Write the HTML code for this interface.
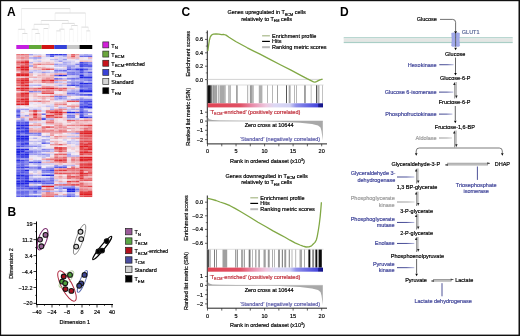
<!DOCTYPE html>
<html><head><meta charset="utf-8"><style>
html,body{margin:0;padding:0;background:#fff;width:520px;height:336px;overflow:hidden}
svg{display:block;will-change:transform}
text{font-family:"Liberation Sans",sans-serif;stroke-width:0.18px}
</style></head><body>
<svg width="520" height="336" viewBox="0 0 520 336">
<defs>
<linearGradient id="cbar" x1="0" x2="1" y1="0" y2="0">
<stop offset="0" stop-color="#e04454"/><stop offset="0.28" stop-color="#e05064"/><stop offset="0.384" stop-color="#e88aa8"/>
<stop offset="0.505" stop-color="#eec8e0"/><stop offset="0.58" stop-color="#dcd8f4"/><stop offset="0.714" stop-color="#d0d0f4"/>
<stop offset="0.766" stop-color="#9090ea"/><stop offset="0.955" stop-color="#4444dc"/><stop offset="0.962" stop-color="#1c1c94"/><stop offset="1" stop-color="#14148a"/>
</linearGradient>
<linearGradient id="bl" x1="0" x2="1" y1="0" y2="0" gradientUnits="objectBoundingBox"><stop offset="0" stop-color="#2c3280"/><stop offset="0.55" stop-color="#3a4092"/><stop offset="1" stop-color="#aeb2da"/></linearGradient>
<linearGradient id="gl" x1="0" x2="1" y1="0" y2="0"><stop offset="0" stop-color="#8a8a8a"/><stop offset="0.6" stop-color="#999"/><stop offset="1" stop-color="#d0d0d0"/></linearGradient>
</defs>
<rect x="0" y="0" width="520" height="336" fill="#fff"/>
<filter id="hb" x="-0.02" y="-0.02" width="1.04" height="1.04"><feGaussianBlur stdDeviation="0.35 0.3"/></filter>
<g filter="url(#hb)"><rect x="16.30" y="54.00" width="4.27" height="1.66" fill="#e7777c"/><rect x="20.52" y="54.00" width="4.27" height="1.66" fill="#e66a6f"/><rect x="24.73" y="54.00" width="4.27" height="1.66" fill="#e87a80"/><rect x="28.95" y="54.00" width="4.27" height="1.66" fill="#a09fee"/><rect x="33.17" y="54.00" width="4.27" height="1.66" fill="#d1cdf3"/><rect x="37.38" y="54.00" width="4.27" height="1.66" fill="#d5d0f3"/><rect x="41.60" y="54.00" width="4.27" height="1.66" fill="#f1ebf6"/><rect x="45.82" y="54.00" width="4.27" height="1.66" fill="#696be9"/><rect x="50.03" y="54.00" width="4.27" height="1.66" fill="#3338e4"/><rect x="54.25" y="54.00" width="4.27" height="1.66" fill="#3237e4"/><rect x="58.47" y="54.00" width="4.27" height="1.66" fill="#3136e4"/><rect x="62.68" y="54.00" width="4.27" height="1.66" fill="#4447e6"/><rect x="66.90" y="54.00" width="4.27" height="1.66" fill="#f0c9d1"/><rect x="71.12" y="54.00" width="4.27" height="1.66" fill="#e6666c"/><rect x="75.33" y="54.00" width="4.27" height="1.66" fill="#eb979d"/><rect x="79.55" y="54.00" width="4.27" height="1.66" fill="#c2bff1"/><rect x="83.77" y="54.00" width="4.27" height="1.66" fill="#a9a7ef"/><rect x="87.98" y="54.00" width="4.27" height="1.66" fill="#bdbaf1"/><rect x="16.30" y="55.61" width="4.27" height="1.66" fill="#edacb3"/><rect x="20.52" y="55.61" width="4.27" height="1.66" fill="#eca7ae"/><rect x="24.73" y="55.61" width="4.27" height="1.66" fill="#eb989e"/><rect x="28.95" y="55.61" width="4.27" height="1.66" fill="#f2d9e1"/><rect x="33.17" y="55.61" width="4.27" height="1.66" fill="#eeb4bb"/><rect x="37.38" y="55.61" width="4.27" height="1.66" fill="#eb959b"/><rect x="41.60" y="55.61" width="4.27" height="1.66" fill="#f1d6dd"/><rect x="45.82" y="55.61" width="4.27" height="1.66" fill="#b2b0f0"/><rect x="50.03" y="55.61" width="4.27" height="1.66" fill="#5154e7"/><rect x="54.25" y="55.61" width="4.27" height="1.66" fill="#d1cdf3"/><rect x="58.47" y="55.61" width="4.27" height="1.66" fill="#d5d0f3"/><rect x="62.68" y="55.61" width="4.27" height="1.66" fill="#acaaef"/><rect x="66.90" y="55.61" width="4.27" height="1.66" fill="#efc1c8"/><rect x="71.12" y="55.61" width="4.27" height="1.66" fill="#e45459"/><rect x="75.33" y="55.61" width="4.27" height="1.66" fill="#efc2ca"/><rect x="79.55" y="55.61" width="4.27" height="1.66" fill="#696be9"/><rect x="83.77" y="55.61" width="4.27" height="1.66" fill="#6e70e9"/><rect x="87.98" y="55.61" width="4.27" height="1.66" fill="#5f61e8"/><rect x="16.30" y="57.21" width="4.27" height="1.66" fill="#ea949a"/><rect x="20.52" y="57.21" width="4.27" height="1.66" fill="#e77075"/><rect x="24.73" y="57.21" width="4.27" height="1.66" fill="#ea8d93"/><rect x="28.95" y="57.21" width="4.27" height="1.66" fill="#a9a7ef"/><rect x="33.17" y="57.21" width="4.27" height="1.66" fill="#8f8eed"/><rect x="37.38" y="57.21" width="4.27" height="1.66" fill="#9292ed"/><rect x="41.60" y="57.21" width="4.27" height="1.66" fill="#e2ddf4"/><rect x="45.82" y="57.21" width="4.27" height="1.66" fill="#e8e3f5"/><rect x="50.03" y="57.21" width="4.27" height="1.66" fill="#f2ecf6"/><rect x="54.25" y="57.21" width="4.27" height="1.66" fill="#f1d2d9"/><rect x="58.47" y="57.21" width="4.27" height="1.66" fill="#cac6f2"/><rect x="62.68" y="57.21" width="4.27" height="1.66" fill="#d6d2f3"/><rect x="66.90" y="57.21" width="4.27" height="1.66" fill="#eeb1b8"/><rect x="71.12" y="57.21" width="4.27" height="1.66" fill="#eb989f"/><rect x="75.33" y="57.21" width="4.27" height="1.66" fill="#edaab1"/><rect x="79.55" y="57.21" width="4.27" height="1.66" fill="#f2dce4"/><rect x="83.77" y="57.21" width="4.27" height="1.66" fill="#f3e9f1"/><rect x="87.98" y="57.21" width="4.27" height="1.66" fill="#edadb4"/><rect x="16.30" y="58.82" width="4.27" height="1.66" fill="#f0cad1"/><rect x="20.52" y="58.82" width="4.27" height="1.66" fill="#eeb4bb"/><rect x="24.73" y="58.82" width="4.27" height="1.66" fill="#eeb6bd"/><rect x="28.95" y="58.82" width="4.27" height="1.66" fill="#f3e7ef"/><rect x="33.17" y="58.82" width="4.27" height="1.66" fill="#cdcaf2"/><rect x="37.38" y="58.82" width="4.27" height="1.66" fill="#f2d8e0"/><rect x="41.60" y="58.82" width="4.27" height="1.66" fill="#f3e4eb"/><rect x="45.82" y="58.82" width="4.27" height="1.66" fill="#f4edf5"/><rect x="50.03" y="58.82" width="4.27" height="1.66" fill="#c0bdf1"/><rect x="54.25" y="58.82" width="4.27" height="1.66" fill="#b0aef0"/><rect x="58.47" y="58.82" width="4.27" height="1.66" fill="#d0ccf3"/><rect x="62.68" y="58.82" width="4.27" height="1.66" fill="#9796ed"/><rect x="66.90" y="58.82" width="4.27" height="1.66" fill="#e9e3f5"/><rect x="71.12" y="58.82" width="4.27" height="1.66" fill="#f3e0e8"/><rect x="75.33" y="58.82" width="4.27" height="1.66" fill="#d1cdf3"/><rect x="79.55" y="58.82" width="4.27" height="1.66" fill="#f2e0e8"/><rect x="83.77" y="58.82" width="4.27" height="1.66" fill="#ece6f5"/><rect x="87.98" y="58.82" width="4.27" height="1.66" fill="#ddd8f4"/><rect x="16.30" y="60.43" width="4.27" height="1.66" fill="#e87f85"/><rect x="20.52" y="60.43" width="4.27" height="1.66" fill="#e6686d"/><rect x="24.73" y="60.43" width="4.27" height="1.66" fill="#e24247"/><rect x="28.95" y="60.43" width="4.27" height="1.66" fill="#f3e1e9"/><rect x="33.17" y="60.43" width="4.27" height="1.66" fill="#d8d4f3"/><rect x="37.38" y="60.43" width="4.27" height="1.66" fill="#c4c1f2"/><rect x="41.60" y="60.43" width="4.27" height="1.66" fill="#f2dee6"/><rect x="45.82" y="60.43" width="4.27" height="1.66" fill="#f2dee6"/><rect x="50.03" y="60.43" width="4.27" height="1.66" fill="#f3e1e9"/><rect x="54.25" y="60.43" width="4.27" height="1.66" fill="#d0ccf3"/><rect x="58.47" y="60.43" width="4.27" height="1.66" fill="#9c9bee"/><rect x="62.68" y="60.43" width="4.27" height="1.66" fill="#cdcaf2"/><rect x="66.90" y="60.43" width="4.27" height="1.66" fill="#cecaf2"/><rect x="71.12" y="60.43" width="4.27" height="1.66" fill="#d8d4f3"/><rect x="75.33" y="60.43" width="4.27" height="1.66" fill="#f4ecf4"/><rect x="79.55" y="60.43" width="4.27" height="1.66" fill="#eeb4ba"/><rect x="83.77" y="60.43" width="4.27" height="1.66" fill="#eeb9c0"/><rect x="87.98" y="60.43" width="4.27" height="1.66" fill="#f0c4cb"/><rect x="16.30" y="62.03" width="4.27" height="1.66" fill="#e4575c"/><rect x="20.52" y="62.03" width="4.27" height="1.66" fill="#df272b"/><rect x="24.73" y="62.03" width="4.27" height="1.66" fill="#de1e22"/><rect x="28.95" y="62.03" width="4.27" height="1.66" fill="#afadf0"/><rect x="33.17" y="62.03" width="4.27" height="1.66" fill="#f2d9e1"/><rect x="37.38" y="62.03" width="4.27" height="1.66" fill="#f1cdd5"/><rect x="41.60" y="62.03" width="4.27" height="1.66" fill="#f0c9d0"/><rect x="45.82" y="62.03" width="4.27" height="1.66" fill="#eeb6bd"/><rect x="50.03" y="62.03" width="4.27" height="1.66" fill="#f1d0d7"/><rect x="54.25" y="62.03" width="4.27" height="1.66" fill="#e2ddf4"/><rect x="58.47" y="62.03" width="4.27" height="1.66" fill="#f3e1e9"/><rect x="62.68" y="62.03" width="4.27" height="1.66" fill="#a3a2ee"/><rect x="66.90" y="62.03" width="4.27" height="1.66" fill="#bab8f1"/><rect x="71.12" y="62.03" width="4.27" height="1.66" fill="#d8d3f3"/><rect x="75.33" y="62.03" width="4.27" height="1.66" fill="#dbd6f4"/><rect x="79.55" y="62.03" width="4.27" height="1.66" fill="#3c41e5"/><rect x="83.77" y="62.03" width="4.27" height="1.66" fill="#6e70e9"/><rect x="87.98" y="62.03" width="4.27" height="1.66" fill="#8586ec"/><rect x="16.30" y="63.64" width="4.27" height="1.66" fill="#e98389"/><rect x="20.52" y="63.64" width="4.27" height="1.66" fill="#e9878d"/><rect x="24.73" y="63.64" width="4.27" height="1.66" fill="#e4585d"/><rect x="28.95" y="63.64" width="4.27" height="1.66" fill="#f0cbd2"/><rect x="33.17" y="63.64" width="4.27" height="1.66" fill="#ea9096"/><rect x="37.38" y="63.64" width="4.27" height="1.66" fill="#e76f74"/><rect x="41.60" y="63.64" width="4.27" height="1.66" fill="#eb99a0"/><rect x="45.82" y="63.64" width="4.27" height="1.66" fill="#eb9ba2"/><rect x="50.03" y="63.64" width="4.27" height="1.66" fill="#ea8e94"/><rect x="54.25" y="63.64" width="4.27" height="1.66" fill="#9291ed"/><rect x="58.47" y="63.64" width="4.27" height="1.66" fill="#afadf0"/><rect x="62.68" y="63.64" width="4.27" height="1.66" fill="#afadf0"/><rect x="66.90" y="63.64" width="4.27" height="1.66" fill="#c4c0f1"/><rect x="71.12" y="63.64" width="4.27" height="1.66" fill="#cecaf2"/><rect x="75.33" y="63.64" width="4.27" height="1.66" fill="#7d7eeb"/><rect x="79.55" y="63.64" width="4.27" height="1.66" fill="#474be6"/><rect x="83.77" y="63.64" width="4.27" height="1.66" fill="#5154e7"/><rect x="87.98" y="63.64" width="4.27" height="1.66" fill="#7f7feb"/><rect x="16.30" y="65.25" width="4.27" height="1.66" fill="#ea9096"/><rect x="20.52" y="65.25" width="4.27" height="1.66" fill="#e13b3f"/><rect x="24.73" y="65.25" width="4.27" height="1.66" fill="#e24549"/><rect x="28.95" y="65.25" width="4.27" height="1.66" fill="#9594ed"/><rect x="33.17" y="65.25" width="4.27" height="1.66" fill="#eca3aa"/><rect x="37.38" y="65.25" width="4.27" height="1.66" fill="#f4eaf2"/><rect x="41.60" y="65.25" width="4.27" height="1.66" fill="#f2dde5"/><rect x="45.82" y="65.25" width="4.27" height="1.66" fill="#ece6f5"/><rect x="50.03" y="65.25" width="4.27" height="1.66" fill="#f4eef6"/><rect x="54.25" y="65.25" width="4.27" height="1.66" fill="#bbb8f1"/><rect x="58.47" y="65.25" width="4.27" height="1.66" fill="#b1aef0"/><rect x="62.68" y="65.25" width="4.27" height="1.66" fill="#bab7f1"/><rect x="66.90" y="65.25" width="4.27" height="1.66" fill="#9292ed"/><rect x="71.12" y="65.25" width="4.27" height="1.66" fill="#9392ed"/><rect x="75.33" y="65.25" width="4.27" height="1.66" fill="#c0bdf1"/><rect x="79.55" y="65.25" width="4.27" height="1.66" fill="#1e24e2"/><rect x="83.77" y="65.25" width="4.27" height="1.66" fill="#3e42e5"/><rect x="87.98" y="65.25" width="4.27" height="1.66" fill="#3439e4"/><rect x="16.30" y="66.85" width="4.27" height="1.66" fill="#de1e22"/><rect x="20.52" y="66.85" width="4.27" height="1.66" fill="#de1e22"/><rect x="24.73" y="66.85" width="4.27" height="1.66" fill="#de1e22"/><rect x="28.95" y="66.85" width="4.27" height="1.66" fill="#f2dee6"/><rect x="33.17" y="66.85" width="4.27" height="1.66" fill="#ea8f95"/><rect x="37.38" y="66.85" width="4.27" height="1.66" fill="#edaab0"/><rect x="41.60" y="66.85" width="4.27" height="1.66" fill="#eeb2b9"/><rect x="45.82" y="66.85" width="4.27" height="1.66" fill="#f1d2d9"/><rect x="50.03" y="66.85" width="4.27" height="1.66" fill="#f2dce4"/><rect x="54.25" y="66.85" width="4.27" height="1.66" fill="#f2ecf6"/><rect x="58.47" y="66.85" width="4.27" height="1.66" fill="#f3edf6"/><rect x="62.68" y="66.85" width="4.27" height="1.66" fill="#f2d9e0"/><rect x="66.90" y="66.85" width="4.27" height="1.66" fill="#8989ec"/><rect x="71.12" y="66.85" width="4.27" height="1.66" fill="#b7b4f0"/><rect x="75.33" y="66.85" width="4.27" height="1.66" fill="#bebbf1"/><rect x="79.55" y="66.85" width="4.27" height="1.66" fill="#9796ed"/><rect x="83.77" y="66.85" width="4.27" height="1.66" fill="#b4b2f0"/><rect x="87.98" y="66.85" width="4.27" height="1.66" fill="#a8a7ef"/><rect x="16.30" y="68.46" width="4.27" height="1.66" fill="#e8797f"/><rect x="20.52" y="68.46" width="4.27" height="1.66" fill="#de1e22"/><rect x="24.73" y="68.46" width="4.27" height="1.66" fill="#de1e22"/><rect x="28.95" y="68.46" width="4.27" height="1.66" fill="#f1d1d9"/><rect x="33.17" y="68.46" width="4.27" height="1.66" fill="#f0c5cc"/><rect x="37.38" y="68.46" width="4.27" height="1.66" fill="#eeb3ba"/><rect x="41.60" y="68.46" width="4.27" height="1.66" fill="#e6686e"/><rect x="45.82" y="68.46" width="4.27" height="1.66" fill="#e34e53"/><rect x="50.03" y="68.46" width="4.27" height="1.66" fill="#e66b71"/><rect x="54.25" y="68.46" width="4.27" height="1.66" fill="#b8b5f0"/><rect x="58.47" y="68.46" width="4.27" height="1.66" fill="#c1bef1"/><rect x="62.68" y="68.46" width="4.27" height="1.66" fill="#c4c1f2"/><rect x="66.90" y="68.46" width="4.27" height="1.66" fill="#5356e7"/><rect x="71.12" y="68.46" width="4.27" height="1.66" fill="#7576ea"/><rect x="75.33" y="68.46" width="4.27" height="1.66" fill="#3a3ee5"/><rect x="79.55" y="68.46" width="4.27" height="1.66" fill="#242ae3"/><rect x="83.77" y="68.46" width="4.27" height="1.66" fill="#5255e7"/><rect x="87.98" y="68.46" width="4.27" height="1.66" fill="#9292ed"/><rect x="16.30" y="70.07" width="4.27" height="1.66" fill="#ea9096"/><rect x="20.52" y="70.07" width="4.27" height="1.66" fill="#e35156"/><rect x="24.73" y="70.07" width="4.27" height="1.66" fill="#e2484d"/><rect x="28.95" y="70.07" width="4.27" height="1.66" fill="#d2cef3"/><rect x="33.17" y="70.07" width="4.27" height="1.66" fill="#bbb8f1"/><rect x="37.38" y="70.07" width="4.27" height="1.66" fill="#cac6f2"/><rect x="41.60" y="70.07" width="4.27" height="1.66" fill="#f1ced6"/><rect x="45.82" y="70.07" width="4.27" height="1.66" fill="#dbd6f4"/><rect x="50.03" y="70.07" width="4.27" height="1.66" fill="#f1ebf6"/><rect x="54.25" y="70.07" width="4.27" height="1.66" fill="#6e6fe9"/><rect x="58.47" y="70.07" width="4.27" height="1.66" fill="#696be9"/><rect x="62.68" y="70.07" width="4.27" height="1.66" fill="#585be7"/><rect x="66.90" y="70.07" width="4.27" height="1.66" fill="#b0aef0"/><rect x="71.12" y="70.07" width="4.27" height="1.66" fill="#a3a1ee"/><rect x="75.33" y="70.07" width="4.27" height="1.66" fill="#8686ec"/><rect x="79.55" y="70.07" width="4.27" height="1.66" fill="#474ae6"/><rect x="83.77" y="70.07" width="4.27" height="1.66" fill="#9b9aee"/><rect x="87.98" y="70.07" width="4.27" height="1.66" fill="#bcb9f1"/><rect x="16.30" y="71.67" width="4.27" height="1.66" fill="#f2dae1"/><rect x="20.52" y="71.67" width="4.27" height="1.66" fill="#e66e73"/><rect x="24.73" y="71.67" width="4.27" height="1.66" fill="#e98288"/><rect x="28.95" y="71.67" width="4.27" height="1.66" fill="#a2a1ee"/><rect x="33.17" y="71.67" width="4.27" height="1.66" fill="#dbd7f4"/><rect x="37.38" y="71.67" width="4.27" height="1.66" fill="#c6c3f2"/><rect x="41.60" y="71.67" width="4.27" height="1.66" fill="#9898ed"/><rect x="45.82" y="71.67" width="4.27" height="1.66" fill="#b5b3f0"/><rect x="50.03" y="71.67" width="4.27" height="1.66" fill="#cecaf2"/><rect x="54.25" y="71.67" width="4.27" height="1.66" fill="#aba9ef"/><rect x="58.47" y="71.67" width="4.27" height="1.66" fill="#c6c2f2"/><rect x="62.68" y="71.67" width="4.27" height="1.66" fill="#c5c2f2"/><rect x="66.90" y="71.67" width="4.27" height="1.66" fill="#7c7deb"/><rect x="71.12" y="71.67" width="4.27" height="1.66" fill="#7576ea"/><rect x="75.33" y="71.67" width="4.27" height="1.66" fill="#8a8aec"/><rect x="79.55" y="71.67" width="4.27" height="1.66" fill="#4448e6"/><rect x="83.77" y="71.67" width="4.27" height="1.66" fill="#8080eb"/><rect x="87.98" y="71.67" width="4.27" height="1.66" fill="#4a4de6"/><rect x="16.30" y="73.28" width="4.27" height="1.66" fill="#de1e22"/><rect x="20.52" y="73.28" width="4.27" height="1.66" fill="#de1e22"/><rect x="24.73" y="73.28" width="4.27" height="1.66" fill="#de1e22"/><rect x="28.95" y="73.28" width="4.27" height="1.66" fill="#eeb4ba"/><rect x="33.17" y="73.28" width="4.27" height="1.66" fill="#f2dde5"/><rect x="37.38" y="73.28" width="4.27" height="1.66" fill="#f1cfd7"/><rect x="41.60" y="73.28" width="4.27" height="1.66" fill="#eeb1b8"/><rect x="45.82" y="73.28" width="4.27" height="1.66" fill="#f1d6de"/><rect x="50.03" y="73.28" width="4.27" height="1.66" fill="#f0c5cd"/><rect x="54.25" y="73.28" width="4.27" height="1.66" fill="#eca2a9"/><rect x="58.47" y="73.28" width="4.27" height="1.66" fill="#eb979e"/><rect x="62.68" y="73.28" width="4.27" height="1.66" fill="#eda9b0"/><rect x="66.90" y="73.28" width="4.27" height="1.66" fill="#7475ea"/><rect x="71.12" y="73.28" width="4.27" height="1.66" fill="#6264e8"/><rect x="75.33" y="73.28" width="4.27" height="1.66" fill="#7072ea"/><rect x="79.55" y="73.28" width="4.27" height="1.66" fill="#7475ea"/><rect x="83.77" y="73.28" width="4.27" height="1.66" fill="#a3a1ee"/><rect x="87.98" y="73.28" width="4.27" height="1.66" fill="#8e8eed"/><rect x="16.30" y="74.89" width="4.27" height="1.66" fill="#de1e22"/><rect x="20.52" y="74.89" width="4.27" height="1.66" fill="#de1e22"/><rect x="24.73" y="74.89" width="4.27" height="1.66" fill="#de1e22"/><rect x="28.95" y="74.89" width="4.27" height="1.66" fill="#eebac1"/><rect x="33.17" y="74.89" width="4.27" height="1.66" fill="#f4edf5"/><rect x="37.38" y="74.89" width="4.27" height="1.66" fill="#edafb6"/><rect x="41.60" y="74.89" width="4.27" height="1.66" fill="#eeb5bc"/><rect x="45.82" y="74.89" width="4.27" height="1.66" fill="#f0cbd2"/><rect x="50.03" y="74.89" width="4.27" height="1.66" fill="#eca1a7"/><rect x="54.25" y="74.89" width="4.27" height="1.66" fill="#6063e8"/><rect x="58.47" y="74.89" width="4.27" height="1.66" fill="#1e24e2"/><rect x="62.68" y="74.89" width="4.27" height="1.66" fill="#2b31e3"/><rect x="66.90" y="74.89" width="4.27" height="1.66" fill="#c2bff1"/><rect x="71.12" y="74.89" width="4.27" height="1.66" fill="#bfbcf1"/><rect x="75.33" y="74.89" width="4.27" height="1.66" fill="#b3b1f0"/><rect x="79.55" y="74.89" width="4.27" height="1.66" fill="#2025e2"/><rect x="83.77" y="74.89" width="4.27" height="1.66" fill="#a2a1ee"/><rect x="87.98" y="74.89" width="4.27" height="1.66" fill="#8b8bec"/><rect x="16.30" y="76.49" width="4.27" height="1.66" fill="#f0c7ce"/><rect x="20.52" y="76.49" width="4.27" height="1.66" fill="#f0c5cd"/><rect x="24.73" y="76.49" width="4.27" height="1.66" fill="#eda8af"/><rect x="28.95" y="76.49" width="4.27" height="1.66" fill="#eeb5bc"/><rect x="33.17" y="76.49" width="4.27" height="1.66" fill="#eda9af"/><rect x="37.38" y="76.49" width="4.27" height="1.66" fill="#efc3ca"/><rect x="41.60" y="76.49" width="4.27" height="1.66" fill="#eeb8be"/><rect x="45.82" y="76.49" width="4.27" height="1.66" fill="#edabb2"/><rect x="50.03" y="76.49" width="4.27" height="1.66" fill="#edadb4"/><rect x="54.25" y="76.49" width="4.27" height="1.66" fill="#f1d5dc"/><rect x="58.47" y="76.49" width="4.27" height="1.66" fill="#f2dee5"/><rect x="62.68" y="76.49" width="4.27" height="1.66" fill="#f3e9f1"/><rect x="66.90" y="76.49" width="4.27" height="1.66" fill="#ccc8f2"/><rect x="71.12" y="76.49" width="4.27" height="1.66" fill="#bcb9f1"/><rect x="75.33" y="76.49" width="4.27" height="1.66" fill="#aaa8ef"/><rect x="79.55" y="76.49" width="4.27" height="1.66" fill="#1e24e2"/><rect x="83.77" y="76.49" width="4.27" height="1.66" fill="#2c31e3"/><rect x="87.98" y="76.49" width="4.27" height="1.66" fill="#2a2fe3"/><rect x="16.30" y="78.10" width="4.27" height="1.66" fill="#e5646a"/><rect x="20.52" y="78.10" width="4.27" height="1.66" fill="#e13d42"/><rect x="24.73" y="78.10" width="4.27" height="1.66" fill="#e03034"/><rect x="28.95" y="78.10" width="4.27" height="1.66" fill="#f4ecf4"/><rect x="33.17" y="78.10" width="4.27" height="1.66" fill="#e2ddf4"/><rect x="37.38" y="78.10" width="4.27" height="1.66" fill="#f2d6de"/><rect x="41.60" y="78.10" width="4.27" height="1.66" fill="#eca6ad"/><rect x="45.82" y="78.10" width="4.27" height="1.66" fill="#e98389"/><rect x="50.03" y="78.10" width="4.27" height="1.66" fill="#eda9b0"/><rect x="54.25" y="78.10" width="4.27" height="1.66" fill="#5a5ce8"/><rect x="58.47" y="78.10" width="4.27" height="1.66" fill="#7c7ceb"/><rect x="62.68" y="78.10" width="4.27" height="1.66" fill="#b4b1f0"/><rect x="66.90" y="78.10" width="4.27" height="1.66" fill="#6e6fe9"/><rect x="71.12" y="78.10" width="4.27" height="1.66" fill="#595be7"/><rect x="75.33" y="78.10" width="4.27" height="1.66" fill="#6668e9"/><rect x="79.55" y="78.10" width="4.27" height="1.66" fill="#7475ea"/><rect x="83.77" y="78.10" width="4.27" height="1.66" fill="#7475ea"/><rect x="87.98" y="78.10" width="4.27" height="1.66" fill="#6d6ee9"/><rect x="16.30" y="79.71" width="4.27" height="1.66" fill="#e24247"/><rect x="20.52" y="79.71" width="4.27" height="1.66" fill="#de1e22"/><rect x="24.73" y="79.71" width="4.27" height="1.66" fill="#de1e22"/><rect x="28.95" y="79.71" width="4.27" height="1.66" fill="#f0c6cd"/><rect x="33.17" y="79.71" width="4.27" height="1.66" fill="#eda9b0"/><rect x="37.38" y="79.71" width="4.27" height="1.66" fill="#eeb3ba"/><rect x="41.60" y="79.71" width="4.27" height="1.66" fill="#e13d42"/><rect x="45.82" y="79.71" width="4.27" height="1.66" fill="#e4545a"/><rect x="50.03" y="79.71" width="4.27" height="1.66" fill="#de1e22"/><rect x="54.25" y="79.71" width="4.27" height="1.66" fill="#ea8d93"/><rect x="58.47" y="79.71" width="4.27" height="1.66" fill="#edabb2"/><rect x="62.68" y="79.71" width="4.27" height="1.66" fill="#eca5ac"/><rect x="66.90" y="79.71" width="4.27" height="1.66" fill="#eae4f5"/><rect x="71.12" y="79.71" width="4.27" height="1.66" fill="#aba9ef"/><rect x="75.33" y="79.71" width="4.27" height="1.66" fill="#c5c1f2"/><rect x="79.55" y="79.71" width="4.27" height="1.66" fill="#9f9dee"/><rect x="83.77" y="79.71" width="4.27" height="1.66" fill="#8a8aec"/><rect x="87.98" y="79.71" width="4.27" height="1.66" fill="#7172ea"/><rect x="16.30" y="81.31" width="4.27" height="1.66" fill="#e4585d"/><rect x="20.52" y="81.31" width="4.27" height="1.66" fill="#df272b"/><rect x="24.73" y="81.31" width="4.27" height="1.66" fill="#e02d31"/><rect x="28.95" y="81.31" width="4.27" height="1.66" fill="#eb9da3"/><rect x="33.17" y="81.31" width="4.27" height="1.66" fill="#efc1c8"/><rect x="37.38" y="81.31" width="4.27" height="1.66" fill="#eeb8bf"/><rect x="41.60" y="81.31" width="4.27" height="1.66" fill="#e6686d"/><rect x="45.82" y="81.31" width="4.27" height="1.66" fill="#e9868c"/><rect x="50.03" y="81.31" width="4.27" height="1.66" fill="#e77177"/><rect x="54.25" y="81.31" width="4.27" height="1.66" fill="#a4a3ef"/><rect x="58.47" y="81.31" width="4.27" height="1.66" fill="#c1bdf1"/><rect x="62.68" y="81.31" width="4.27" height="1.66" fill="#dbd7f4"/><rect x="66.90" y="81.31" width="4.27" height="1.66" fill="#9797ed"/><rect x="71.12" y="81.31" width="4.27" height="1.66" fill="#8a8aec"/><rect x="75.33" y="81.31" width="4.27" height="1.66" fill="#8686ec"/><rect x="79.55" y="81.31" width="4.27" height="1.66" fill="#7475ea"/><rect x="83.77" y="81.31" width="4.27" height="1.66" fill="#b9b6f0"/><rect x="87.98" y="81.31" width="4.27" height="1.66" fill="#9d9cee"/><rect x="16.30" y="82.92" width="4.27" height="1.66" fill="#e87f85"/><rect x="20.52" y="82.92" width="4.27" height="1.66" fill="#e13d42"/><rect x="24.73" y="82.92" width="4.27" height="1.66" fill="#e76f74"/><rect x="28.95" y="82.92" width="4.27" height="1.66" fill="#ebe5f5"/><rect x="33.17" y="82.92" width="4.27" height="1.66" fill="#f3e7ef"/><rect x="37.38" y="82.92" width="4.27" height="1.66" fill="#f2dee6"/><rect x="41.60" y="82.92" width="4.27" height="1.66" fill="#f3e6ed"/><rect x="45.82" y="82.92" width="4.27" height="1.66" fill="#f0c8cf"/><rect x="50.03" y="82.92" width="4.27" height="1.66" fill="#efc3ca"/><rect x="54.25" y="82.92" width="4.27" height="1.66" fill="#f0cbd3"/><rect x="58.47" y="82.92" width="4.27" height="1.66" fill="#f0cad1"/><rect x="62.68" y="82.92" width="4.27" height="1.66" fill="#eeb9c0"/><rect x="66.90" y="82.92" width="4.27" height="1.66" fill="#bfbcf1"/><rect x="71.12" y="82.92" width="4.27" height="1.66" fill="#8a8aec"/><rect x="75.33" y="82.92" width="4.27" height="1.66" fill="#9b9aee"/><rect x="79.55" y="82.92" width="4.27" height="1.66" fill="#2026e2"/><rect x="83.77" y="82.92" width="4.27" height="1.66" fill="#1f25e2"/><rect x="87.98" y="82.92" width="4.27" height="1.66" fill="#3539e4"/><rect x="16.30" y="84.53" width="4.27" height="1.66" fill="#e55c61"/><rect x="20.52" y="84.53" width="4.27" height="1.66" fill="#e1363b"/><rect x="24.73" y="84.53" width="4.27" height="1.66" fill="#de1e22"/><rect x="28.95" y="84.53" width="4.27" height="1.66" fill="#bcb9f1"/><rect x="33.17" y="84.53" width="4.27" height="1.66" fill="#b2b0f0"/><rect x="37.38" y="84.53" width="4.27" height="1.66" fill="#a6a4ef"/><rect x="41.60" y="84.53" width="4.27" height="1.66" fill="#f0cdd4"/><rect x="45.82" y="84.53" width="4.27" height="1.66" fill="#e0dbf4"/><rect x="50.03" y="84.53" width="4.27" height="1.66" fill="#f2dde5"/><rect x="54.25" y="84.53" width="4.27" height="1.66" fill="#c9c5f2"/><rect x="58.47" y="84.53" width="4.27" height="1.66" fill="#a8a6ef"/><rect x="62.68" y="84.53" width="4.27" height="1.66" fill="#cdc9f2"/><rect x="66.90" y="84.53" width="4.27" height="1.66" fill="#585be7"/><rect x="71.12" y="84.53" width="4.27" height="1.66" fill="#373ce4"/><rect x="75.33" y="84.53" width="4.27" height="1.66" fill="#5053e7"/><rect x="79.55" y="84.53" width="4.27" height="1.66" fill="#5e61e8"/><rect x="83.77" y="84.53" width="4.27" height="1.66" fill="#6f70ea"/><rect x="87.98" y="84.53" width="4.27" height="1.66" fill="#7273ea"/><rect x="16.30" y="86.13" width="4.27" height="1.66" fill="#eeb5bc"/><rect x="20.52" y="86.13" width="4.27" height="1.66" fill="#e66d72"/><rect x="24.73" y="86.13" width="4.27" height="1.66" fill="#e7747a"/><rect x="28.95" y="86.13" width="4.27" height="1.66" fill="#dfdaf4"/><rect x="33.17" y="86.13" width="4.27" height="1.66" fill="#f4eef6"/><rect x="37.38" y="86.13" width="4.27" height="1.66" fill="#ece7f5"/><rect x="41.60" y="86.13" width="4.27" height="1.66" fill="#ea9298"/><rect x="45.82" y="86.13" width="4.27" height="1.66" fill="#e9898f"/><rect x="50.03" y="86.13" width="4.27" height="1.66" fill="#eb9da3"/><rect x="54.25" y="86.13" width="4.27" height="1.66" fill="#f0c7ce"/><rect x="58.47" y="86.13" width="4.27" height="1.66" fill="#e4dff5"/><rect x="62.68" y="86.13" width="4.27" height="1.66" fill="#f3e0e8"/><rect x="66.90" y="86.13" width="4.27" height="1.66" fill="#d9d4f3"/><rect x="71.12" y="86.13" width="4.27" height="1.66" fill="#eee8f5"/><rect x="75.33" y="86.13" width="4.27" height="1.66" fill="#a3a2ee"/><rect x="79.55" y="86.13" width="4.27" height="1.66" fill="#4145e5"/><rect x="83.77" y="86.13" width="4.27" height="1.66" fill="#5659e7"/><rect x="87.98" y="86.13" width="4.27" height="1.66" fill="#5e60e8"/><rect x="16.30" y="87.74" width="4.27" height="1.66" fill="#de1e22"/><rect x="20.52" y="87.74" width="4.27" height="1.66" fill="#de1e22"/><rect x="24.73" y="87.74" width="4.27" height="1.66" fill="#de1e22"/><rect x="28.95" y="87.74" width="4.27" height="1.66" fill="#e9848a"/><rect x="33.17" y="87.74" width="4.27" height="1.66" fill="#e66a6f"/><rect x="37.38" y="87.74" width="4.27" height="1.66" fill="#e24347"/><rect x="41.60" y="87.74" width="4.27" height="1.66" fill="#e1383c"/><rect x="45.82" y="87.74" width="4.27" height="1.66" fill="#e03337"/><rect x="50.03" y="87.74" width="4.27" height="1.66" fill="#de1e22"/><rect x="54.25" y="87.74" width="4.27" height="1.66" fill="#e45459"/><rect x="58.47" y="87.74" width="4.27" height="1.66" fill="#e6656a"/><rect x="62.68" y="87.74" width="4.27" height="1.66" fill="#e34f54"/><rect x="66.90" y="87.74" width="4.27" height="1.66" fill="#eebac1"/><rect x="71.12" y="87.74" width="4.27" height="1.66" fill="#eeb7be"/><rect x="75.33" y="87.74" width="4.27" height="1.66" fill="#f1d6de"/><rect x="79.55" y="87.74" width="4.27" height="1.66" fill="#8e8dec"/><rect x="83.77" y="87.74" width="4.27" height="1.66" fill="#8c8cec"/><rect x="87.98" y="87.74" width="4.27" height="1.66" fill="#686ae9"/><rect x="16.30" y="89.35" width="4.27" height="1.66" fill="#e76f75"/><rect x="20.52" y="89.35" width="4.27" height="1.66" fill="#e02e33"/><rect x="24.73" y="89.35" width="4.27" height="1.66" fill="#e34a4f"/><rect x="28.95" y="89.35" width="4.27" height="1.66" fill="#edaab1"/><rect x="33.17" y="89.35" width="4.27" height="1.66" fill="#ea8b91"/><rect x="37.38" y="89.35" width="4.27" height="1.66" fill="#eb9da4"/><rect x="41.60" y="89.35" width="4.27" height="1.66" fill="#eca3aa"/><rect x="45.82" y="89.35" width="4.27" height="1.66" fill="#e98a90"/><rect x="50.03" y="89.35" width="4.27" height="1.66" fill="#ea9299"/><rect x="54.25" y="89.35" width="4.27" height="1.66" fill="#ec9fa6"/><rect x="58.47" y="89.35" width="4.27" height="1.66" fill="#e6656a"/><rect x="62.68" y="89.35" width="4.27" height="1.66" fill="#eb949b"/><rect x="66.90" y="89.35" width="4.27" height="1.66" fill="#cac7f2"/><rect x="71.12" y="89.35" width="4.27" height="1.66" fill="#acaaef"/><rect x="75.33" y="89.35" width="4.27" height="1.66" fill="#b9b6f0"/><rect x="79.55" y="89.35" width="4.27" height="1.66" fill="#1e24e2"/><rect x="83.77" y="89.35" width="4.27" height="1.66" fill="#4044e5"/><rect x="87.98" y="89.35" width="4.27" height="1.66" fill="#373be4"/><rect x="16.30" y="90.96" width="4.27" height="1.66" fill="#f2d7de"/><rect x="20.52" y="90.96" width="4.27" height="1.66" fill="#eeb7be"/><rect x="24.73" y="90.96" width="4.27" height="1.66" fill="#eca0a6"/><rect x="28.95" y="90.96" width="4.27" height="1.66" fill="#7476ea"/><rect x="33.17" y="90.96" width="4.27" height="1.66" fill="#9291ed"/><rect x="37.38" y="90.96" width="4.27" height="1.66" fill="#9a99ee"/><rect x="41.60" y="90.96" width="4.27" height="1.66" fill="#e76f75"/><rect x="45.82" y="90.96" width="4.27" height="1.66" fill="#e87e84"/><rect x="50.03" y="90.96" width="4.27" height="1.66" fill="#ea8c92"/><rect x="54.25" y="90.96" width="4.27" height="1.66" fill="#f4eaf2"/><rect x="58.47" y="90.96" width="4.27" height="1.66" fill="#eae5f5"/><rect x="62.68" y="90.96" width="4.27" height="1.66" fill="#f0cdd4"/><rect x="66.90" y="90.96" width="4.27" height="1.66" fill="#b8b5f0"/><rect x="71.12" y="90.96" width="4.27" height="1.66" fill="#a5a3ef"/><rect x="75.33" y="90.96" width="4.27" height="1.66" fill="#9d9cee"/><rect x="79.55" y="90.96" width="4.27" height="1.66" fill="#1e24e2"/><rect x="83.77" y="90.96" width="4.27" height="1.66" fill="#1e24e2"/><rect x="87.98" y="90.96" width="4.27" height="1.66" fill="#1e24e2"/><rect x="16.30" y="92.56" width="4.27" height="1.66" fill="#e8797f"/><rect x="20.52" y="92.56" width="4.27" height="1.66" fill="#df292d"/><rect x="24.73" y="92.56" width="4.27" height="1.66" fill="#de1e22"/><rect x="28.95" y="92.56" width="4.27" height="1.66" fill="#efbfc6"/><rect x="33.17" y="92.56" width="4.27" height="1.66" fill="#eebac1"/><rect x="37.38" y="92.56" width="4.27" height="1.66" fill="#f0c7ce"/><rect x="41.60" y="92.56" width="4.27" height="1.66" fill="#e34b50"/><rect x="45.82" y="92.56" width="4.27" height="1.66" fill="#e35256"/><rect x="50.03" y="92.56" width="4.27" height="1.66" fill="#e24347"/><rect x="54.25" y="92.56" width="4.27" height="1.66" fill="#e7e2f5"/><rect x="58.47" y="92.56" width="4.27" height="1.66" fill="#f3e5ed"/><rect x="62.68" y="92.56" width="4.27" height="1.66" fill="#f1d3da"/><rect x="66.90" y="92.56" width="4.27" height="1.66" fill="#7072ea"/><rect x="71.12" y="92.56" width="4.27" height="1.66" fill="#7072ea"/><rect x="75.33" y="92.56" width="4.27" height="1.66" fill="#9493ed"/><rect x="79.55" y="92.56" width="4.27" height="1.66" fill="#b1aef0"/><rect x="83.77" y="92.56" width="4.27" height="1.66" fill="#ccc8f2"/><rect x="87.98" y="92.56" width="4.27" height="1.66" fill="#cecbf2"/><rect x="16.30" y="94.17" width="4.27" height="1.66" fill="#e45459"/><rect x="20.52" y="94.17" width="4.27" height="1.66" fill="#de1e22"/><rect x="24.73" y="94.17" width="4.27" height="1.66" fill="#e03135"/><rect x="28.95" y="94.17" width="4.27" height="1.66" fill="#f1d3db"/><rect x="33.17" y="94.17" width="4.27" height="1.66" fill="#eebac1"/><rect x="37.38" y="94.17" width="4.27" height="1.66" fill="#f4ecf4"/><rect x="41.60" y="94.17" width="4.27" height="1.66" fill="#f2ecf6"/><rect x="45.82" y="94.17" width="4.27" height="1.66" fill="#ece6f5"/><rect x="50.03" y="94.17" width="4.27" height="1.66" fill="#f1d3da"/><rect x="54.25" y="94.17" width="4.27" height="1.66" fill="#edadb4"/><rect x="58.47" y="94.17" width="4.27" height="1.66" fill="#eca1a8"/><rect x="62.68" y="94.17" width="4.27" height="1.66" fill="#efc2c9"/><rect x="66.90" y="94.17" width="4.27" height="1.66" fill="#9b9aee"/><rect x="71.12" y="94.17" width="4.27" height="1.66" fill="#9b9aee"/><rect x="75.33" y="94.17" width="4.27" height="1.66" fill="#7677ea"/><rect x="79.55" y="94.17" width="4.27" height="1.66" fill="#4145e5"/><rect x="83.77" y="94.17" width="4.27" height="1.66" fill="#363ae4"/><rect x="87.98" y="94.17" width="4.27" height="1.66" fill="#1e24e2"/><rect x="16.30" y="95.78" width="4.27" height="1.66" fill="#e77176"/><rect x="20.52" y="95.78" width="4.27" height="1.66" fill="#e2464b"/><rect x="24.73" y="95.78" width="4.27" height="1.66" fill="#e34d52"/><rect x="28.95" y="95.78" width="4.27" height="1.66" fill="#f1d6dd"/><rect x="33.17" y="95.78" width="4.27" height="1.66" fill="#eeb6bc"/><rect x="37.38" y="95.78" width="4.27" height="1.66" fill="#eb99a0"/><rect x="41.60" y="95.78" width="4.27" height="1.66" fill="#ea8e94"/><rect x="45.82" y="95.78" width="4.27" height="1.66" fill="#ea9298"/><rect x="50.03" y="95.78" width="4.27" height="1.66" fill="#e6686e"/><rect x="54.25" y="95.78" width="4.27" height="1.66" fill="#7576ea"/><rect x="58.47" y="95.78" width="4.27" height="1.66" fill="#7273ea"/><rect x="62.68" y="95.78" width="4.27" height="1.66" fill="#8c8cec"/><rect x="66.90" y="95.78" width="4.27" height="1.66" fill="#f0c5cc"/><rect x="71.12" y="95.78" width="4.27" height="1.66" fill="#f3e5ed"/><rect x="75.33" y="95.78" width="4.27" height="1.66" fill="#f3e9f1"/><rect x="79.55" y="95.78" width="4.27" height="1.66" fill="#f3e4ec"/><rect x="83.77" y="95.78" width="4.27" height="1.66" fill="#f3e5ed"/><rect x="87.98" y="95.78" width="4.27" height="1.66" fill="#dcd7f4"/><rect x="16.30" y="97.38" width="4.27" height="1.66" fill="#e77278"/><rect x="20.52" y="97.38" width="4.27" height="1.66" fill="#e56368"/><rect x="24.73" y="97.38" width="4.27" height="1.66" fill="#e3494e"/><rect x="28.95" y="97.38" width="4.27" height="1.66" fill="#f3e3eb"/><rect x="33.17" y="97.38" width="4.27" height="1.66" fill="#f1d2da"/><rect x="37.38" y="97.38" width="4.27" height="1.66" fill="#f0c4cb"/><rect x="41.60" y="97.38" width="4.27" height="1.66" fill="#eca5ab"/><rect x="45.82" y="97.38" width="4.27" height="1.66" fill="#f0ccd4"/><rect x="50.03" y="97.38" width="4.27" height="1.66" fill="#f0c6cd"/><rect x="54.25" y="97.38" width="4.27" height="1.66" fill="#afadf0"/><rect x="58.47" y="97.38" width="4.27" height="1.66" fill="#8a8aec"/><rect x="62.68" y="97.38" width="4.27" height="1.66" fill="#aba9ef"/><rect x="66.90" y="97.38" width="4.27" height="1.66" fill="#e5e0f5"/><rect x="71.12" y="97.38" width="4.27" height="1.66" fill="#f3e7ef"/><rect x="75.33" y="97.38" width="4.27" height="1.66" fill="#dbd7f4"/><rect x="79.55" y="97.38" width="4.27" height="1.66" fill="#a19fee"/><rect x="83.77" y="97.38" width="4.27" height="1.66" fill="#ccc8f2"/><rect x="87.98" y="97.38" width="4.27" height="1.66" fill="#d0ccf3"/><rect x="16.30" y="98.99" width="4.27" height="1.66" fill="#e4575c"/><rect x="20.52" y="98.99" width="4.27" height="1.66" fill="#de1e22"/><rect x="24.73" y="98.99" width="4.27" height="1.66" fill="#df262a"/><rect x="28.95" y="98.99" width="4.27" height="1.66" fill="#eae5f5"/><rect x="33.17" y="98.99" width="4.27" height="1.66" fill="#d6d1f3"/><rect x="37.38" y="98.99" width="4.27" height="1.66" fill="#eae5f5"/><rect x="41.60" y="98.99" width="4.27" height="1.66" fill="#efc1c8"/><rect x="45.82" y="98.99" width="4.27" height="1.66" fill="#f0eaf6"/><rect x="50.03" y="98.99" width="4.27" height="1.66" fill="#eeb2b9"/><rect x="54.25" y="98.99" width="4.27" height="1.66" fill="#aeacef"/><rect x="58.47" y="98.99" width="4.27" height="1.66" fill="#bdbaf1"/><rect x="62.68" y="98.99" width="4.27" height="1.66" fill="#c0bdf1"/><rect x="66.90" y="98.99" width="4.27" height="1.66" fill="#c7c4f2"/><rect x="71.12" y="98.99" width="4.27" height="1.66" fill="#9796ed"/><rect x="75.33" y="98.99" width="4.27" height="1.66" fill="#8585ec"/><rect x="79.55" y="98.99" width="4.27" height="1.66" fill="#7d7eeb"/><rect x="83.77" y="98.99" width="4.27" height="1.66" fill="#8182eb"/><rect x="87.98" y="98.99" width="4.27" height="1.66" fill="#7e7eeb"/><rect x="16.30" y="100.60" width="4.27" height="1.66" fill="#e02e32"/><rect x="20.52" y="100.60" width="4.27" height="1.66" fill="#e13a3e"/><rect x="24.73" y="100.60" width="4.27" height="1.66" fill="#de1e22"/><rect x="28.95" y="100.60" width="4.27" height="1.66" fill="#ec9ea5"/><rect x="33.17" y="100.60" width="4.27" height="1.66" fill="#e98389"/><rect x="37.38" y="100.60" width="4.27" height="1.66" fill="#e66a6f"/><rect x="41.60" y="100.60" width="4.27" height="1.66" fill="#eb979d"/><rect x="45.82" y="100.60" width="4.27" height="1.66" fill="#eb9ca2"/><rect x="50.03" y="100.60" width="4.27" height="1.66" fill="#f2dfe7"/><rect x="54.25" y="100.60" width="4.27" height="1.66" fill="#f4ebf3"/><rect x="58.47" y="100.60" width="4.27" height="1.66" fill="#f3e7ef"/><rect x="62.68" y="100.60" width="4.27" height="1.66" fill="#f0cdd4"/><rect x="66.90" y="100.60" width="4.27" height="1.66" fill="#e34b50"/><rect x="71.12" y="100.60" width="4.27" height="1.66" fill="#e34a4f"/><rect x="75.33" y="100.60" width="4.27" height="1.66" fill="#e34f54"/><rect x="79.55" y="100.60" width="4.27" height="1.66" fill="#5053e7"/><rect x="83.77" y="100.60" width="4.27" height="1.66" fill="#474be6"/><rect x="87.98" y="100.60" width="4.27" height="1.66" fill="#3a3ee5"/><rect x="16.30" y="102.20" width="4.27" height="1.66" fill="#e56066"/><rect x="20.52" y="102.20" width="4.27" height="1.66" fill="#e45459"/><rect x="24.73" y="102.20" width="4.27" height="1.66" fill="#de1e22"/><rect x="28.95" y="102.20" width="4.27" height="1.66" fill="#e1dcf4"/><rect x="33.17" y="102.20" width="4.27" height="1.66" fill="#ede7f5"/><rect x="37.38" y="102.20" width="4.27" height="1.66" fill="#ded9f4"/><rect x="41.60" y="102.20" width="4.27" height="1.66" fill="#eeb3ba"/><rect x="45.82" y="102.20" width="4.27" height="1.66" fill="#f1d0d7"/><rect x="50.03" y="102.20" width="4.27" height="1.66" fill="#f2dae1"/><rect x="54.25" y="102.20" width="4.27" height="1.66" fill="#eeb3ba"/><rect x="58.47" y="102.20" width="4.27" height="1.66" fill="#eeb9c0"/><rect x="62.68" y="102.20" width="4.27" height="1.66" fill="#edacb3"/><rect x="66.90" y="102.20" width="4.27" height="1.66" fill="#efe9f6"/><rect x="71.12" y="102.20" width="4.27" height="1.66" fill="#f3e6ee"/><rect x="75.33" y="102.20" width="4.27" height="1.66" fill="#e5e0f5"/><rect x="79.55" y="102.20" width="4.27" height="1.66" fill="#7678ea"/><rect x="83.77" y="102.20" width="4.27" height="1.66" fill="#494de6"/><rect x="87.98" y="102.20" width="4.27" height="1.66" fill="#6e70e9"/><rect x="16.30" y="103.81" width="4.27" height="1.66" fill="#de1e22"/><rect x="20.52" y="103.81" width="4.27" height="1.66" fill="#de1e22"/><rect x="24.73" y="103.81" width="4.27" height="1.66" fill="#de1e22"/><rect x="28.95" y="103.81" width="4.27" height="1.66" fill="#f0eaf6"/><rect x="33.17" y="103.81" width="4.27" height="1.66" fill="#f2dfe7"/><rect x="37.38" y="103.81" width="4.27" height="1.66" fill="#f3e5ed"/><rect x="41.60" y="103.81" width="4.27" height="1.66" fill="#ede7f5"/><rect x="45.82" y="103.81" width="4.27" height="1.66" fill="#f3e0e8"/><rect x="50.03" y="103.81" width="4.27" height="1.66" fill="#ddd8f4"/><rect x="54.25" y="103.81" width="4.27" height="1.66" fill="#ea8e94"/><rect x="58.47" y="103.81" width="4.27" height="1.66" fill="#ea8c92"/><rect x="62.68" y="103.81" width="4.27" height="1.66" fill="#e7767b"/><rect x="66.90" y="103.81" width="4.27" height="1.66" fill="#f4edf5"/><rect x="71.12" y="103.81" width="4.27" height="1.66" fill="#f0cdd4"/><rect x="75.33" y="103.81" width="4.27" height="1.66" fill="#f0cbd3"/><rect x="79.55" y="103.81" width="4.27" height="1.66" fill="#6164e8"/><rect x="83.77" y="103.81" width="4.27" height="1.66" fill="#7374ea"/><rect x="87.98" y="103.81" width="4.27" height="1.66" fill="#464ae6"/><rect x="16.30" y="105.42" width="4.27" height="1.66" fill="#e1dcf4"/><rect x="20.52" y="105.42" width="4.27" height="1.66" fill="#f4edf5"/><rect x="24.73" y="105.42" width="4.27" height="1.66" fill="#f2d7df"/><rect x="28.95" y="105.42" width="4.27" height="1.66" fill="#f2ecf6"/><rect x="33.17" y="105.42" width="4.27" height="1.66" fill="#f3e9f1"/><rect x="37.38" y="105.42" width="4.27" height="1.66" fill="#f2d7de"/><rect x="41.60" y="105.42" width="4.27" height="1.66" fill="#ded9f4"/><rect x="45.82" y="105.42" width="4.27" height="1.66" fill="#bcbaf1"/><rect x="50.03" y="105.42" width="4.27" height="1.66" fill="#cdc9f2"/><rect x="54.25" y="105.42" width="4.27" height="1.66" fill="#edabb1"/><rect x="58.47" y="105.42" width="4.27" height="1.66" fill="#e0dbf4"/><rect x="62.68" y="105.42" width="4.27" height="1.66" fill="#f2d9e1"/><rect x="66.90" y="105.42" width="4.27" height="1.66" fill="#eb969d"/><rect x="71.12" y="105.42" width="4.27" height="1.66" fill="#ea8b91"/><rect x="75.33" y="105.42" width="4.27" height="1.66" fill="#ea9197"/><rect x="79.55" y="105.42" width="4.27" height="1.66" fill="#4549e6"/><rect x="83.77" y="105.42" width="4.27" height="1.66" fill="#3439e4"/><rect x="87.98" y="105.42" width="4.27" height="1.66" fill="#4d50e6"/><rect x="16.30" y="107.02" width="4.27" height="1.66" fill="#f1d3db"/><rect x="20.52" y="107.02" width="4.27" height="1.66" fill="#f4ebf3"/><rect x="24.73" y="107.02" width="4.27" height="1.66" fill="#f3edf6"/><rect x="28.95" y="107.02" width="4.27" height="1.66" fill="#e0dcf4"/><rect x="33.17" y="107.02" width="4.27" height="1.66" fill="#e8e2f5"/><rect x="37.38" y="107.02" width="4.27" height="1.66" fill="#dbd6f4"/><rect x="41.60" y="107.02" width="4.27" height="1.66" fill="#f4eaf2"/><rect x="45.82" y="107.02" width="4.27" height="1.66" fill="#f2dbe2"/><rect x="50.03" y="107.02" width="4.27" height="1.66" fill="#d1cdf3"/><rect x="54.25" y="107.02" width="4.27" height="1.66" fill="#ede8f5"/><rect x="58.47" y="107.02" width="4.27" height="1.66" fill="#b8b5f0"/><rect x="62.68" y="107.02" width="4.27" height="1.66" fill="#c0bdf1"/><rect x="66.90" y="107.02" width="4.27" height="1.66" fill="#e3def4"/><rect x="71.12" y="107.02" width="4.27" height="1.66" fill="#eca4aa"/><rect x="75.33" y="107.02" width="4.27" height="1.66" fill="#f2dae2"/><rect x="79.55" y="107.02" width="4.27" height="1.66" fill="#393de4"/><rect x="83.77" y="107.02" width="4.27" height="1.66" fill="#4548e6"/><rect x="87.98" y="107.02" width="4.27" height="1.66" fill="#1e24e2"/><rect x="16.30" y="108.63" width="4.27" height="1.66" fill="#9897ed"/><rect x="20.52" y="108.63" width="4.27" height="1.66" fill="#9e9dee"/><rect x="24.73" y="108.63" width="4.27" height="1.66" fill="#9d9cee"/><rect x="28.95" y="108.63" width="4.27" height="1.66" fill="#d1cdf3"/><rect x="33.17" y="108.63" width="4.27" height="1.66" fill="#b0aef0"/><rect x="37.38" y="108.63" width="4.27" height="1.66" fill="#c7c4f2"/><rect x="41.60" y="108.63" width="4.27" height="1.66" fill="#efeaf6"/><rect x="45.82" y="108.63" width="4.27" height="1.66" fill="#f2dbe2"/><rect x="50.03" y="108.63" width="4.27" height="1.66" fill="#a7a5ef"/><rect x="54.25" y="108.63" width="4.27" height="1.66" fill="#eb99a0"/><rect x="58.47" y="108.63" width="4.27" height="1.66" fill="#e77379"/><rect x="62.68" y="108.63" width="4.27" height="1.66" fill="#ea8e94"/><rect x="66.90" y="108.63" width="4.27" height="1.66" fill="#bab7f1"/><rect x="71.12" y="108.63" width="4.27" height="1.66" fill="#a5a3ef"/><rect x="75.33" y="108.63" width="4.27" height="1.66" fill="#acaaef"/><rect x="79.55" y="108.63" width="4.27" height="1.66" fill="#7475ea"/><rect x="83.77" y="108.63" width="4.27" height="1.66" fill="#cfcbf3"/><rect x="87.98" y="108.63" width="4.27" height="1.66" fill="#d9d5f4"/><rect x="16.30" y="110.24" width="4.27" height="1.66" fill="#4448e6"/><rect x="20.52" y="110.24" width="4.27" height="1.66" fill="#e8e3f5"/><rect x="24.73" y="110.24" width="4.27" height="1.66" fill="#dad5f4"/><rect x="28.95" y="110.24" width="4.27" height="1.66" fill="#e98187"/><rect x="33.17" y="110.24" width="4.27" height="1.66" fill="#de1f23"/><rect x="37.38" y="110.24" width="4.27" height="1.66" fill="#e87e84"/><rect x="41.60" y="110.24" width="4.27" height="1.66" fill="#cdcaf2"/><rect x="45.82" y="110.24" width="4.27" height="1.66" fill="#e55d63"/><rect x="50.03" y="110.24" width="4.27" height="1.66" fill="#e7767c"/><rect x="54.25" y="110.24" width="4.27" height="1.66" fill="#e34e53"/><rect x="58.47" y="110.24" width="4.27" height="1.66" fill="#e66e74"/><rect x="62.68" y="110.24" width="4.27" height="1.66" fill="#f2d7df"/><rect x="66.90" y="110.24" width="4.27" height="1.66" fill="#bcb9f1"/><rect x="71.12" y="110.24" width="4.27" height="1.66" fill="#ddd8f4"/><rect x="75.33" y="110.24" width="4.27" height="1.66" fill="#f0c7ce"/><rect x="79.55" y="110.24" width="4.27" height="1.66" fill="#585be7"/><rect x="83.77" y="110.24" width="4.27" height="1.66" fill="#8787ec"/><rect x="87.98" y="110.24" width="4.27" height="1.66" fill="#e0dbf4"/><rect x="16.30" y="111.84" width="4.27" height="1.66" fill="#7476ea"/><rect x="20.52" y="111.84" width="4.27" height="1.66" fill="#f1d0d7"/><rect x="24.73" y="111.84" width="4.27" height="1.66" fill="#f1ebf6"/><rect x="28.95" y="111.84" width="4.27" height="1.66" fill="#f2d6de"/><rect x="33.17" y="111.84" width="4.27" height="1.66" fill="#eb99a0"/><rect x="37.38" y="111.84" width="4.27" height="1.66" fill="#e6e1f5"/><rect x="41.60" y="111.84" width="4.27" height="1.66" fill="#f4edf5"/><rect x="45.82" y="111.84" width="4.27" height="1.66" fill="#e6676d"/><rect x="50.03" y="111.84" width="4.27" height="1.66" fill="#df2c30"/><rect x="54.25" y="111.84" width="4.27" height="1.66" fill="#de1e22"/><rect x="58.47" y="111.84" width="4.27" height="1.66" fill="#de1e22"/><rect x="62.68" y="111.84" width="4.27" height="1.66" fill="#e35156"/><rect x="66.90" y="111.84" width="4.27" height="1.66" fill="#1e24e2"/><rect x="71.12" y="111.84" width="4.27" height="1.66" fill="#1e24e2"/><rect x="75.33" y="111.84" width="4.27" height="1.66" fill="#4b4fe6"/><rect x="79.55" y="111.84" width="4.27" height="1.66" fill="#363be4"/><rect x="83.77" y="111.84" width="4.27" height="1.66" fill="#7879ea"/><rect x="87.98" y="111.84" width="4.27" height="1.66" fill="#6c6de9"/><rect x="16.30" y="113.45" width="4.27" height="1.66" fill="#7e7feb"/><rect x="20.52" y="113.45" width="4.27" height="1.66" fill="#e2ddf4"/><rect x="24.73" y="113.45" width="4.27" height="1.66" fill="#f2dee5"/><rect x="28.95" y="113.45" width="4.27" height="1.66" fill="#eb9ca2"/><rect x="33.17" y="113.45" width="4.27" height="1.66" fill="#de1e22"/><rect x="37.38" y="113.45" width="4.27" height="1.66" fill="#ea9097"/><rect x="41.60" y="113.45" width="4.27" height="1.66" fill="#6e6fe9"/><rect x="45.82" y="113.45" width="4.27" height="1.66" fill="#edaeb4"/><rect x="50.03" y="113.45" width="4.27" height="1.66" fill="#eb9ca2"/><rect x="54.25" y="113.45" width="4.27" height="1.66" fill="#e45459"/><rect x="58.47" y="113.45" width="4.27" height="1.66" fill="#e13d42"/><rect x="62.68" y="113.45" width="4.27" height="1.66" fill="#f1cdd5"/><rect x="66.90" y="113.45" width="4.27" height="1.66" fill="#bab7f1"/><rect x="71.12" y="113.45" width="4.27" height="1.66" fill="#bebbf1"/><rect x="75.33" y="113.45" width="4.27" height="1.66" fill="#edacb3"/><rect x="79.55" y="113.45" width="4.27" height="1.66" fill="#686ae9"/><rect x="83.77" y="113.45" width="4.27" height="1.66" fill="#9f9eee"/><rect x="87.98" y="113.45" width="4.27" height="1.66" fill="#eee9f5"/><rect x="16.30" y="115.06" width="4.27" height="1.66" fill="#373be4"/><rect x="20.52" y="115.06" width="4.27" height="1.66" fill="#d0ccf3"/><rect x="24.73" y="115.06" width="4.27" height="1.66" fill="#9494ed"/><rect x="28.95" y="115.06" width="4.27" height="1.66" fill="#edafb5"/><rect x="33.17" y="115.06" width="4.27" height="1.66" fill="#e45a5f"/><rect x="37.38" y="115.06" width="4.27" height="1.66" fill="#ec9fa5"/><rect x="41.60" y="115.06" width="4.27" height="1.66" fill="#f3e9f0"/><rect x="45.82" y="115.06" width="4.27" height="1.66" fill="#de2226"/><rect x="50.03" y="115.06" width="4.27" height="1.66" fill="#e03035"/><rect x="54.25" y="115.06" width="4.27" height="1.66" fill="#ea8c93"/><rect x="58.47" y="115.06" width="4.27" height="1.66" fill="#ea9197"/><rect x="62.68" y="115.06" width="4.27" height="1.66" fill="#ece6f5"/><rect x="66.90" y="115.06" width="4.27" height="1.66" fill="#696be9"/><rect x="71.12" y="115.06" width="4.27" height="1.66" fill="#7374ea"/><rect x="75.33" y="115.06" width="4.27" height="1.66" fill="#f2dee6"/><rect x="79.55" y="115.06" width="4.27" height="1.66" fill="#4347e5"/><rect x="83.77" y="115.06" width="4.27" height="1.66" fill="#b8b6f0"/><rect x="87.98" y="115.06" width="4.27" height="1.66" fill="#aaa8ef"/><rect x="16.30" y="116.66" width="4.27" height="1.66" fill="#7b7ceb"/><rect x="20.52" y="116.66" width="4.27" height="1.66" fill="#edadb4"/><rect x="24.73" y="116.66" width="4.27" height="1.66" fill="#f1cfd7"/><rect x="28.95" y="116.66" width="4.27" height="1.66" fill="#f0c5cd"/><rect x="33.17" y="116.66" width="4.27" height="1.66" fill="#e35055"/><rect x="37.38" y="116.66" width="4.27" height="1.66" fill="#ea8e94"/><rect x="41.60" y="116.66" width="4.27" height="1.66" fill="#c3c0f1"/><rect x="45.82" y="116.66" width="4.27" height="1.66" fill="#e6696e"/><rect x="50.03" y="116.66" width="4.27" height="1.66" fill="#e87b81"/><rect x="54.25" y="116.66" width="4.27" height="1.66" fill="#e2474c"/><rect x="58.47" y="116.66" width="4.27" height="1.66" fill="#e4575c"/><rect x="62.68" y="116.66" width="4.27" height="1.66" fill="#efc0c7"/><rect x="66.90" y="116.66" width="4.27" height="1.66" fill="#8080eb"/><rect x="71.12" y="116.66" width="4.27" height="1.66" fill="#7475ea"/><rect x="75.33" y="116.66" width="4.27" height="1.66" fill="#f3e5ed"/><rect x="79.55" y="116.66" width="4.27" height="1.66" fill="#1e24e2"/><rect x="83.77" y="116.66" width="4.27" height="1.66" fill="#2c31e3"/><rect x="87.98" y="116.66" width="4.27" height="1.66" fill="#5558e7"/><rect x="16.30" y="118.27" width="4.27" height="1.66" fill="#f2dbe3"/><rect x="20.52" y="118.27" width="4.27" height="1.66" fill="#9998ee"/><rect x="24.73" y="118.27" width="4.27" height="1.66" fill="#d1cdf3"/><rect x="28.95" y="118.27" width="4.27" height="1.66" fill="#e55e64"/><rect x="33.17" y="118.27" width="4.27" height="1.66" fill="#e76f75"/><rect x="37.38" y="118.27" width="4.27" height="1.66" fill="#e55e63"/><rect x="41.60" y="118.27" width="4.27" height="1.66" fill="#2127e2"/><rect x="45.82" y="118.27" width="4.27" height="1.66" fill="#b9b6f0"/><rect x="50.03" y="118.27" width="4.27" height="1.66" fill="#afacf0"/><rect x="54.25" y="118.27" width="4.27" height="1.66" fill="#f1d5dd"/><rect x="58.47" y="118.27" width="4.27" height="1.66" fill="#f3e2ea"/><rect x="62.68" y="118.27" width="4.27" height="1.66" fill="#f0c8d0"/><rect x="66.90" y="118.27" width="4.27" height="1.66" fill="#bbb8f1"/><rect x="71.12" y="118.27" width="4.27" height="1.66" fill="#cac6f2"/><rect x="75.33" y="118.27" width="4.27" height="1.66" fill="#bab7f1"/><rect x="79.55" y="118.27" width="4.27" height="1.66" fill="#f3e3eb"/><rect x="83.77" y="118.27" width="4.27" height="1.66" fill="#eeb5bc"/><rect x="87.98" y="118.27" width="4.27" height="1.66" fill="#edb0b7"/><rect x="16.30" y="119.88" width="4.27" height="1.66" fill="#a09fee"/><rect x="20.52" y="119.88" width="4.27" height="1.66" fill="#8a8aec"/><rect x="24.73" y="119.88" width="4.27" height="1.66" fill="#c6c2f2"/><rect x="28.95" y="119.88" width="4.27" height="1.66" fill="#eca4aa"/><rect x="33.17" y="119.88" width="4.27" height="1.66" fill="#edb1b7"/><rect x="37.38" y="119.88" width="4.27" height="1.66" fill="#eeb3ba"/><rect x="41.60" y="119.88" width="4.27" height="1.66" fill="#e2ddf4"/><rect x="45.82" y="119.88" width="4.27" height="1.66" fill="#edafb5"/><rect x="50.03" y="119.88" width="4.27" height="1.66" fill="#ea8d93"/><rect x="54.25" y="119.88" width="4.27" height="1.66" fill="#f1d3da"/><rect x="58.47" y="119.88" width="4.27" height="1.66" fill="#f3e5ed"/><rect x="62.68" y="119.88" width="4.27" height="1.66" fill="#f1d4dc"/><rect x="66.90" y="119.88" width="4.27" height="1.66" fill="#e4565b"/><rect x="71.12" y="119.88" width="4.27" height="1.66" fill="#e56167"/><rect x="75.33" y="119.88" width="4.27" height="1.66" fill="#eb989e"/><rect x="79.55" y="119.88" width="4.27" height="1.66" fill="#ea8f95"/><rect x="83.77" y="119.88" width="4.27" height="1.66" fill="#e87b81"/><rect x="87.98" y="119.88" width="4.27" height="1.66" fill="#ea9096"/><rect x="16.30" y="121.48" width="4.27" height="1.66" fill="#4f52e7"/><rect x="20.52" y="121.48" width="4.27" height="1.66" fill="#5d5fe8"/><rect x="24.73" y="121.48" width="4.27" height="1.66" fill="#474be6"/><rect x="28.95" y="121.48" width="4.27" height="1.66" fill="#d5d0f3"/><rect x="33.17" y="121.48" width="4.27" height="1.66" fill="#cdc9f2"/><rect x="37.38" y="121.48" width="4.27" height="1.66" fill="#e1dcf4"/><rect x="41.60" y="121.48" width="4.27" height="1.66" fill="#f1d5dd"/><rect x="45.82" y="121.48" width="4.27" height="1.66" fill="#e77378"/><rect x="50.03" y="121.48" width="4.27" height="1.66" fill="#e77177"/><rect x="54.25" y="121.48" width="4.27" height="1.66" fill="#f0c8cf"/><rect x="58.47" y="121.48" width="4.27" height="1.66" fill="#f1d1d8"/><rect x="62.68" y="121.48" width="4.27" height="1.66" fill="#f3e4eb"/><rect x="66.90" y="121.48" width="4.27" height="1.66" fill="#eeb9c0"/><rect x="71.12" y="121.48" width="4.27" height="1.66" fill="#f1d6de"/><rect x="75.33" y="121.48" width="4.27" height="1.66" fill="#edaeb4"/><rect x="79.55" y="121.48" width="4.27" height="1.66" fill="#f0c4cb"/><rect x="83.77" y="121.48" width="4.27" height="1.66" fill="#efc3ca"/><rect x="87.98" y="121.48" width="4.27" height="1.66" fill="#f1d0d8"/><rect x="16.30" y="123.09" width="4.27" height="1.66" fill="#5356e7"/><rect x="20.52" y="123.09" width="4.27" height="1.66" fill="#585ae7"/><rect x="24.73" y="123.09" width="4.27" height="1.66" fill="#4e51e6"/><rect x="28.95" y="123.09" width="4.27" height="1.66" fill="#f3e9f1"/><rect x="33.17" y="123.09" width="4.27" height="1.66" fill="#eeb8bf"/><rect x="37.38" y="123.09" width="4.27" height="1.66" fill="#eeb4bb"/><rect x="41.60" y="123.09" width="4.27" height="1.66" fill="#ddd9f4"/><rect x="45.82" y="123.09" width="4.27" height="1.66" fill="#eca6ac"/><rect x="50.03" y="123.09" width="4.27" height="1.66" fill="#eb999f"/><rect x="54.25" y="123.09" width="4.27" height="1.66" fill="#eeb2b9"/><rect x="58.47" y="123.09" width="4.27" height="1.66" fill="#edaab1"/><rect x="62.68" y="123.09" width="4.27" height="1.66" fill="#f2dde5"/><rect x="66.90" y="123.09" width="4.27" height="1.66" fill="#f2dde5"/><rect x="71.12" y="123.09" width="4.27" height="1.66" fill="#f0c6cd"/><rect x="75.33" y="123.09" width="4.27" height="1.66" fill="#eeb2b9"/><rect x="79.55" y="123.09" width="4.27" height="1.66" fill="#eeb4bb"/><rect x="83.77" y="123.09" width="4.27" height="1.66" fill="#f0c8d0"/><rect x="87.98" y="123.09" width="4.27" height="1.66" fill="#efbec5"/><rect x="16.30" y="124.70" width="4.27" height="1.66" fill="#1e24e2"/><rect x="20.52" y="124.70" width="4.27" height="1.66" fill="#1e24e2"/><rect x="24.73" y="124.70" width="4.27" height="1.66" fill="#1e24e2"/><rect x="28.95" y="124.70" width="4.27" height="1.66" fill="#e87f85"/><rect x="33.17" y="124.70" width="4.27" height="1.66" fill="#ea949a"/><rect x="37.38" y="124.70" width="4.27" height="1.66" fill="#e9878d"/><rect x="41.60" y="124.70" width="4.27" height="1.66" fill="#f2edf6"/><rect x="45.82" y="124.70" width="4.27" height="1.66" fill="#f3e7ef"/><rect x="50.03" y="124.70" width="4.27" height="1.66" fill="#ece7f5"/><rect x="54.25" y="124.70" width="4.27" height="1.66" fill="#eb979d"/><rect x="58.47" y="124.70" width="4.27" height="1.66" fill="#e9858b"/><rect x="62.68" y="124.70" width="4.27" height="1.66" fill="#efbec5"/><rect x="66.90" y="124.70" width="4.27" height="1.66" fill="#e9848a"/><rect x="71.12" y="124.70" width="4.27" height="1.66" fill="#e87e83"/><rect x="75.33" y="124.70" width="4.27" height="1.66" fill="#ea8e95"/><rect x="79.55" y="124.70" width="4.27" height="1.66" fill="#e6676c"/><rect x="83.77" y="124.70" width="4.27" height="1.66" fill="#e35055"/><rect x="87.98" y="124.70" width="4.27" height="1.66" fill="#e1373b"/><rect x="16.30" y="126.30" width="4.27" height="1.66" fill="#5659e7"/><rect x="20.52" y="126.30" width="4.27" height="1.66" fill="#4044e5"/><rect x="24.73" y="126.30" width="4.27" height="1.66" fill="#595be7"/><rect x="28.95" y="126.30" width="4.27" height="1.66" fill="#dfdaf4"/><rect x="33.17" y="126.30" width="4.27" height="1.66" fill="#d5d1f3"/><rect x="37.38" y="126.30" width="4.27" height="1.66" fill="#dbd6f4"/><rect x="41.60" y="126.30" width="4.27" height="1.66" fill="#e66e74"/><rect x="45.82" y="126.30" width="4.27" height="1.66" fill="#e13f43"/><rect x="50.03" y="126.30" width="4.27" height="1.66" fill="#e66a70"/><rect x="54.25" y="126.30" width="4.27" height="1.66" fill="#eca3aa"/><rect x="58.47" y="126.30" width="4.27" height="1.66" fill="#e88187"/><rect x="62.68" y="126.30" width="4.27" height="1.66" fill="#ea8d93"/><rect x="66.90" y="126.30" width="4.27" height="1.66" fill="#f2dce4"/><rect x="71.12" y="126.30" width="4.27" height="1.66" fill="#f1ced6"/><rect x="75.33" y="126.30" width="4.27" height="1.66" fill="#efc1c8"/><rect x="79.55" y="126.30" width="4.27" height="1.66" fill="#efc2c9"/><rect x="83.77" y="126.30" width="4.27" height="1.66" fill="#edacb3"/><rect x="87.98" y="126.30" width="4.27" height="1.66" fill="#ea8c92"/><rect x="16.30" y="127.91" width="4.27" height="1.66" fill="#1e24e2"/><rect x="20.52" y="127.91" width="4.27" height="1.66" fill="#4246e5"/><rect x="24.73" y="127.91" width="4.27" height="1.66" fill="#2f34e4"/><rect x="28.95" y="127.91" width="4.27" height="1.66" fill="#eeb1b7"/><rect x="33.17" y="127.91" width="4.27" height="1.66" fill="#f0cbd2"/><rect x="37.38" y="127.91" width="4.27" height="1.66" fill="#efbbc2"/><rect x="41.60" y="127.91" width="4.27" height="1.66" fill="#ea8c92"/><rect x="45.82" y="127.91" width="4.27" height="1.66" fill="#f1cfd6"/><rect x="50.03" y="127.91" width="4.27" height="1.66" fill="#f1d0d8"/><rect x="54.25" y="127.91" width="4.27" height="1.66" fill="#ec9fa5"/><rect x="58.47" y="127.91" width="4.27" height="1.66" fill="#eeb3ba"/><rect x="62.68" y="127.91" width="4.27" height="1.66" fill="#eda9af"/><rect x="66.90" y="127.91" width="4.27" height="1.66" fill="#eb9ba1"/><rect x="71.12" y="127.91" width="4.27" height="1.66" fill="#edb0b7"/><rect x="75.33" y="127.91" width="4.27" height="1.66" fill="#f0c9d1"/><rect x="79.55" y="127.91" width="4.27" height="1.66" fill="#eb989e"/><rect x="83.77" y="127.91" width="4.27" height="1.66" fill="#e66c72"/><rect x="87.98" y="127.91" width="4.27" height="1.66" fill="#e9898f"/><rect x="16.30" y="129.52" width="4.27" height="1.66" fill="#6466e9"/><rect x="20.52" y="129.52" width="4.27" height="1.66" fill="#5c5fe8"/><rect x="24.73" y="129.52" width="4.27" height="1.66" fill="#373ce4"/><rect x="28.95" y="129.52" width="4.27" height="1.66" fill="#eb979d"/><rect x="33.17" y="129.52" width="4.27" height="1.66" fill="#eb9aa1"/><rect x="37.38" y="129.52" width="4.27" height="1.66" fill="#ec9fa6"/><rect x="41.60" y="129.52" width="4.27" height="1.66" fill="#e87f85"/><rect x="45.82" y="129.52" width="4.27" height="1.66" fill="#ea9097"/><rect x="50.03" y="129.52" width="4.27" height="1.66" fill="#e88086"/><rect x="54.25" y="129.52" width="4.27" height="1.66" fill="#eeb4bb"/><rect x="58.47" y="129.52" width="4.27" height="1.66" fill="#e87a80"/><rect x="62.68" y="129.52" width="4.27" height="1.66" fill="#e9898f"/><rect x="66.90" y="129.52" width="4.27" height="1.66" fill="#f1ebf6"/><rect x="71.12" y="129.52" width="4.27" height="1.66" fill="#efbbc2"/><rect x="75.33" y="129.52" width="4.27" height="1.66" fill="#f0c5cc"/><rect x="79.55" y="129.52" width="4.27" height="1.66" fill="#edaeb5"/><rect x="83.77" y="129.52" width="4.27" height="1.66" fill="#e56066"/><rect x="87.98" y="129.52" width="4.27" height="1.66" fill="#e7767c"/><rect x="16.30" y="131.12" width="4.27" height="1.66" fill="#1e24e2"/><rect x="20.52" y="131.12" width="4.27" height="1.66" fill="#1e24e2"/><rect x="24.73" y="131.12" width="4.27" height="1.66" fill="#1e24e2"/><rect x="28.95" y="131.12" width="4.27" height="1.66" fill="#eb959b"/><rect x="33.17" y="131.12" width="4.27" height="1.66" fill="#eb969c"/><rect x="37.38" y="131.12" width="4.27" height="1.66" fill="#e98288"/><rect x="41.60" y="131.12" width="4.27" height="1.66" fill="#e8787e"/><rect x="45.82" y="131.12" width="4.27" height="1.66" fill="#e87d83"/><rect x="50.03" y="131.12" width="4.27" height="1.66" fill="#ea8c92"/><rect x="54.25" y="131.12" width="4.27" height="1.66" fill="#e9868c"/><rect x="58.47" y="131.12" width="4.27" height="1.66" fill="#e6696f"/><rect x="62.68" y="131.12" width="4.27" height="1.66" fill="#e66d73"/><rect x="66.90" y="131.12" width="4.27" height="1.66" fill="#eb989e"/><rect x="71.12" y="131.12" width="4.27" height="1.66" fill="#eca0a7"/><rect x="75.33" y="131.12" width="4.27" height="1.66" fill="#e8797f"/><rect x="79.55" y="131.12" width="4.27" height="1.66" fill="#e02f33"/><rect x="83.77" y="131.12" width="4.27" height="1.66" fill="#de1e22"/><rect x="87.98" y="131.12" width="4.27" height="1.66" fill="#de1e22"/><rect x="16.30" y="132.73" width="4.27" height="1.66" fill="#4548e6"/><rect x="20.52" y="132.73" width="4.27" height="1.66" fill="#7374ea"/><rect x="24.73" y="132.73" width="4.27" height="1.66" fill="#494de6"/><rect x="28.95" y="132.73" width="4.27" height="1.66" fill="#7576ea"/><rect x="33.17" y="132.73" width="4.27" height="1.66" fill="#7f7feb"/><rect x="37.38" y="132.73" width="4.27" height="1.66" fill="#7173ea"/><rect x="41.60" y="132.73" width="4.27" height="1.66" fill="#f4eaf2"/><rect x="45.82" y="132.73" width="4.27" height="1.66" fill="#e6e1f5"/><rect x="50.03" y="132.73" width="4.27" height="1.66" fill="#eca4aa"/><rect x="54.25" y="132.73" width="4.27" height="1.66" fill="#eeb7be"/><rect x="58.47" y="132.73" width="4.27" height="1.66" fill="#eeb3ba"/><rect x="62.68" y="132.73" width="4.27" height="1.66" fill="#f1ebf6"/><rect x="66.90" y="132.73" width="4.27" height="1.66" fill="#d5d1f3"/><rect x="71.12" y="132.73" width="4.27" height="1.66" fill="#bdbaf1"/><rect x="75.33" y="132.73" width="4.27" height="1.66" fill="#9695ed"/><rect x="79.55" y="132.73" width="4.27" height="1.66" fill="#df2327"/><rect x="83.77" y="132.73" width="4.27" height="1.66" fill="#de1e22"/><rect x="87.98" y="132.73" width="4.27" height="1.66" fill="#de1e22"/><rect x="16.30" y="134.34" width="4.27" height="1.66" fill="#4d50e6"/><rect x="20.52" y="134.34" width="4.27" height="1.66" fill="#7c7deb"/><rect x="24.73" y="134.34" width="4.27" height="1.66" fill="#7879ea"/><rect x="28.95" y="134.34" width="4.27" height="1.66" fill="#b1aff0"/><rect x="33.17" y="134.34" width="4.27" height="1.66" fill="#a3a1ee"/><rect x="37.38" y="134.34" width="4.27" height="1.66" fill="#8484ec"/><rect x="41.60" y="134.34" width="4.27" height="1.66" fill="#f3e8ef"/><rect x="45.82" y="134.34" width="4.27" height="1.66" fill="#f1d3da"/><rect x="50.03" y="134.34" width="4.27" height="1.66" fill="#eb959b"/><rect x="54.25" y="134.34" width="4.27" height="1.66" fill="#f4edf5"/><rect x="58.47" y="134.34" width="4.27" height="1.66" fill="#f1d0d7"/><rect x="62.68" y="134.34" width="4.27" height="1.66" fill="#f1d5dc"/><rect x="66.90" y="134.34" width="4.27" height="1.66" fill="#f2d7de"/><rect x="71.12" y="134.34" width="4.27" height="1.66" fill="#f1cdd5"/><rect x="75.33" y="134.34" width="4.27" height="1.66" fill="#f1d4db"/><rect x="79.55" y="134.34" width="4.27" height="1.66" fill="#e5656a"/><rect x="83.77" y="134.34" width="4.27" height="1.66" fill="#e4595e"/><rect x="87.98" y="134.34" width="4.27" height="1.66" fill="#e4555a"/><rect x="16.30" y="135.94" width="4.27" height="1.66" fill="#1e24e2"/><rect x="20.52" y="135.94" width="4.27" height="1.66" fill="#1e24e2"/><rect x="24.73" y="135.94" width="4.27" height="1.66" fill="#1e24e2"/><rect x="28.95" y="135.94" width="4.27" height="1.66" fill="#f4edf5"/><rect x="33.17" y="135.94" width="4.27" height="1.66" fill="#f3e6ee"/><rect x="37.38" y="135.94" width="4.27" height="1.66" fill="#f2dbe3"/><rect x="41.60" y="135.94" width="4.27" height="1.66" fill="#aaa9ef"/><rect x="45.82" y="135.94" width="4.27" height="1.66" fill="#9f9eee"/><rect x="50.03" y="135.94" width="4.27" height="1.66" fill="#f2dae2"/><rect x="54.25" y="135.94" width="4.27" height="1.66" fill="#e9858b"/><rect x="58.47" y="135.94" width="4.27" height="1.66" fill="#eb959b"/><rect x="62.68" y="135.94" width="4.27" height="1.66" fill="#eeb4ba"/><rect x="66.90" y="135.94" width="4.27" height="1.66" fill="#bfbcf1"/><rect x="71.12" y="135.94" width="4.27" height="1.66" fill="#c0bdf1"/><rect x="75.33" y="135.94" width="4.27" height="1.66" fill="#bbb8f1"/><rect x="79.55" y="135.94" width="4.27" height="1.66" fill="#e6686d"/><rect x="83.77" y="135.94" width="4.27" height="1.66" fill="#e4575c"/><rect x="87.98" y="135.94" width="4.27" height="1.66" fill="#e34d52"/><rect x="16.30" y="137.55" width="4.27" height="1.66" fill="#1e24e2"/><rect x="20.52" y="137.55" width="4.27" height="1.66" fill="#1e24e2"/><rect x="24.73" y="137.55" width="4.27" height="1.66" fill="#1e24e2"/><rect x="28.95" y="137.55" width="4.27" height="1.66" fill="#d7d3f3"/><rect x="33.17" y="137.55" width="4.27" height="1.66" fill="#b0adf0"/><rect x="37.38" y="137.55" width="4.27" height="1.66" fill="#e1dcf4"/><rect x="41.60" y="137.55" width="4.27" height="1.66" fill="#f2ecf6"/><rect x="45.82" y="137.55" width="4.27" height="1.66" fill="#e2ddf4"/><rect x="50.03" y="137.55" width="4.27" height="1.66" fill="#f0c5cc"/><rect x="54.25" y="137.55" width="4.27" height="1.66" fill="#eca2a9"/><rect x="58.47" y="137.55" width="4.27" height="1.66" fill="#f0cbd2"/><rect x="62.68" y="137.55" width="4.27" height="1.66" fill="#f0cad1"/><rect x="66.90" y="137.55" width="4.27" height="1.66" fill="#f1d0d8"/><rect x="71.12" y="137.55" width="4.27" height="1.66" fill="#edb0b7"/><rect x="75.33" y="137.55" width="4.27" height="1.66" fill="#ec9ea5"/><rect x="79.55" y="137.55" width="4.27" height="1.66" fill="#e45b60"/><rect x="83.77" y="137.55" width="4.27" height="1.66" fill="#e55d62"/><rect x="87.98" y="137.55" width="4.27" height="1.66" fill="#e66a70"/><rect x="16.30" y="139.16" width="4.27" height="1.66" fill="#1e24e2"/><rect x="20.52" y="139.16" width="4.27" height="1.66" fill="#1e24e2"/><rect x="24.73" y="139.16" width="4.27" height="1.66" fill="#1e24e2"/><rect x="28.95" y="139.16" width="4.27" height="1.66" fill="#f3e5ed"/><rect x="33.17" y="139.16" width="4.27" height="1.66" fill="#f3e6ee"/><rect x="37.38" y="139.16" width="4.27" height="1.66" fill="#ddd8f4"/><rect x="41.60" y="139.16" width="4.27" height="1.66" fill="#9a99ee"/><rect x="45.82" y="139.16" width="4.27" height="1.66" fill="#aaa8ef"/><rect x="50.03" y="139.16" width="4.27" height="1.66" fill="#ede7f5"/><rect x="54.25" y="139.16" width="4.27" height="1.66" fill="#f3e1e9"/><rect x="58.47" y="139.16" width="4.27" height="1.66" fill="#f2ecf6"/><rect x="62.68" y="139.16" width="4.27" height="1.66" fill="#cecbf2"/><rect x="66.90" y="139.16" width="4.27" height="1.66" fill="#f4eef6"/><rect x="71.12" y="139.16" width="4.27" height="1.66" fill="#cecaf2"/><rect x="75.33" y="139.16" width="4.27" height="1.66" fill="#f3e0e8"/><rect x="79.55" y="139.16" width="4.27" height="1.66" fill="#e7787e"/><rect x="83.77" y="139.16" width="4.27" height="1.66" fill="#e66d73"/><rect x="87.98" y="139.16" width="4.27" height="1.66" fill="#e77076"/><rect x="16.30" y="140.76" width="4.27" height="1.66" fill="#5b5ee8"/><rect x="20.52" y="140.76" width="4.27" height="1.66" fill="#5255e7"/><rect x="24.73" y="140.76" width="4.27" height="1.66" fill="#7273ea"/><rect x="28.95" y="140.76" width="4.27" height="1.66" fill="#bebbf1"/><rect x="33.17" y="140.76" width="4.27" height="1.66" fill="#bfbcf1"/><rect x="37.38" y="140.76" width="4.27" height="1.66" fill="#b8b5f0"/><rect x="41.60" y="140.76" width="4.27" height="1.66" fill="#acaaef"/><rect x="45.82" y="140.76" width="4.27" height="1.66" fill="#e4dff5"/><rect x="50.03" y="140.76" width="4.27" height="1.66" fill="#edb0b6"/><rect x="54.25" y="140.76" width="4.27" height="1.66" fill="#eeb5bc"/><rect x="58.47" y="140.76" width="4.27" height="1.66" fill="#f1cdd5"/><rect x="62.68" y="140.76" width="4.27" height="1.66" fill="#f1ebf6"/><rect x="66.90" y="140.76" width="4.27" height="1.66" fill="#bbb8f1"/><rect x="71.12" y="140.76" width="4.27" height="1.66" fill="#d1cdf3"/><rect x="75.33" y="140.76" width="4.27" height="1.66" fill="#bdbaf1"/><rect x="79.55" y="140.76" width="4.27" height="1.66" fill="#e34f54"/><rect x="83.77" y="140.76" width="4.27" height="1.66" fill="#e24449"/><rect x="87.98" y="140.76" width="4.27" height="1.66" fill="#e34b50"/><rect x="16.30" y="142.37" width="4.27" height="1.66" fill="#6a6ce9"/><rect x="20.52" y="142.37" width="4.27" height="1.66" fill="#474be6"/><rect x="24.73" y="142.37" width="4.27" height="1.66" fill="#3237e4"/><rect x="28.95" y="142.37" width="4.27" height="1.66" fill="#e9e3f5"/><rect x="33.17" y="142.37" width="4.27" height="1.66" fill="#d5d1f3"/><rect x="37.38" y="142.37" width="4.27" height="1.66" fill="#ece7f5"/><rect x="41.60" y="142.37" width="4.27" height="1.66" fill="#595ce8"/><rect x="45.82" y="142.37" width="4.27" height="1.66" fill="#8c8cec"/><rect x="50.03" y="142.37" width="4.27" height="1.66" fill="#e2ddf4"/><rect x="54.25" y="142.37" width="4.27" height="1.66" fill="#edaeb5"/><rect x="58.47" y="142.37" width="4.27" height="1.66" fill="#f2dce4"/><rect x="62.68" y="142.37" width="4.27" height="1.66" fill="#f1d2d9"/><rect x="66.90" y="142.37" width="4.27" height="1.66" fill="#bcb9f1"/><rect x="71.12" y="142.37" width="4.27" height="1.66" fill="#d5d0f3"/><rect x="75.33" y="142.37" width="4.27" height="1.66" fill="#d6d1f3"/><rect x="79.55" y="142.37" width="4.27" height="1.66" fill="#e34b50"/><rect x="83.77" y="142.37" width="4.27" height="1.66" fill="#e6696f"/><rect x="87.98" y="142.37" width="4.27" height="1.66" fill="#e13e42"/><rect x="16.30" y="143.98" width="4.27" height="1.66" fill="#6f70ea"/><rect x="20.52" y="143.98" width="4.27" height="1.66" fill="#3e42e5"/><rect x="24.73" y="143.98" width="4.27" height="1.66" fill="#5256e7"/><rect x="28.95" y="143.98" width="4.27" height="1.66" fill="#cecaf2"/><rect x="33.17" y="143.98" width="4.27" height="1.66" fill="#cfcbf3"/><rect x="37.38" y="143.98" width="4.27" height="1.66" fill="#bfbcf1"/><rect x="41.60" y="143.98" width="4.27" height="1.66" fill="#ede8f5"/><rect x="45.82" y="143.98" width="4.27" height="1.66" fill="#efe9f5"/><rect x="50.03" y="143.98" width="4.27" height="1.66" fill="#eb959c"/><rect x="54.25" y="143.98" width="4.27" height="1.66" fill="#e98a90"/><rect x="58.47" y="143.98" width="4.27" height="1.66" fill="#e55d62"/><rect x="62.68" y="143.98" width="4.27" height="1.66" fill="#eca4aa"/><rect x="66.90" y="143.98" width="4.27" height="1.66" fill="#f2dee5"/><rect x="71.12" y="143.98" width="4.27" height="1.66" fill="#f3e5ed"/><rect x="75.33" y="143.98" width="4.27" height="1.66" fill="#c9c5f2"/><rect x="79.55" y="143.98" width="4.27" height="1.66" fill="#e34a4f"/><rect x="83.77" y="143.98" width="4.27" height="1.66" fill="#e0353a"/><rect x="87.98" y="143.98" width="4.27" height="1.66" fill="#e24348"/><rect x="16.30" y="145.58" width="4.27" height="1.66" fill="#3e42e5"/><rect x="20.52" y="145.58" width="4.27" height="1.66" fill="#5053e7"/><rect x="24.73" y="145.58" width="4.27" height="1.66" fill="#6c6ee9"/><rect x="28.95" y="145.58" width="4.27" height="1.66" fill="#8a8aec"/><rect x="33.17" y="145.58" width="4.27" height="1.66" fill="#8787ec"/><rect x="37.38" y="145.58" width="4.27" height="1.66" fill="#9999ee"/><rect x="41.60" y="145.58" width="4.27" height="1.66" fill="#d3cff3"/><rect x="45.82" y="145.58" width="4.27" height="1.66" fill="#f2ecf6"/><rect x="50.03" y="145.58" width="4.27" height="1.66" fill="#f3e2ea"/><rect x="54.25" y="145.58" width="4.27" height="1.66" fill="#f1ced5"/><rect x="58.47" y="145.58" width="4.27" height="1.66" fill="#f3e6ed"/><rect x="62.68" y="145.58" width="4.27" height="1.66" fill="#f4ecf4"/><rect x="66.90" y="145.58" width="4.27" height="1.66" fill="#f1cdd4"/><rect x="71.12" y="145.58" width="4.27" height="1.66" fill="#ded9f4"/><rect x="75.33" y="145.58" width="4.27" height="1.66" fill="#f1cdd5"/><rect x="79.55" y="145.58" width="4.27" height="1.66" fill="#de1e22"/><rect x="83.77" y="145.58" width="4.27" height="1.66" fill="#de1e22"/><rect x="87.98" y="145.58" width="4.27" height="1.66" fill="#e13d41"/><rect x="16.30" y="147.19" width="4.27" height="1.66" fill="#8e8dec"/><rect x="20.52" y="147.19" width="4.27" height="1.66" fill="#a5a3ef"/><rect x="24.73" y="147.19" width="4.27" height="1.66" fill="#a2a1ee"/><rect x="28.95" y="147.19" width="4.27" height="1.66" fill="#d1cdf3"/><rect x="33.17" y="147.19" width="4.27" height="1.66" fill="#f2ecf6"/><rect x="37.38" y="147.19" width="4.27" height="1.66" fill="#c6c3f2"/><rect x="41.60" y="147.19" width="4.27" height="1.66" fill="#ece6f5"/><rect x="45.82" y="147.19" width="4.27" height="1.66" fill="#f3e1e9"/><rect x="50.03" y="147.19" width="4.27" height="1.66" fill="#f1d6de"/><rect x="54.25" y="147.19" width="4.27" height="1.66" fill="#de1e22"/><rect x="58.47" y="147.19" width="4.27" height="1.66" fill="#de1e22"/><rect x="62.68" y="147.19" width="4.27" height="1.66" fill="#e2484d"/><rect x="66.90" y="147.19" width="4.27" height="1.66" fill="#f0c6cd"/><rect x="71.12" y="147.19" width="4.27" height="1.66" fill="#f0c5cc"/><rect x="75.33" y="147.19" width="4.27" height="1.66" fill="#f1d5dd"/><rect x="79.55" y="147.19" width="4.27" height="1.66" fill="#df292d"/><rect x="83.77" y="147.19" width="4.27" height="1.66" fill="#e4595e"/><rect x="87.98" y="147.19" width="4.27" height="1.66" fill="#df282c"/><rect x="16.30" y="148.80" width="4.27" height="1.66" fill="#1e24e2"/><rect x="20.52" y="148.80" width="4.27" height="1.66" fill="#1e24e2"/><rect x="24.73" y="148.80" width="4.27" height="1.66" fill="#1e24e2"/><rect x="28.95" y="148.80" width="4.27" height="1.66" fill="#cbc7f2"/><rect x="33.17" y="148.80" width="4.27" height="1.66" fill="#bfbcf1"/><rect x="37.38" y="148.80" width="4.27" height="1.66" fill="#cdc9f2"/><rect x="41.60" y="148.80" width="4.27" height="1.66" fill="#7b7ceb"/><rect x="45.82" y="148.80" width="4.27" height="1.66" fill="#9695ed"/><rect x="50.03" y="148.80" width="4.27" height="1.66" fill="#aba9ef"/><rect x="54.25" y="148.80" width="4.27" height="1.66" fill="#e87c82"/><rect x="58.47" y="148.80" width="4.27" height="1.66" fill="#e34a4f"/><rect x="62.68" y="148.80" width="4.27" height="1.66" fill="#e77076"/><rect x="66.90" y="148.80" width="4.27" height="1.66" fill="#f4edf5"/><rect x="71.12" y="148.80" width="4.27" height="1.66" fill="#f1cdd5"/><rect x="75.33" y="148.80" width="4.27" height="1.66" fill="#f3e7ef"/><rect x="79.55" y="148.80" width="4.27" height="1.66" fill="#e2474c"/><rect x="83.77" y="148.80" width="4.27" height="1.66" fill="#e03439"/><rect x="87.98" y="148.80" width="4.27" height="1.66" fill="#de1e22"/><rect x="16.30" y="150.40" width="4.27" height="1.66" fill="#1e24e2"/><rect x="20.52" y="150.40" width="4.27" height="1.66" fill="#2026e2"/><rect x="24.73" y="150.40" width="4.27" height="1.66" fill="#7273ea"/><rect x="28.95" y="150.40" width="4.27" height="1.66" fill="#797aeb"/><rect x="33.17" y="150.40" width="4.27" height="1.66" fill="#9090ed"/><rect x="37.38" y="150.40" width="4.27" height="1.66" fill="#9796ed"/><rect x="41.60" y="150.40" width="4.27" height="1.66" fill="#9d9cee"/><rect x="45.82" y="150.40" width="4.27" height="1.66" fill="#9a99ee"/><rect x="50.03" y="150.40" width="4.27" height="1.66" fill="#c3c0f1"/><rect x="54.25" y="150.40" width="4.27" height="1.66" fill="#e9898f"/><rect x="58.47" y="150.40" width="4.27" height="1.66" fill="#e35054"/><rect x="62.68" y="150.40" width="4.27" height="1.66" fill="#e98288"/><rect x="66.90" y="150.40" width="4.27" height="1.66" fill="#f3e7ef"/><rect x="71.12" y="150.40" width="4.27" height="1.66" fill="#f3e8f0"/><rect x="75.33" y="150.40" width="4.27" height="1.66" fill="#f0cad1"/><rect x="79.55" y="150.40" width="4.27" height="1.66" fill="#e45a5f"/><rect x="83.77" y="150.40" width="4.27" height="1.66" fill="#e34a4e"/><rect x="87.98" y="150.40" width="4.27" height="1.66" fill="#e7777c"/><rect x="16.30" y="152.01" width="4.27" height="1.66" fill="#1f25e2"/><rect x="20.52" y="152.01" width="4.27" height="1.66" fill="#575ae7"/><rect x="24.73" y="152.01" width="4.27" height="1.66" fill="#4448e6"/><rect x="28.95" y="152.01" width="4.27" height="1.66" fill="#8182eb"/><rect x="33.17" y="152.01" width="4.27" height="1.66" fill="#9796ed"/><rect x="37.38" y="152.01" width="4.27" height="1.66" fill="#b1aef0"/><rect x="41.60" y="152.01" width="4.27" height="1.66" fill="#e6e1f5"/><rect x="45.82" y="152.01" width="4.27" height="1.66" fill="#f2d9e0"/><rect x="50.03" y="152.01" width="4.27" height="1.66" fill="#f0cdd4"/><rect x="54.25" y="152.01" width="4.27" height="1.66" fill="#f2edf6"/><rect x="58.47" y="152.01" width="4.27" height="1.66" fill="#eeb4bb"/><rect x="62.68" y="152.01" width="4.27" height="1.66" fill="#f0ccd3"/><rect x="66.90" y="152.01" width="4.27" height="1.66" fill="#d2cef3"/><rect x="71.12" y="152.01" width="4.27" height="1.66" fill="#e2ddf4"/><rect x="75.33" y="152.01" width="4.27" height="1.66" fill="#f2dee6"/><rect x="79.55" y="152.01" width="4.27" height="1.66" fill="#df2a2e"/><rect x="83.77" y="152.01" width="4.27" height="1.66" fill="#de2226"/><rect x="87.98" y="152.01" width="4.27" height="1.66" fill="#e02f33"/><rect x="16.30" y="153.62" width="4.27" height="1.66" fill="#242ae3"/><rect x="20.52" y="153.62" width="4.27" height="1.66" fill="#2f34e4"/><rect x="24.73" y="153.62" width="4.27" height="1.66" fill="#1e24e2"/><rect x="28.95" y="153.62" width="4.27" height="1.66" fill="#9f9eee"/><rect x="33.17" y="153.62" width="4.27" height="1.66" fill="#9897ed"/><rect x="37.38" y="153.62" width="4.27" height="1.66" fill="#9a99ee"/><rect x="41.60" y="153.62" width="4.27" height="1.66" fill="#8e8eec"/><rect x="45.82" y="153.62" width="4.27" height="1.66" fill="#a3a2ee"/><rect x="50.03" y="153.62" width="4.27" height="1.66" fill="#d9d4f3"/><rect x="54.25" y="153.62" width="4.27" height="1.66" fill="#e5646a"/><rect x="58.47" y="153.62" width="4.27" height="1.66" fill="#e56267"/><rect x="62.68" y="153.62" width="4.27" height="1.66" fill="#e56065"/><rect x="66.90" y="153.62" width="4.27" height="1.66" fill="#a1a0ee"/><rect x="71.12" y="153.62" width="4.27" height="1.66" fill="#f3e8f0"/><rect x="75.33" y="153.62" width="4.27" height="1.66" fill="#f4edf5"/><rect x="79.55" y="153.62" width="4.27" height="1.66" fill="#e13f43"/><rect x="83.77" y="153.62" width="4.27" height="1.66" fill="#e77075"/><rect x="87.98" y="153.62" width="4.27" height="1.66" fill="#e55e63"/><rect x="16.30" y="155.22" width="4.27" height="1.66" fill="#3a3fe5"/><rect x="20.52" y="155.22" width="4.27" height="1.66" fill="#2a2fe3"/><rect x="24.73" y="155.22" width="4.27" height="1.66" fill="#2b30e3"/><rect x="28.95" y="155.22" width="4.27" height="1.66" fill="#ded9f4"/><rect x="33.17" y="155.22" width="4.27" height="1.66" fill="#e5e0f5"/><rect x="37.38" y="155.22" width="4.27" height="1.66" fill="#c1bef1"/><rect x="41.60" y="155.22" width="4.27" height="1.66" fill="#c1bef1"/><rect x="45.82" y="155.22" width="4.27" height="1.66" fill="#a1a0ee"/><rect x="50.03" y="155.22" width="4.27" height="1.66" fill="#f3e0e8"/><rect x="54.25" y="155.22" width="4.27" height="1.66" fill="#ea939a"/><rect x="58.47" y="155.22" width="4.27" height="1.66" fill="#efbec5"/><rect x="62.68" y="155.22" width="4.27" height="1.66" fill="#edb0b7"/><rect x="66.90" y="155.22" width="4.27" height="1.66" fill="#9f9eee"/><rect x="71.12" y="155.22" width="4.27" height="1.66" fill="#bab7f1"/><rect x="75.33" y="155.22" width="4.27" height="1.66" fill="#b4b2f0"/><rect x="79.55" y="155.22" width="4.27" height="1.66" fill="#ea9299"/><rect x="83.77" y="155.22" width="4.27" height="1.66" fill="#eca0a7"/><rect x="87.98" y="155.22" width="4.27" height="1.66" fill="#eca3a9"/><rect x="16.30" y="156.83" width="4.27" height="1.66" fill="#585be7"/><rect x="20.52" y="156.83" width="4.27" height="1.66" fill="#4448e6"/><rect x="24.73" y="156.83" width="4.27" height="1.66" fill="#4448e6"/><rect x="28.95" y="156.83" width="4.27" height="1.66" fill="#f3e7ef"/><rect x="33.17" y="156.83" width="4.27" height="1.66" fill="#eee9f5"/><rect x="37.38" y="156.83" width="4.27" height="1.66" fill="#f3e6ee"/><rect x="41.60" y="156.83" width="4.27" height="1.66" fill="#c0bdf1"/><rect x="45.82" y="156.83" width="4.27" height="1.66" fill="#f1ebf6"/><rect x="50.03" y="156.83" width="4.27" height="1.66" fill="#f0c9d1"/><rect x="54.25" y="156.83" width="4.27" height="1.66" fill="#e66b70"/><rect x="58.47" y="156.83" width="4.27" height="1.66" fill="#e9898f"/><rect x="62.68" y="156.83" width="4.27" height="1.66" fill="#e56368"/><rect x="66.90" y="156.83" width="4.27" height="1.66" fill="#efc1c8"/><rect x="71.12" y="156.83" width="4.27" height="1.66" fill="#eb9ba1"/><rect x="75.33" y="156.83" width="4.27" height="1.66" fill="#eb9ca2"/><rect x="79.55" y="156.83" width="4.27" height="1.66" fill="#de1e22"/><rect x="83.77" y="156.83" width="4.27" height="1.66" fill="#de1e22"/><rect x="87.98" y="156.83" width="4.27" height="1.66" fill="#de1e22"/><rect x="16.30" y="158.44" width="4.27" height="1.66" fill="#6c6de9"/><rect x="20.52" y="158.44" width="4.27" height="1.66" fill="#9998ed"/><rect x="24.73" y="158.44" width="4.27" height="1.66" fill="#8e8eec"/><rect x="28.95" y="158.44" width="4.27" height="1.66" fill="#f1cfd6"/><rect x="33.17" y="158.44" width="4.27" height="1.66" fill="#e8e2f5"/><rect x="37.38" y="158.44" width="4.27" height="1.66" fill="#f0eaf6"/><rect x="41.60" y="158.44" width="4.27" height="1.66" fill="#eda7ae"/><rect x="45.82" y="158.44" width="4.27" height="1.66" fill="#e88187"/><rect x="50.03" y="158.44" width="4.27" height="1.66" fill="#e77479"/><rect x="54.25" y="158.44" width="4.27" height="1.66" fill="#e6686d"/><rect x="58.47" y="158.44" width="4.27" height="1.66" fill="#e55d62"/><rect x="62.68" y="158.44" width="4.27" height="1.66" fill="#e4565b"/><rect x="66.90" y="158.44" width="4.27" height="1.66" fill="#f2d9e0"/><rect x="71.12" y="158.44" width="4.27" height="1.66" fill="#e87a80"/><rect x="75.33" y="158.44" width="4.27" height="1.66" fill="#eca0a6"/><rect x="79.55" y="158.44" width="4.27" height="1.66" fill="#de1e22"/><rect x="83.77" y="158.44" width="4.27" height="1.66" fill="#df292e"/><rect x="87.98" y="158.44" width="4.27" height="1.66" fill="#de1e22"/><rect x="16.30" y="160.04" width="4.27" height="1.66" fill="#2026e2"/><rect x="20.52" y="160.04" width="4.27" height="1.66" fill="#383ce4"/><rect x="24.73" y="160.04" width="4.27" height="1.66" fill="#5f62e8"/><rect x="28.95" y="160.04" width="4.27" height="1.66" fill="#e2ddf4"/><rect x="33.17" y="160.04" width="4.27" height="1.66" fill="#b5b2f0"/><rect x="37.38" y="160.04" width="4.27" height="1.66" fill="#acaaef"/><rect x="41.60" y="160.04" width="4.27" height="1.66" fill="#d9d4f3"/><rect x="45.82" y="160.04" width="4.27" height="1.66" fill="#bbb8f1"/><rect x="50.03" y="160.04" width="4.27" height="1.66" fill="#edadb3"/><rect x="54.25" y="160.04" width="4.27" height="1.66" fill="#e03539"/><rect x="58.47" y="160.04" width="4.27" height="1.66" fill="#de1e22"/><rect x="62.68" y="160.04" width="4.27" height="1.66" fill="#e24246"/><rect x="66.90" y="160.04" width="4.27" height="1.66" fill="#f1d1d8"/><rect x="71.12" y="160.04" width="4.27" height="1.66" fill="#e87c82"/><rect x="75.33" y="160.04" width="4.27" height="1.66" fill="#ea9298"/><rect x="79.55" y="160.04" width="4.27" height="1.66" fill="#de1e22"/><rect x="83.77" y="160.04" width="4.27" height="1.66" fill="#e02d31"/><rect x="87.98" y="160.04" width="4.27" height="1.66" fill="#e2454a"/><rect x="16.30" y="161.65" width="4.27" height="1.66" fill="#6062e8"/><rect x="20.52" y="161.65" width="4.27" height="1.66" fill="#686ae9"/><rect x="24.73" y="161.65" width="4.27" height="1.66" fill="#8686ec"/><rect x="28.95" y="161.65" width="4.27" height="1.66" fill="#4a4ee6"/><rect x="33.17" y="161.65" width="4.27" height="1.66" fill="#575ae7"/><rect x="37.38" y="161.65" width="4.27" height="1.66" fill="#3e42e5"/><rect x="41.60" y="161.65" width="4.27" height="1.66" fill="#eebac1"/><rect x="45.82" y="161.65" width="4.27" height="1.66" fill="#edadb4"/><rect x="50.03" y="161.65" width="4.27" height="1.66" fill="#eb99a0"/><rect x="54.25" y="161.65" width="4.27" height="1.66" fill="#eca0a7"/><rect x="58.47" y="161.65" width="4.27" height="1.66" fill="#e9898f"/><rect x="62.68" y="161.65" width="4.27" height="1.66" fill="#e77378"/><rect x="66.90" y="161.65" width="4.27" height="1.66" fill="#f1cdd4"/><rect x="71.12" y="161.65" width="4.27" height="1.66" fill="#edadb4"/><rect x="75.33" y="161.65" width="4.27" height="1.66" fill="#efbfc6"/><rect x="79.55" y="161.65" width="4.27" height="1.66" fill="#eb969d"/><rect x="83.77" y="161.65" width="4.27" height="1.66" fill="#ea9197"/><rect x="87.98" y="161.65" width="4.27" height="1.66" fill="#e88086"/><rect x="16.30" y="163.26" width="4.27" height="1.66" fill="#7577ea"/><rect x="20.52" y="163.26" width="4.27" height="1.66" fill="#5d5fe8"/><rect x="24.73" y="163.26" width="4.27" height="1.66" fill="#6f70ea"/><rect x="28.95" y="163.26" width="4.27" height="1.66" fill="#d4cff3"/><rect x="33.17" y="163.26" width="4.27" height="1.66" fill="#afadf0"/><rect x="37.38" y="163.26" width="4.27" height="1.66" fill="#a4a2ef"/><rect x="41.60" y="163.26" width="4.27" height="1.66" fill="#c4c1f2"/><rect x="45.82" y="163.26" width="4.27" height="1.66" fill="#c5c2f2"/><rect x="50.03" y="163.26" width="4.27" height="1.66" fill="#cdc9f2"/><rect x="54.25" y="163.26" width="4.27" height="1.66" fill="#f0c5cc"/><rect x="58.47" y="163.26" width="4.27" height="1.66" fill="#eeb5bc"/><rect x="62.68" y="163.26" width="4.27" height="1.66" fill="#f3e4eb"/><rect x="66.90" y="163.26" width="4.27" height="1.66" fill="#f1cfd6"/><rect x="71.12" y="163.26" width="4.27" height="1.66" fill="#f0c4cb"/><rect x="75.33" y="163.26" width="4.27" height="1.66" fill="#eca1a7"/><rect x="79.55" y="163.26" width="4.27" height="1.66" fill="#e1363b"/><rect x="83.77" y="163.26" width="4.27" height="1.66" fill="#e03539"/><rect x="87.98" y="163.26" width="4.27" height="1.66" fill="#df262a"/><rect x="16.30" y="164.87" width="4.27" height="1.66" fill="#6769e9"/><rect x="20.52" y="164.87" width="4.27" height="1.66" fill="#6b6de9"/><rect x="24.73" y="164.87" width="4.27" height="1.66" fill="#aba9ef"/><rect x="28.95" y="164.87" width="4.27" height="1.66" fill="#eae5f5"/><rect x="33.17" y="164.87" width="4.27" height="1.66" fill="#ede7f5"/><rect x="37.38" y="164.87" width="4.27" height="1.66" fill="#cac6f2"/><rect x="41.60" y="164.87" width="4.27" height="1.66" fill="#ebe5f5"/><rect x="45.82" y="164.87" width="4.27" height="1.66" fill="#f3edf6"/><rect x="50.03" y="164.87" width="4.27" height="1.66" fill="#f3e4ec"/><rect x="54.25" y="164.87" width="4.27" height="1.66" fill="#9897ed"/><rect x="58.47" y="164.87" width="4.27" height="1.66" fill="#d1cdf3"/><rect x="62.68" y="164.87" width="4.27" height="1.66" fill="#a2a1ee"/><rect x="66.90" y="164.87" width="4.27" height="1.66" fill="#c7c4f2"/><rect x="71.12" y="164.87" width="4.27" height="1.66" fill="#b3b1f0"/><rect x="75.33" y="164.87" width="4.27" height="1.66" fill="#e5e0f5"/><rect x="79.55" y="164.87" width="4.27" height="1.66" fill="#e35055"/><rect x="83.77" y="164.87" width="4.27" height="1.66" fill="#e35257"/><rect x="87.98" y="164.87" width="4.27" height="1.66" fill="#e3494e"/><rect x="16.30" y="166.47" width="4.27" height="1.66" fill="#4246e5"/><rect x="20.52" y="166.47" width="4.27" height="1.66" fill="#353ae4"/><rect x="24.73" y="166.47" width="4.27" height="1.66" fill="#3a3ee5"/><rect x="28.95" y="166.47" width="4.27" height="1.66" fill="#8989ec"/><rect x="33.17" y="166.47" width="4.27" height="1.66" fill="#8787ec"/><rect x="37.38" y="166.47" width="4.27" height="1.66" fill="#6163e8"/><rect x="41.60" y="166.47" width="4.27" height="1.66" fill="#f4edf5"/><rect x="45.82" y="166.47" width="4.27" height="1.66" fill="#b8b5f0"/><rect x="50.03" y="166.47" width="4.27" height="1.66" fill="#b0aef0"/><rect x="54.25" y="166.47" width="4.27" height="1.66" fill="#585be7"/><rect x="58.47" y="166.47" width="4.27" height="1.66" fill="#4f53e7"/><rect x="62.68" y="166.47" width="4.27" height="1.66" fill="#5659e7"/><rect x="66.90" y="166.47" width="4.27" height="1.66" fill="#f3e6ed"/><rect x="71.12" y="166.47" width="4.27" height="1.66" fill="#e7777c"/><rect x="75.33" y="166.47" width="4.27" height="1.66" fill="#efc3ca"/><rect x="79.55" y="166.47" width="4.27" height="1.66" fill="#df272b"/><rect x="83.77" y="166.47" width="4.27" height="1.66" fill="#de2226"/><rect x="87.98" y="166.47" width="4.27" height="1.66" fill="#df292d"/><rect x="16.30" y="168.08" width="4.27" height="1.66" fill="#7e7eeb"/><rect x="20.52" y="168.08" width="4.27" height="1.66" fill="#7273ea"/><rect x="24.73" y="168.08" width="4.27" height="1.66" fill="#aeacef"/><rect x="28.95" y="168.08" width="4.27" height="1.66" fill="#9595ed"/><rect x="33.17" y="168.08" width="4.27" height="1.66" fill="#9392ed"/><rect x="37.38" y="168.08" width="4.27" height="1.66" fill="#5f61e8"/><rect x="41.60" y="168.08" width="4.27" height="1.66" fill="#8b8bec"/><rect x="45.82" y="168.08" width="4.27" height="1.66" fill="#8383eb"/><rect x="50.03" y="168.08" width="4.27" height="1.66" fill="#7576ea"/><rect x="54.25" y="168.08" width="4.27" height="1.66" fill="#edadb4"/><rect x="58.47" y="168.08" width="4.27" height="1.66" fill="#ea8c92"/><rect x="62.68" y="168.08" width="4.27" height="1.66" fill="#ea8f95"/><rect x="66.90" y="168.08" width="4.27" height="1.66" fill="#e55f64"/><rect x="71.12" y="168.08" width="4.27" height="1.66" fill="#e45459"/><rect x="75.33" y="168.08" width="4.27" height="1.66" fill="#e66b70"/><rect x="79.55" y="168.08" width="4.27" height="1.66" fill="#e66b70"/><rect x="83.77" y="168.08" width="4.27" height="1.66" fill="#e66b71"/><rect x="87.98" y="168.08" width="4.27" height="1.66" fill="#e56166"/><rect x="16.30" y="169.69" width="4.27" height="1.66" fill="#6062e8"/><rect x="20.52" y="169.69" width="4.27" height="1.66" fill="#4d51e6"/><rect x="24.73" y="169.69" width="4.27" height="1.66" fill="#1e24e2"/><rect x="28.95" y="169.69" width="4.27" height="1.66" fill="#bbb8f1"/><rect x="33.17" y="169.69" width="4.27" height="1.66" fill="#bebbf1"/><rect x="37.38" y="169.69" width="4.27" height="1.66" fill="#d4d0f3"/><rect x="41.60" y="169.69" width="4.27" height="1.66" fill="#7071ea"/><rect x="45.82" y="169.69" width="4.27" height="1.66" fill="#6466e9"/><rect x="50.03" y="169.69" width="4.27" height="1.66" fill="#3a3fe5"/><rect x="54.25" y="169.69" width="4.27" height="1.66" fill="#e45358"/><rect x="58.47" y="169.69" width="4.27" height="1.66" fill="#e13b40"/><rect x="62.68" y="169.69" width="4.27" height="1.66" fill="#e1363b"/><rect x="66.90" y="169.69" width="4.27" height="1.66" fill="#e9858b"/><rect x="71.12" y="169.69" width="4.27" height="1.66" fill="#e8787e"/><rect x="75.33" y="169.69" width="4.27" height="1.66" fill="#e8797e"/><rect x="79.55" y="169.69" width="4.27" height="1.66" fill="#e03439"/><rect x="83.77" y="169.69" width="4.27" height="1.66" fill="#e66d73"/><rect x="87.98" y="169.69" width="4.27" height="1.66" fill="#e87a80"/><rect x="16.30" y="171.29" width="4.27" height="1.66" fill="#5d5fe8"/><rect x="20.52" y="171.29" width="4.27" height="1.66" fill="#4246e5"/><rect x="24.73" y="171.29" width="4.27" height="1.66" fill="#5f61e8"/><rect x="28.95" y="171.29" width="4.27" height="1.66" fill="#f4edf5"/><rect x="33.17" y="171.29" width="4.27" height="1.66" fill="#ccc8f2"/><rect x="37.38" y="171.29" width="4.27" height="1.66" fill="#f2d9e1"/><rect x="41.60" y="171.29" width="4.27" height="1.66" fill="#7c7ceb"/><rect x="45.82" y="171.29" width="4.27" height="1.66" fill="#7677ea"/><rect x="50.03" y="171.29" width="4.27" height="1.66" fill="#797aeb"/><rect x="54.25" y="171.29" width="4.27" height="1.66" fill="#e9868c"/><rect x="58.47" y="171.29" width="4.27" height="1.66" fill="#eb9ca3"/><rect x="62.68" y="171.29" width="4.27" height="1.66" fill="#eca2a8"/><rect x="66.90" y="171.29" width="4.27" height="1.66" fill="#eca1a8"/><rect x="71.12" y="171.29" width="4.27" height="1.66" fill="#ea8e94"/><rect x="75.33" y="171.29" width="4.27" height="1.66" fill="#ea9197"/><rect x="79.55" y="171.29" width="4.27" height="1.66" fill="#e13a3f"/><rect x="83.77" y="171.29" width="4.27" height="1.66" fill="#eeb1b8"/><rect x="87.98" y="171.29" width="4.27" height="1.66" fill="#e4575c"/><rect x="16.30" y="172.90" width="4.27" height="1.66" fill="#5f62e8"/><rect x="20.52" y="172.90" width="4.27" height="1.66" fill="#7576ea"/><rect x="24.73" y="172.90" width="4.27" height="1.66" fill="#7072ea"/><rect x="28.95" y="172.90" width="4.27" height="1.66" fill="#f1ced5"/><rect x="33.17" y="172.90" width="4.27" height="1.66" fill="#f3e6ee"/><rect x="37.38" y="172.90" width="4.27" height="1.66" fill="#f1d4db"/><rect x="41.60" y="172.90" width="4.27" height="1.66" fill="#c5c2f2"/><rect x="45.82" y="172.90" width="4.27" height="1.66" fill="#d1cdf3"/><rect x="50.03" y="172.90" width="4.27" height="1.66" fill="#aeacef"/><rect x="54.25" y="172.90" width="4.27" height="1.66" fill="#e4575c"/><rect x="58.47" y="172.90" width="4.27" height="1.66" fill="#e34b50"/><rect x="62.68" y="172.90" width="4.27" height="1.66" fill="#e45358"/><rect x="66.90" y="172.90" width="4.27" height="1.66" fill="#e55e64"/><rect x="71.12" y="172.90" width="4.27" height="1.66" fill="#e56166"/><rect x="75.33" y="172.90" width="4.27" height="1.66" fill="#e55c61"/><rect x="79.55" y="172.90" width="4.27" height="1.66" fill="#de1e22"/><rect x="83.77" y="172.90" width="4.27" height="1.66" fill="#e03237"/><rect x="87.98" y="172.90" width="4.27" height="1.66" fill="#e4565b"/><rect x="16.30" y="174.51" width="4.27" height="1.66" fill="#1f25e2"/><rect x="20.52" y="174.51" width="4.27" height="1.66" fill="#2329e2"/><rect x="24.73" y="174.51" width="4.27" height="1.66" fill="#4447e6"/><rect x="28.95" y="174.51" width="4.27" height="1.66" fill="#9392ed"/><rect x="33.17" y="174.51" width="4.27" height="1.66" fill="#afadf0"/><rect x="37.38" y="174.51" width="4.27" height="1.66" fill="#b4b2f0"/><rect x="41.60" y="174.51" width="4.27" height="1.66" fill="#363be4"/><rect x="45.82" y="174.51" width="4.27" height="1.66" fill="#2328e2"/><rect x="50.03" y="174.51" width="4.27" height="1.66" fill="#373ce4"/><rect x="54.25" y="174.51" width="4.27" height="1.66" fill="#f2dee6"/><rect x="58.47" y="174.51" width="4.27" height="1.66" fill="#f1d0d7"/><rect x="62.68" y="174.51" width="4.27" height="1.66" fill="#f3e8f0"/><rect x="66.90" y="174.51" width="4.27" height="1.66" fill="#e9848a"/><rect x="71.12" y="174.51" width="4.27" height="1.66" fill="#efbec5"/><rect x="75.33" y="174.51" width="4.27" height="1.66" fill="#ec9ea5"/><rect x="79.55" y="174.51" width="4.27" height="1.66" fill="#e1393d"/><rect x="83.77" y="174.51" width="4.27" height="1.66" fill="#e56369"/><rect x="87.98" y="174.51" width="4.27" height="1.66" fill="#e9848a"/><rect x="16.30" y="176.11" width="4.27" height="1.66" fill="#4044e5"/><rect x="20.52" y="176.11" width="4.27" height="1.66" fill="#4549e6"/><rect x="24.73" y="176.11" width="4.27" height="1.66" fill="#2c31e3"/><rect x="28.95" y="176.11" width="4.27" height="1.66" fill="#ccc9f2"/><rect x="33.17" y="176.11" width="4.27" height="1.66" fill="#ede8f5"/><rect x="37.38" y="176.11" width="4.27" height="1.66" fill="#f3e5ed"/><rect x="41.60" y="176.11" width="4.27" height="1.66" fill="#ebe5f5"/><rect x="45.82" y="176.11" width="4.27" height="1.66" fill="#e5e0f5"/><rect x="50.03" y="176.11" width="4.27" height="1.66" fill="#acaaef"/><rect x="54.25" y="176.11" width="4.27" height="1.66" fill="#eeb8bf"/><rect x="58.47" y="176.11" width="4.27" height="1.66" fill="#ea8c92"/><rect x="62.68" y="176.11" width="4.27" height="1.66" fill="#efc3cb"/><rect x="66.90" y="176.11" width="4.27" height="1.66" fill="#e34d51"/><rect x="71.12" y="176.11" width="4.27" height="1.66" fill="#e13d42"/><rect x="75.33" y="176.11" width="4.27" height="1.66" fill="#e45459"/><rect x="79.55" y="176.11" width="4.27" height="1.66" fill="#e34d52"/><rect x="83.77" y="176.11" width="4.27" height="1.66" fill="#edaab0"/><rect x="87.98" y="176.11" width="4.27" height="1.66" fill="#efbcc3"/><rect x="16.30" y="177.72" width="4.27" height="1.66" fill="#2c31e3"/><rect x="20.52" y="177.72" width="4.27" height="1.66" fill="#5356e7"/><rect x="24.73" y="177.72" width="4.27" height="1.66" fill="#353ae4"/><rect x="28.95" y="177.72" width="4.27" height="1.66" fill="#b1aff0"/><rect x="33.17" y="177.72" width="4.27" height="1.66" fill="#aaa9ef"/><rect x="37.38" y="177.72" width="4.27" height="1.66" fill="#a2a0ee"/><rect x="41.60" y="177.72" width="4.27" height="1.66" fill="#afacf0"/><rect x="45.82" y="177.72" width="4.27" height="1.66" fill="#9594ed"/><rect x="50.03" y="177.72" width="4.27" height="1.66" fill="#7b7beb"/><rect x="54.25" y="177.72" width="4.27" height="1.66" fill="#efbac1"/><rect x="58.47" y="177.72" width="4.27" height="1.66" fill="#eeb1b8"/><rect x="62.68" y="177.72" width="4.27" height="1.66" fill="#eeb8bf"/><rect x="66.90" y="177.72" width="4.27" height="1.66" fill="#e6696f"/><rect x="71.12" y="177.72" width="4.27" height="1.66" fill="#eb989e"/><rect x="75.33" y="177.72" width="4.27" height="1.66" fill="#e7767b"/><rect x="79.55" y="177.72" width="4.27" height="1.66" fill="#e03438"/><rect x="83.77" y="177.72" width="4.27" height="1.66" fill="#ea8e94"/><rect x="87.98" y="177.72" width="4.27" height="1.66" fill="#e7747a"/><rect x="16.30" y="179.33" width="4.27" height="1.66" fill="#6365e8"/><rect x="20.52" y="179.33" width="4.27" height="1.66" fill="#4d50e6"/><rect x="24.73" y="179.33" width="4.27" height="1.66" fill="#4044e5"/><rect x="28.95" y="179.33" width="4.27" height="1.66" fill="#b3b1f0"/><rect x="33.17" y="179.33" width="4.27" height="1.66" fill="#6f71ea"/><rect x="37.38" y="179.33" width="4.27" height="1.66" fill="#8b8bec"/><rect x="41.60" y="179.33" width="4.27" height="1.66" fill="#8e8eec"/><rect x="45.82" y="179.33" width="4.27" height="1.66" fill="#8d8dec"/><rect x="50.03" y="179.33" width="4.27" height="1.66" fill="#696be9"/><rect x="54.25" y="179.33" width="4.27" height="1.66" fill="#c6c2f2"/><rect x="58.47" y="179.33" width="4.27" height="1.66" fill="#f1d6dd"/><rect x="62.68" y="179.33" width="4.27" height="1.66" fill="#f1ebf6"/><rect x="66.90" y="179.33" width="4.27" height="1.66" fill="#f0cdd4"/><rect x="71.12" y="179.33" width="4.27" height="1.66" fill="#eeb9c0"/><rect x="75.33" y="179.33" width="4.27" height="1.66" fill="#eda7ae"/><rect x="79.55" y="179.33" width="4.27" height="1.66" fill="#e55c61"/><rect x="83.77" y="179.33" width="4.27" height="1.66" fill="#e34d52"/><rect x="87.98" y="179.33" width="4.27" height="1.66" fill="#e4555a"/><rect x="16.30" y="180.93" width="4.27" height="1.66" fill="#272ce3"/><rect x="20.52" y="180.93" width="4.27" height="1.66" fill="#3d41e5"/><rect x="24.73" y="180.93" width="4.27" height="1.66" fill="#1e24e2"/><rect x="28.95" y="180.93" width="4.27" height="1.66" fill="#1e24e2"/><rect x="33.17" y="180.93" width="4.27" height="1.66" fill="#2328e2"/><rect x="37.38" y="180.93" width="4.27" height="1.66" fill="#292ee3"/><rect x="41.60" y="180.93" width="4.27" height="1.66" fill="#5d5fe8"/><rect x="45.82" y="180.93" width="4.27" height="1.66" fill="#7e7feb"/><rect x="50.03" y="180.93" width="4.27" height="1.66" fill="#7f80eb"/><rect x="54.25" y="180.93" width="4.27" height="1.66" fill="#f0c5cd"/><rect x="58.47" y="180.93" width="4.27" height="1.66" fill="#eca4aa"/><rect x="62.68" y="180.93" width="4.27" height="1.66" fill="#f1ced5"/><rect x="66.90" y="180.93" width="4.27" height="1.66" fill="#e1383c"/><rect x="71.12" y="180.93" width="4.27" height="1.66" fill="#e55e63"/><rect x="75.33" y="180.93" width="4.27" height="1.66" fill="#e24348"/><rect x="79.55" y="180.93" width="4.27" height="1.66" fill="#efc0c7"/><rect x="83.77" y="180.93" width="4.27" height="1.66" fill="#f1d2d9"/><rect x="87.98" y="180.93" width="4.27" height="1.66" fill="#f2dae1"/><rect x="16.30" y="182.54" width="4.27" height="1.66" fill="#1e24e2"/><rect x="20.52" y="182.54" width="4.27" height="1.66" fill="#1e24e2"/><rect x="24.73" y="182.54" width="4.27" height="1.66" fill="#1e24e2"/><rect x="28.95" y="182.54" width="4.27" height="1.66" fill="#a8a6ef"/><rect x="33.17" y="182.54" width="4.27" height="1.66" fill="#9191ed"/><rect x="37.38" y="182.54" width="4.27" height="1.66" fill="#8c8cec"/><rect x="41.60" y="182.54" width="4.27" height="1.66" fill="#6264e8"/><rect x="45.82" y="182.54" width="4.27" height="1.66" fill="#5a5de8"/><rect x="50.03" y="182.54" width="4.27" height="1.66" fill="#595be7"/><rect x="54.25" y="182.54" width="4.27" height="1.66" fill="#e4dff4"/><rect x="58.47" y="182.54" width="4.27" height="1.66" fill="#c4c1f2"/><rect x="62.68" y="182.54" width="4.27" height="1.66" fill="#c8c5f2"/><rect x="66.90" y="182.54" width="4.27" height="1.66" fill="#eb969d"/><rect x="71.12" y="182.54" width="4.27" height="1.66" fill="#eeb9c0"/><rect x="75.33" y="182.54" width="4.27" height="1.66" fill="#edb0b7"/><rect x="79.55" y="182.54" width="4.27" height="1.66" fill="#e6656b"/><rect x="83.77" y="182.54" width="4.27" height="1.66" fill="#eca4aa"/><rect x="87.98" y="182.54" width="4.27" height="1.66" fill="#eeb1b8"/><rect x="16.30" y="184.15" width="4.27" height="1.66" fill="#2c32e3"/><rect x="20.52" y="184.15" width="4.27" height="1.66" fill="#3b40e5"/><rect x="24.73" y="184.15" width="4.27" height="1.66" fill="#5356e7"/><rect x="28.95" y="184.15" width="4.27" height="1.66" fill="#f1d3db"/><rect x="33.17" y="184.15" width="4.27" height="1.66" fill="#d5d1f3"/><rect x="37.38" y="184.15" width="4.27" height="1.66" fill="#f4ecf4"/><rect x="41.60" y="184.15" width="4.27" height="1.66" fill="#adabef"/><rect x="45.82" y="184.15" width="4.27" height="1.66" fill="#b0adf0"/><rect x="50.03" y="184.15" width="4.27" height="1.66" fill="#b9b7f1"/><rect x="54.25" y="184.15" width="4.27" height="1.66" fill="#e56065"/><rect x="58.47" y="184.15" width="4.27" height="1.66" fill="#e66a70"/><rect x="62.68" y="184.15" width="4.27" height="1.66" fill="#e4565b"/><rect x="66.90" y="184.15" width="4.27" height="1.66" fill="#e56066"/><rect x="71.12" y="184.15" width="4.27" height="1.66" fill="#e1393e"/><rect x="75.33" y="184.15" width="4.27" height="1.66" fill="#e1393d"/><rect x="79.55" y="184.15" width="4.27" height="1.66" fill="#e56368"/><rect x="83.77" y="184.15" width="4.27" height="1.66" fill="#eb999f"/><rect x="87.98" y="184.15" width="4.27" height="1.66" fill="#edaeb5"/><rect x="16.30" y="185.75" width="4.27" height="1.66" fill="#5659e7"/><rect x="20.52" y="185.75" width="4.27" height="1.66" fill="#5f61e8"/><rect x="24.73" y="185.75" width="4.27" height="1.66" fill="#3f43e5"/><rect x="28.95" y="185.75" width="4.27" height="1.66" fill="#8d8dec"/><rect x="33.17" y="185.75" width="4.27" height="1.66" fill="#8282eb"/><rect x="37.38" y="185.75" width="4.27" height="1.66" fill="#595ce8"/><rect x="41.60" y="185.75" width="4.27" height="1.66" fill="#de1e22"/><rect x="45.82" y="185.75" width="4.27" height="1.66" fill="#de1e22"/><rect x="50.03" y="185.75" width="4.27" height="1.66" fill="#de1e22"/><rect x="54.25" y="185.75" width="4.27" height="1.66" fill="#cecaf2"/><rect x="58.47" y="185.75" width="4.27" height="1.66" fill="#a3a1ee"/><rect x="62.68" y="185.75" width="4.27" height="1.66" fill="#b7b4f0"/><rect x="66.90" y="185.75" width="4.27" height="1.66" fill="#b5b3f0"/><rect x="71.12" y="185.75" width="4.27" height="1.66" fill="#9292ed"/><rect x="75.33" y="185.75" width="4.27" height="1.66" fill="#f1ced6"/><rect x="79.55" y="185.75" width="4.27" height="1.66" fill="#e66d73"/><rect x="83.77" y="185.75" width="4.27" height="1.66" fill="#e66a70"/><rect x="87.98" y="185.75" width="4.27" height="1.66" fill="#e24449"/><rect x="16.30" y="187.36" width="4.27" height="1.66" fill="#6668e9"/><rect x="20.52" y="187.36" width="4.27" height="1.66" fill="#575ae7"/><rect x="24.73" y="187.36" width="4.27" height="1.66" fill="#5e61e8"/><rect x="28.95" y="187.36" width="4.27" height="1.66" fill="#494de6"/><rect x="33.17" y="187.36" width="4.27" height="1.66" fill="#4d51e6"/><rect x="37.38" y="187.36" width="4.27" height="1.66" fill="#2e33e4"/><rect x="41.60" y="187.36" width="4.27" height="1.66" fill="#f1d3db"/><rect x="45.82" y="187.36" width="4.27" height="1.66" fill="#eb9da4"/><rect x="50.03" y="187.36" width="4.27" height="1.66" fill="#eeb1b8"/><rect x="54.25" y="187.36" width="4.27" height="1.66" fill="#8484eb"/><rect x="58.47" y="187.36" width="4.27" height="1.66" fill="#9696ed"/><rect x="62.68" y="187.36" width="4.27" height="1.66" fill="#6365e8"/><rect x="66.90" y="187.36" width="4.27" height="1.66" fill="#575ae7"/><rect x="71.12" y="187.36" width="4.27" height="1.66" fill="#5b5de8"/><rect x="75.33" y="187.36" width="4.27" height="1.66" fill="#a7a5ef"/><rect x="79.55" y="187.36" width="4.27" height="1.66" fill="#eb989e"/><rect x="83.77" y="187.36" width="4.27" height="1.66" fill="#eca1a8"/><rect x="87.98" y="187.36" width="4.27" height="1.66" fill="#edb0b6"/><rect x="16.30" y="188.97" width="4.27" height="1.66" fill="#8b8bec"/><rect x="20.52" y="188.97" width="4.27" height="1.66" fill="#9292ed"/><rect x="24.73" y="188.97" width="4.27" height="1.66" fill="#9c9bee"/><rect x="28.95" y="188.97" width="4.27" height="1.66" fill="#8d8cec"/><rect x="33.17" y="188.97" width="4.27" height="1.66" fill="#9291ed"/><rect x="37.38" y="188.97" width="4.27" height="1.66" fill="#7375ea"/><rect x="41.60" y="188.97" width="4.27" height="1.66" fill="#e9888e"/><rect x="45.82" y="188.97" width="4.27" height="1.66" fill="#e77479"/><rect x="50.03" y="188.97" width="4.27" height="1.66" fill="#ea8d93"/><rect x="54.25" y="188.97" width="4.27" height="1.66" fill="#f1ebf6"/><rect x="58.47" y="188.97" width="4.27" height="1.66" fill="#b8b6f0"/><rect x="62.68" y="188.97" width="4.27" height="1.66" fill="#e8e3f5"/><rect x="66.90" y="188.97" width="4.27" height="1.66" fill="#1e24e2"/><rect x="71.12" y="188.97" width="4.27" height="1.66" fill="#1e24e2"/><rect x="75.33" y="188.97" width="4.27" height="1.66" fill="#6c6de9"/><rect x="79.55" y="188.97" width="4.27" height="1.66" fill="#e88187"/><rect x="83.77" y="188.97" width="4.27" height="1.66" fill="#e9878d"/><rect x="87.98" y="188.97" width="4.27" height="1.66" fill="#ec9ea4"/><rect x="16.30" y="190.57" width="4.27" height="1.66" fill="#7172ea"/><rect x="20.52" y="190.57" width="4.27" height="1.66" fill="#6668e9"/><rect x="24.73" y="190.57" width="4.27" height="1.66" fill="#6769e9"/><rect x="28.95" y="190.57" width="4.27" height="1.66" fill="#9797ed"/><rect x="33.17" y="190.57" width="4.27" height="1.66" fill="#6264e8"/><rect x="37.38" y="190.57" width="4.27" height="1.66" fill="#aba9ef"/><rect x="41.60" y="190.57" width="4.27" height="1.66" fill="#a4a2ef"/><rect x="45.82" y="190.57" width="4.27" height="1.66" fill="#9897ed"/><rect x="50.03" y="190.57" width="4.27" height="1.66" fill="#c0bdf1"/><rect x="54.25" y="190.57" width="4.27" height="1.66" fill="#b6b4f0"/><rect x="58.47" y="190.57" width="4.27" height="1.66" fill="#9493ed"/><rect x="62.68" y="190.57" width="4.27" height="1.66" fill="#bab8f1"/><rect x="66.90" y="190.57" width="4.27" height="1.66" fill="#1e24e2"/><rect x="71.12" y="190.57" width="4.27" height="1.66" fill="#1e24e2"/><rect x="75.33" y="190.57" width="4.27" height="1.66" fill="#9d9cee"/><rect x="79.55" y="190.57" width="4.27" height="1.66" fill="#e45459"/><rect x="83.77" y="190.57" width="4.27" height="1.66" fill="#e66a6f"/><rect x="87.98" y="190.57" width="4.27" height="1.66" fill="#e24449"/><rect x="16.30" y="192.18" width="4.27" height="1.66" fill="#4f52e7"/><rect x="20.52" y="192.18" width="4.27" height="1.66" fill="#4a4ee6"/><rect x="24.73" y="192.18" width="4.27" height="1.66" fill="#5457e7"/><rect x="28.95" y="192.18" width="4.27" height="1.66" fill="#9090ed"/><rect x="33.17" y="192.18" width="4.27" height="1.66" fill="#6264e8"/><rect x="37.38" y="192.18" width="4.27" height="1.66" fill="#9292ed"/><rect x="41.60" y="192.18" width="4.27" height="1.66" fill="#eeb8bf"/><rect x="45.82" y="192.18" width="4.27" height="1.66" fill="#e76e74"/><rect x="50.03" y="192.18" width="4.27" height="1.66" fill="#ea8d93"/><rect x="54.25" y="192.18" width="4.27" height="1.66" fill="#f1cfd7"/><rect x="58.47" y="192.18" width="4.27" height="1.66" fill="#f0cad2"/><rect x="62.68" y="192.18" width="4.27" height="1.66" fill="#f1ebf6"/><rect x="66.90" y="192.18" width="4.27" height="1.66" fill="#adabef"/><rect x="71.12" y="192.18" width="4.27" height="1.66" fill="#b4b2f0"/><rect x="75.33" y="192.18" width="4.27" height="1.66" fill="#f1d1d9"/><rect x="79.55" y="192.18" width="4.27" height="1.66" fill="#de1e22"/><rect x="83.77" y="192.18" width="4.27" height="1.66" fill="#de1e22"/><rect x="87.98" y="192.18" width="4.27" height="1.66" fill="#de1e22"/><rect x="16.30" y="193.79" width="4.27" height="1.66" fill="#8889ec"/><rect x="20.52" y="193.79" width="4.27" height="1.66" fill="#7778ea"/><rect x="24.73" y="193.79" width="4.27" height="1.66" fill="#8686ec"/><rect x="28.95" y="193.79" width="4.27" height="1.66" fill="#d3cff3"/><rect x="33.17" y="193.79" width="4.27" height="1.66" fill="#e4def4"/><rect x="37.38" y="193.79" width="4.27" height="1.66" fill="#ded9f4"/><rect x="41.60" y="193.79" width="4.27" height="1.66" fill="#eca5ac"/><rect x="45.82" y="193.79" width="4.27" height="1.66" fill="#e98b91"/><rect x="50.03" y="193.79" width="4.27" height="1.66" fill="#ea8e94"/><rect x="54.25" y="193.79" width="4.27" height="1.66" fill="#e87b81"/><rect x="58.47" y="193.79" width="4.27" height="1.66" fill="#f2dfe6"/><rect x="62.68" y="193.79" width="4.27" height="1.66" fill="#eca7ad"/><rect x="66.90" y="193.79" width="4.27" height="1.66" fill="#8888ec"/><rect x="71.12" y="193.79" width="4.27" height="1.66" fill="#9291ed"/><rect x="75.33" y="193.79" width="4.27" height="1.66" fill="#f3e8f0"/><rect x="79.55" y="193.79" width="4.27" height="1.66" fill="#de1e22"/><rect x="83.77" y="193.79" width="4.27" height="1.66" fill="#de1e22"/><rect x="87.98" y="193.79" width="4.27" height="1.66" fill="#de1e22"/><rect x="16.30" y="195.39" width="4.27" height="1.66" fill="#5d5fe8"/><rect x="20.52" y="195.39" width="4.27" height="1.66" fill="#5e61e8"/><rect x="24.73" y="195.39" width="4.27" height="1.66" fill="#494de6"/><rect x="28.95" y="195.39" width="4.27" height="1.66" fill="#6567e9"/><rect x="33.17" y="195.39" width="4.27" height="1.66" fill="#5659e7"/><rect x="37.38" y="195.39" width="4.27" height="1.66" fill="#7273ea"/><rect x="41.60" y="195.39" width="4.27" height="1.66" fill="#e7777d"/><rect x="45.82" y="195.39" width="4.27" height="1.66" fill="#e56166"/><rect x="50.03" y="195.39" width="4.27" height="1.66" fill="#e66b71"/><rect x="54.25" y="195.39" width="4.27" height="1.66" fill="#9998ee"/><rect x="58.47" y="195.39" width="4.27" height="1.66" fill="#a19fee"/><rect x="62.68" y="195.39" width="4.27" height="1.66" fill="#9696ed"/><rect x="66.90" y="195.39" width="4.27" height="1.66" fill="#4f52e7"/><rect x="71.12" y="195.39" width="4.27" height="1.66" fill="#7374ea"/><rect x="75.33" y="195.39" width="4.27" height="1.66" fill="#adabef"/><rect x="79.55" y="195.39" width="4.27" height="1.66" fill="#e4585d"/><rect x="83.77" y="195.39" width="4.27" height="1.66" fill="#e24449"/><rect x="87.98" y="195.39" width="4.27" height="1.66" fill="#e2454a"/></g>
<rect x="16.30" y="45" width="12.70" height="4" fill="#c41ee0"/>
<rect x="28.95" y="45" width="12.70" height="4" fill="#62a83a"/>
<rect x="41.60" y="45" width="12.70" height="4" fill="#d01414"/>
<rect x="54.25" y="45" width="12.70" height="4" fill="#3442d8"/>
<rect x="66.90" y="45" width="12.70" height="4" fill="#c8c8c8"/>
<rect x="79.55" y="45" width="12.70" height="4" fill="#000000"/>
<line x1="21.5" y1="8.6" x2="70.1" y2="8.6" stroke="#c4c4c4" stroke-width="0.6"/>
<line x1="55.1" y1="13" x2="85.5" y2="13" stroke="#c4c4c4" stroke-width="0.6"/>
<line x1="41.2" y1="20.5" x2="68.3" y2="20.5" stroke="#c4c4c4" stroke-width="0.6"/>
<line x1="34" y1="24.3" x2="49" y2="24.3" stroke="#c4c4c4" stroke-width="0.6"/>
<line x1="62" y1="23.4" x2="74.5" y2="23.4" stroke="#c4c4c4" stroke-width="0.6"/>
<line x1="71.4" y1="25.5" x2="77.6" y2="25.5" stroke="#c4c4c4" stroke-width="0.6"/>
<line x1="81.4" y1="27.1" x2="88.3" y2="27.1" stroke="#c4c4c4" stroke-width="0.6"/>
<line x1="18.2" y1="29.3" x2="24.8" y2="29.3" stroke="#c4c4c4" stroke-width="0.6"/>
<line x1="31.9" y1="29.3" x2="38.2" y2="29.3" stroke="#c4c4c4" stroke-width="0.6"/>
<line x1="43.6" y1="28.5" x2="48.2" y2="28.5" stroke="#c4c4c4" stroke-width="0.6"/>
<line x1="59.5" y1="29.2" x2="64.5" y2="29.2" stroke="#c4c4c4" stroke-width="0.6"/>
<line x1="69.5" y1="29.2" x2="73.3" y2="29.2" stroke="#c4c4c4" stroke-width="0.6"/>
<line x1="56.4" y1="30.9" x2="60.8" y2="30.9" stroke="#c4c4c4" stroke-width="0.6"/>
<line x1="86.4" y1="30.9" x2="90.1" y2="30.9" stroke="#c4c4c4" stroke-width="0.6"/>
<line x1="22.3" y1="33.5" x2="27.3" y2="33.5" stroke="#c4c4c4" stroke-width="0.6"/>
<line x1="35.3" y1="33.5" x2="39.8" y2="33.5" stroke="#c4c4c4" stroke-width="0.6"/>
<line x1="21.5" y1="8.6" x2="21.5" y2="29.3" stroke="#e2e2e2" stroke-width="0.5"/>
<line x1="70.1" y1="8.6" x2="70.1" y2="13" stroke="#e2e2e2" stroke-width="0.5"/>
<line x1="55.1" y1="13" x2="55.1" y2="20.5" stroke="#e2e2e2" stroke-width="0.5"/>
<line x1="85.5" y1="13" x2="85.5" y2="27.1" stroke="#e2e2e2" stroke-width="0.5"/>
<line x1="41.2" y1="20.5" x2="41.2" y2="24.3" stroke="#e2e2e2" stroke-width="0.5"/>
<line x1="68.3" y1="20.5" x2="68.3" y2="23.4" stroke="#e2e2e2" stroke-width="0.5"/>
<line x1="34" y1="24.3" x2="34" y2="29.3" stroke="#e2e2e2" stroke-width="0.5"/>
<line x1="49" y1="24.3" x2="49" y2="28.5" stroke="#e2e2e2" stroke-width="0.5"/>
<line x1="62" y1="23.4" x2="62" y2="29.2" stroke="#e2e2e2" stroke-width="0.5"/>
<line x1="74.5" y1="23.4" x2="74.5" y2="25.5" stroke="#e2e2e2" stroke-width="0.5"/>
<line x1="71.4" y1="25.5" x2="71.4" y2="29.2" stroke="#e2e2e2" stroke-width="0.5"/>
<line x1="77.6" y1="25.5" x2="77.6" y2="42" stroke="#eeeeee" stroke-width="0.5"/>
<line x1="81.4" y1="27.1" x2="81.4" y2="42" stroke="#eeeeee" stroke-width="0.5"/>
<line x1="88.3" y1="27.1" x2="88.3" y2="30.9" stroke="#e2e2e2" stroke-width="0.5"/>
<line x1="18.2" y1="29.3" x2="18.2" y2="42" stroke="#eeeeee" stroke-width="0.5"/>
<line x1="24.8" y1="29.3" x2="24.8" y2="33.5" stroke="#e2e2e2" stroke-width="0.5"/>
<line x1="31.9" y1="29.3" x2="31.9" y2="42" stroke="#eeeeee" stroke-width="0.5"/>
<line x1="38.2" y1="29.3" x2="38.2" y2="33.5" stroke="#e2e2e2" stroke-width="0.5"/>
<line x1="43.6" y1="28.5" x2="43.6" y2="42" stroke="#eeeeee" stroke-width="0.5"/>
<line x1="48.2" y1="28.5" x2="48.2" y2="42" stroke="#eeeeee" stroke-width="0.5"/>
<line x1="59.5" y1="29.2" x2="59.5" y2="30.9" stroke="#e2e2e2" stroke-width="0.5"/>
<line x1="64.5" y1="29.2" x2="64.5" y2="42" stroke="#eeeeee" stroke-width="0.5"/>
<line x1="69.5" y1="29.2" x2="69.5" y2="42" stroke="#eeeeee" stroke-width="0.5"/>
<line x1="73.3" y1="29.2" x2="73.3" y2="42" stroke="#eeeeee" stroke-width="0.5"/>
<line x1="56.4" y1="30.9" x2="56.4" y2="42" stroke="#eeeeee" stroke-width="0.5"/>
<line x1="60.8" y1="30.9" x2="60.8" y2="42" stroke="#eeeeee" stroke-width="0.5"/>
<line x1="86.4" y1="30.9" x2="86.4" y2="42" stroke="#eeeeee" stroke-width="0.5"/>
<line x1="90.1" y1="30.9" x2="90.1" y2="42" stroke="#eeeeee" stroke-width="0.5"/>
<line x1="22.3" y1="33.5" x2="22.3" y2="42" stroke="#eeeeee" stroke-width="0.5"/>
<line x1="27.3" y1="33.5" x2="27.3" y2="42" stroke="#eeeeee" stroke-width="0.5"/>
<line x1="35.3" y1="33.5" x2="35.3" y2="42" stroke="#eeeeee" stroke-width="0.5"/>
<line x1="39.8" y1="33.5" x2="39.8" y2="42" stroke="#eeeeee" stroke-width="0.5"/>
<rect x="102.8" y="41.90" width="6" height="6" fill="#d21fd8" stroke="#222" stroke-width="0.6"/>
<text x="111.3" y="47.5" font-size="5.5" text-anchor="start" fill="#000" stroke="#000" font-weight="normal" >T<tspan font-size="4.4" dy="1.6">N</tspan></text>
<rect x="102.8" y="51.07" width="6" height="6" fill="#6aa63c" stroke="#222" stroke-width="0.6"/>
<text x="111.3" y="56.67" font-size="5.5" text-anchor="start" fill="#000" stroke="#000" font-weight="normal" >T<tspan font-size="4.4" dy="1.6">BCM</tspan></text>
<rect x="102.8" y="60.24" width="6" height="6" fill="#c8141c" stroke="#222" stroke-width="0.6"/>
<text x="111.3" y="65.83999999999999" font-size="5.5" text-anchor="start" fill="#000" stroke="#000" font-weight="normal" >T<tspan font-size="4.4" dy="1.6">BCM</tspan><tspan font-size="4.9" dy="-1.7">-enriched</tspan></text>
<rect x="102.8" y="69.41" width="6" height="6" fill="#3a42d6" stroke="#222" stroke-width="0.6"/>
<text x="111.3" y="75.00999999999999" font-size="5.5" text-anchor="start" fill="#000" stroke="#000" font-weight="normal" >T<tspan font-size="4.4" dy="1.6">CM</tspan></text>
<rect x="102.8" y="78.58" width="6" height="6" fill="#d4d4d4" stroke="#222" stroke-width="0.6"/>
<text x="111.3" y="84.17999999999999" font-size="5.5" text-anchor="start" fill="#000" stroke="#000" font-weight="normal" >Standard</text>
<rect x="102.8" y="87.75" width="6" height="6" fill="#000000" stroke="#222" stroke-width="0.6"/>
<text x="111.3" y="93.35" font-size="5.5" text-anchor="start" fill="#000" stroke="#000" font-weight="normal" >T<tspan font-size="4.4" dy="1.6">EM</tspan></text>
<line x1="36.5" y1="221.5" x2="36.5" y2="304.5" stroke="#000" stroke-width="1"/>
<line x1="36" y1="304.5" x2="113" y2="304.5" stroke="#000" stroke-width="1"/>
<line x1="33.5" y1="223.6" x2="36.5" y2="223.6" stroke="#000" stroke-width="0.8"/>
<text x="32.5" y="225.6" font-size="5.5" text-anchor="end" fill="#000" stroke="#000" font-weight="normal" >19</text>
<line x1="33.5" y1="239.6" x2="36.5" y2="239.6" stroke="#000" stroke-width="0.8"/>
<text x="32.5" y="241.6" font-size="5.5" text-anchor="end" fill="#000" stroke="#000" font-weight="normal" >11.2</text>
<line x1="33.5" y1="255.6" x2="36.5" y2="255.6" stroke="#000" stroke-width="0.8"/>
<text x="32.5" y="257.6" font-size="5.5" text-anchor="end" fill="#000" stroke="#000" font-weight="normal" >3.4</text>
<line x1="33.5" y1="271.5" x2="36.5" y2="271.5" stroke="#000" stroke-width="0.8"/>
<text x="32.5" y="273.5" font-size="5.5" text-anchor="end" fill="#000" stroke="#000" font-weight="normal" >−4.4</text>
<line x1="33.5" y1="287.5" x2="36.5" y2="287.5" stroke="#000" stroke-width="0.8"/>
<text x="32.5" y="289.5" font-size="5.5" text-anchor="end" fill="#000" stroke="#000" font-weight="normal" >−12.2</text>
<line x1="33.5" y1="303.4" x2="36.5" y2="303.4" stroke="#000" stroke-width="0.8"/>
<text x="32.5" y="305.4" font-size="5.5" text-anchor="end" fill="#000" stroke="#000" font-weight="normal" >−20</text>
<line x1="35" y1="231.6" x2="36.5" y2="231.6" stroke="#000" stroke-width="0.6"/>
<line x1="35" y1="247.6" x2="36.5" y2="247.6" stroke="#000" stroke-width="0.6"/>
<line x1="35" y1="263.5" x2="36.5" y2="263.5" stroke="#000" stroke-width="0.6"/>
<line x1="35" y1="279.5" x2="36.5" y2="279.5" stroke="#000" stroke-width="0.6"/>
<line x1="35" y1="295.4" x2="36.5" y2="295.4" stroke="#000" stroke-width="0.6"/>
<line x1="37" y1="304.5" x2="37" y2="307.5" stroke="#000" stroke-width="0.8"/>
<text x="37" y="313.9" font-size="5.5" text-anchor="middle" fill="#000" stroke="#000" font-weight="normal" >−40</text>
<line x1="52" y1="304.5" x2="52" y2="307.5" stroke="#000" stroke-width="0.8"/>
<text x="52" y="313.9" font-size="5.5" text-anchor="middle" fill="#000" stroke="#000" font-weight="normal" >−24</text>
<line x1="67" y1="304.5" x2="67" y2="307.5" stroke="#000" stroke-width="0.8"/>
<text x="67" y="313.9" font-size="5.5" text-anchor="middle" fill="#000" stroke="#000" font-weight="normal" >−8</text>
<line x1="82" y1="304.5" x2="82" y2="307.5" stroke="#000" stroke-width="0.8"/>
<text x="82" y="313.9" font-size="5.5" text-anchor="middle" fill="#000" stroke="#000" font-weight="normal" >8</text>
<line x1="97" y1="304.5" x2="97" y2="307.5" stroke="#000" stroke-width="0.8"/>
<text x="97" y="313.9" font-size="5.5" text-anchor="middle" fill="#000" stroke="#000" font-weight="normal" >24</text>
<line x1="112" y1="304.5" x2="112" y2="307.5" stroke="#000" stroke-width="0.8"/>
<text x="112" y="313.9" font-size="5.5" text-anchor="middle" fill="#000" stroke="#000" font-weight="normal" >40</text>
<line x1="44.5" y1="304.5" x2="44.5" y2="306" stroke="#000" stroke-width="0.6"/>
<line x1="59.5" y1="304.5" x2="59.5" y2="306" stroke="#000" stroke-width="0.6"/>
<line x1="74.5" y1="304.5" x2="74.5" y2="306" stroke="#000" stroke-width="0.6"/>
<line x1="89.5" y1="304.5" x2="89.5" y2="306" stroke="#000" stroke-width="0.6"/>
<line x1="104.5" y1="304.5" x2="104.5" y2="306" stroke="#000" stroke-width="0.6"/>
<text x="74.8" y="324.2" font-size="5.5" text-anchor="middle" fill="#000" stroke="#000" font-weight="normal" >Dimension 1</text>
<text x="0" y="0" font-size="5.5" text-anchor="middle" fill="#000" stroke="#000" font-weight="normal" transform="translate(12.9 263.5) rotate(-90)">Dimension 2</text>
<ellipse cx="42.6" cy="239.2" rx="11.2" ry="4.2" transform="rotate(-71 42.6 239.2)" fill="none" stroke="#7a2a6e" stroke-width="1.0"/>
<circle cx="45.5" cy="234.9" r="2.4" fill="#9a6496" stroke="#141414" stroke-width="1.1"/>
<circle cx="40" cy="239.6" r="2.4" fill="#9a6496" stroke="#141414" stroke-width="1.1"/>
<circle cx="41.4" cy="246.3" r="2.4" fill="#9a6496" stroke="#141414" stroke-width="1.1"/>
<ellipse cx="79.6" cy="239.4" rx="16" ry="3.6" transform="rotate(-71 79.6 239.4)" fill="none" stroke="#8c8c8c" stroke-width="0.9"/>
<circle cx="80.5" cy="231.8" r="2.4" fill="#cfcfcf" stroke="#141414" stroke-width="1.1"/>
<circle cx="81.2" cy="239.1" r="2.4" fill="#cfcfcf" stroke="#141414" stroke-width="1.1"/>
<circle cx="76.2" cy="246.6" r="2.4" fill="#cfcfcf" stroke="#141414" stroke-width="1.1"/>
<ellipse cx="102.2" cy="248.0" rx="14.9" ry="2.1" transform="rotate(-51 102.2 248.0)" fill="none" stroke="#000" stroke-width="1.2"/>
<circle cx="106.7" cy="241.1" r="2.4" fill="#000" stroke="#141414" stroke-width="1.1"/>
<circle cx="98.4" cy="251.5" r="2.4" fill="#000" stroke="#141414" stroke-width="1.1"/>
<circle cx="102.0" cy="250.6" r="2.4" fill="#000" stroke="#141414" stroke-width="1.1"/>
<ellipse cx="67.0" cy="286.0" rx="16.9" ry="5.4" transform="rotate(62 67.0 286.0)" fill="none" stroke="#b02a40" stroke-width="1.0"/>
<ellipse cx="66.4" cy="279.2" rx="10.5" ry="3.8" transform="rotate(-50 66.4 279.2)" fill="none" stroke="#a6c88a" stroke-width="0.8"/>
<ellipse cx="82.4" cy="281.4" rx="11.8" ry="2.6" transform="rotate(-68 82.4 281.4)" fill="none" stroke="#5a6ab0" stroke-width="0.9"/>
<circle cx="70" cy="274.9" r="2.4" fill="#4fa23c" stroke="#141414" stroke-width="1.1"/>
<circle cx="62.1" cy="281.6" r="2.4" fill="#4fa23c" stroke="#141414" stroke-width="1.1"/>
<circle cx="65.2" cy="283.2" r="2.4" fill="#4fa23c" stroke="#141414" stroke-width="1.1"/>
<circle cx="63.7" cy="276.5" r="2.4" fill="#a8101c" stroke="#141414" stroke-width="1.1"/>
<circle cx="65.5" cy="289.1" r="2.4" fill="#a8101c" stroke="#141414" stroke-width="1.1"/>
<circle cx="71.4" cy="290.9" r="2.4" fill="#a8101c" stroke="#141414" stroke-width="1.1"/>
<circle cx="84.5" cy="274.9" r="2.4" fill="#3c4494" stroke="#141414" stroke-width="1.1"/>
<circle cx="81.2" cy="283.4" r="2.4" fill="#3c4494" stroke="#141414" stroke-width="1.1"/>
<circle cx="79.2" cy="285.8" r="2.4" fill="#3c4494" stroke="#141414" stroke-width="1.1"/>
<rect x="125.6" y="228.40" width="6.4" height="6.4" fill="#9a5a98" stroke="#222" stroke-width="0.7"/>
<text x="134.4" y="234.20000000000002" font-size="5.5" text-anchor="start" fill="#000" stroke="#000" font-weight="normal" >T<tspan font-size="4.4" dy="1.6">N</tspan></text>
<rect x="125.6" y="237.85" width="6.4" height="6.4" fill="#5aa646" stroke="#222" stroke-width="0.7"/>
<text x="134.4" y="243.65" font-size="5.5" text-anchor="start" fill="#000" stroke="#000" font-weight="normal" >T<tspan font-size="4.4" dy="1.6">BCM</tspan></text>
<rect x="125.6" y="247.30" width="6.4" height="6.4" fill="#b0101c" stroke="#222" stroke-width="0.7"/>
<text x="134.4" y="253.10000000000002" font-size="5.5" text-anchor="start" fill="#000" stroke="#000" font-weight="normal" >T<tspan font-size="4.4" dy="1.6">BCM</tspan><tspan font-size="4.9" dy="-1.7">-enriched</tspan></text>
<rect x="125.6" y="256.75" width="6.4" height="6.4" fill="#4a4ea0" stroke="#222" stroke-width="0.7"/>
<text x="134.4" y="262.55" font-size="5.5" text-anchor="start" fill="#000" stroke="#000" font-weight="normal" >T<tspan font-size="4.4" dy="1.6">CM</tspan></text>
<rect x="125.6" y="266.20" width="6.4" height="6.4" fill="#d0d0d0" stroke="#222" stroke-width="0.7"/>
<text x="134.4" y="272.0" font-size="5.5" text-anchor="start" fill="#000" stroke="#000" font-weight="normal" >Standard</text>
<rect x="125.6" y="275.65" width="6.4" height="6.4" fill="#000000" stroke="#222" stroke-width="0.7"/>
<text x="134.4" y="281.45" font-size="5.5" text-anchor="start" fill="#000" stroke="#000" font-weight="normal" >T<tspan font-size="4.4" dy="1.6">EM</tspan></text>
<text x="266.6" y="14.4" font-size="5.5" text-anchor="middle" fill="#000" stroke="#000" font-weight="normal" >Genes upregulated in T<tspan font-size="3.8" dy="1.5">BCM</tspan><tspan dy="-1.5"> </tspan>cells</text>
<text x="266.6" y="20.8" font-size="5.5" text-anchor="middle" fill="#000" stroke="#000" font-weight="normal" >relatively to T<tspan font-size="3.8" dy="1.5">EM</tspan><tspan dy="-1.5"> </tspan>cells</text>
<line x1="207.3" y1="30.5" x2="207.3" y2="144" stroke="#222" stroke-width="1"/>
<line x1="205.0" y1="39.4" x2="207.3" y2="39.4" stroke="#222" stroke-width="0.7"/>
<text x="203.10000000000002" y="41.3" font-size="5.5" text-anchor="end" fill="#000" stroke="#000" font-weight="normal" >0.6</text>
<line x1="205.0" y1="52.8" x2="207.3" y2="52.8" stroke="#222" stroke-width="0.7"/>
<text x="203.10000000000002" y="54.699999999999996" font-size="5.5" text-anchor="end" fill="#000" stroke="#000" font-weight="normal" >0.4</text>
<line x1="205.0" y1="66.2" x2="207.3" y2="66.2" stroke="#222" stroke-width="0.7"/>
<text x="203.10000000000002" y="68.10000000000001" font-size="5.5" text-anchor="end" fill="#000" stroke="#000" font-weight="normal" >0.2</text>
<line x1="205.0" y1="79.6" x2="207.3" y2="79.6" stroke="#222" stroke-width="0.7"/>
<text x="203.10000000000002" y="81.5" font-size="5.5" text-anchor="end" fill="#000" stroke="#000" font-weight="normal" >0.0</text>
<line x1="205.8" y1="32.7" x2="207.3" y2="32.7" stroke="#222" stroke-width="0.6"/>
<line x1="205.8" y1="46.1" x2="207.3" y2="46.1" stroke="#222" stroke-width="0.6"/>
<line x1="205.8" y1="59.5" x2="207.3" y2="59.5" stroke="#222" stroke-width="0.6"/>
<line x1="205.8" y1="72.9" x2="207.3" y2="72.9" stroke="#222" stroke-width="0.6"/>
<line x1="207.3" y1="79.4" x2="323" y2="79.4" stroke="#b4b4b4" stroke-width="0.6"/>
<line x1="207.3" y1="85.0" x2="323.5" y2="85.0" stroke="#c8c8c8" stroke-width="0.6"/>
<rect x="208" y="85.3" width="2.8000000000000114" height="17.999999999999996" fill="#111"/>
<rect x="211.2" y="85.3" width="1.0" height="17.999999999999996" fill="#555"/>
<rect x="212.8" y="85.3" width="0.6999999999999886" height="17.999999999999996" fill="#333"/>
<rect x="214.1" y="85.3" width="1.8000000000000114" height="17.999999999999996" fill="#999"/>
<rect x="216.5" y="85.3" width="0.5999999999999943" height="17.999999999999996" fill="#444"/>
<rect x="218.3" y="85.3" width="0.5999999999999943" height="17.999999999999996" fill="#888"/>
<rect x="219.5" y="85.3" width="4.800000000000011" height="17.999999999999996" fill="#a8a8a8"/>
<rect x="224.7" y="85.3" width="0.6000000000000227" height="17.999999999999996" fill="#444"/>
<rect x="228.4" y="85.3" width="1.1999999999999886" height="17.999999999999996" fill="#999"/>
<rect x="230.2" y="85.3" width="0.5" height="17.999999999999996" fill="#777"/>
<rect x="236" y="85.3" width="0.5999999999999943" height="17.999999999999996" fill="#666"/>
<rect x="237.4" y="85.3" width="0.5999999999999943" height="17.999999999999996" fill="#888"/>
<rect x="247.5" y="85.3" width="0.5999999999999943" height="17.999999999999996" fill="#777"/>
<rect x="249.9" y="85.3" width="1.0999999999999943" height="17.999999999999996" fill="#999"/>
<rect x="251.5" y="85.3" width="0.6999999999999886" height="17.999999999999996" fill="#444"/>
<rect x="252.6" y="85.3" width="0.9000000000000057" height="17.999999999999996" fill="#888"/>
<rect x="258.8" y="85.3" width="3.599999999999966" height="17.999999999999996" fill="#b0b0b0"/>
<rect x="267" y="85.3" width="0.6000000000000227" height="17.999999999999996" fill="#888"/>
<rect x="272" y="85.3" width="0.6000000000000227" height="17.999999999999996" fill="#888"/>
<rect x="277" y="85.3" width="0.6000000000000227" height="17.999999999999996" fill="#666"/>
<rect x="286" y="85.3" width="1" height="17.999999999999996" fill="#555"/>
<rect x="288.7" y="85.3" width="1.900000000000034" height="17.999999999999996" fill="#aaa"/>
<rect x="294.3" y="85.3" width="0.5999999999999659" height="17.999999999999996" fill="#888"/>
<rect x="296.2" y="85.3" width="0.6000000000000227" height="17.999999999999996" fill="#888"/>
<rect x="304" y="85.3" width="1.8999999999999773" height="17.999999999999996" fill="#a0a0a0"/>
<rect x="310.8" y="85.3" width="0.5999999999999659" height="17.999999999999996" fill="#999"/>
<rect x="316" y="85.3" width="1.3000000000000114" height="17.999999999999996" fill="#555"/>
<rect x="318.6" y="85.3" width="0.5999999999999659" height="17.999999999999996" fill="#444"/>
<rect x="322.2" y="85.3" width="0.6000000000000227" height="17.999999999999996" fill="#999"/>
<rect x="207.8" y="103.3" width="115.19999999999999" height="4.1" fill="url(#cbar)"/>
<polyline points="207.8,51 208.5,46 209.3,40.5 210.3,36.8 211.6,35 213.3,34.2 216,33.8 219,34.1 221.5,34.6 224,34.5 226,35.1 229,37.2 235.7,41.5 247.3,47.8 260,54.2 270,59.4 280.8,65 291,70.2 301.7,75.8 307,78.6 311,80.6 313.5,81.8 315,82.1 316.5,81.6 318.3,80.6 320,79.8 322.5,79.2" fill="none" stroke="#80a844" stroke-width="1.3" stroke-linejoin="round"/>
<line x1="262.1" y1="35.8" x2="269.90000000000003" y2="35.8" stroke="#a8b888" stroke-width="1.2"/>
<line x1="262.1" y1="41.4" x2="269.90000000000003" y2="41.4" stroke="#000" stroke-width="1.2"/>
<line x1="262.1" y1="47.199999999999996" x2="269.90000000000003" y2="47.199999999999996" stroke="#b8b8b8" stroke-width="2"/>
<text x="272.1" y="37.8" font-size="5.5" text-anchor="start" fill="#000" stroke="#000" font-weight="normal" >Enrichment profile</text>
<text x="272.1" y="43.4" font-size="5.5" text-anchor="start" fill="#000" stroke="#000" font-weight="normal" >Hits</text>
<text x="272.1" y="49.199999999999996" font-size="5.5" text-anchor="start" fill="#000" stroke="#000" font-weight="normal" >Ranking metric scores</text>
<line x1="205.0" y1="112.2" x2="207.3" y2="112.2" stroke="#222" stroke-width="0.7"/>
<text x="203.10000000000002" y="114.10000000000001" font-size="5.5" text-anchor="end" fill="#000" stroke="#000" font-weight="normal" >1</text>
<line x1="205.8" y1="116.8" x2="207.3" y2="116.8" stroke="#222" stroke-width="0.6"/>
<line x1="205.0" y1="121.1" x2="207.3" y2="121.1" stroke="#222" stroke-width="0.7"/>
<text x="203.10000000000002" y="123.0" font-size="5.5" text-anchor="end" fill="#000" stroke="#000" font-weight="normal" >0</text>
<line x1="205.8" y1="125.69999999999999" x2="207.3" y2="125.69999999999999" stroke="#222" stroke-width="0.6"/>
<line x1="205.0" y1="130.3" x2="207.3" y2="130.3" stroke="#222" stroke-width="0.7"/>
<text x="203.10000000000002" y="132.20000000000002" font-size="5.5" text-anchor="end" fill="#000" stroke="#000" font-weight="normal" >−1</text>
<line x1="205.8" y1="134.9" x2="207.3" y2="134.9" stroke="#222" stroke-width="0.6"/>
<line x1="205.0" y1="139.6" x2="207.3" y2="139.6" stroke="#222" stroke-width="0.7"/>
<text x="203.10000000000002" y="141.5" font-size="5.5" text-anchor="end" fill="#000" stroke="#000" font-weight="normal" >−2</text>
<line x1="207.3" y1="121.1" x2="322.8" y2="121.1" stroke="#909090" stroke-width="0.5"/>
<polygon points="207.8,121.1 207.8,117.6 209.3,119.3 212.3,120.1 219.3,120.5 237.3,120.8 262.0,121.1 280.0,121.7 300.0,122.7 312.0,124.1 318.0,125.6 320.5,127.6 321.5,131.1 322.2,136.1 322.8,140.6 322.8,121.1" fill="#a8a8a8"/>
<text x="209.5" y="114.2" font-size="5.5" text-anchor="start" fill="#c0303c" stroke="#c0303c" font-weight="normal" >‘T<tspan font-size="3.8" dy="1.2">BCM</tspan><tspan dy="-1.2">-enriched’ (positively correlated)</tspan></text>
<text x="269.1" y="127.2" font-size="5.5" text-anchor="middle" fill="#000" stroke="#000" font-weight="normal" >Zero cross at 10644</text>
<text x="320.2" y="141.3" font-size="5.5" text-anchor="end" fill="#5a5aa8" stroke="#5a5aa8" font-weight="normal" >‘Standard’ (negatively correlated)</text>
<line x1="207.3" y1="143.9" x2="327" y2="143.9" stroke="#222" stroke-width="1"/>
<line x1="207.50" y1="143.9" x2="207.50" y2="146.3" stroke="#222" stroke-width="0.7"/>
<text x="207.5" y="153.4" font-size="5.5" text-anchor="middle" fill="#000" stroke="#000" font-weight="normal" >0</text>
<line x1="221.77" y1="143.9" x2="221.77" y2="146.3" stroke="#222" stroke-width="0.7"/>
<line x1="236.04" y1="143.9" x2="236.04" y2="146.3" stroke="#222" stroke-width="0.7"/>
<text x="236.04" y="153.4" font-size="5.5" text-anchor="middle" fill="#000" stroke="#000" font-weight="normal" >5</text>
<line x1="250.31" y1="143.9" x2="250.31" y2="146.3" stroke="#222" stroke-width="0.7"/>
<line x1="264.58" y1="143.9" x2="264.58" y2="146.3" stroke="#222" stroke-width="0.7"/>
<text x="264.58" y="153.4" font-size="5.5" text-anchor="middle" fill="#000" stroke="#000" font-weight="normal" >10</text>
<line x1="278.85" y1="143.9" x2="278.85" y2="146.3" stroke="#222" stroke-width="0.7"/>
<line x1="293.12" y1="143.9" x2="293.12" y2="146.3" stroke="#222" stroke-width="0.7"/>
<text x="293.12" y="153.4" font-size="5.5" text-anchor="middle" fill="#000" stroke="#000" font-weight="normal" >15</text>
<line x1="307.39" y1="143.9" x2="307.39" y2="146.3" stroke="#222" stroke-width="0.7"/>
<line x1="321.66" y1="143.9" x2="321.66" y2="146.3" stroke="#222" stroke-width="0.7"/>
<text x="321.66" y="153.4" font-size="5.5" text-anchor="middle" fill="#000" stroke="#000" font-weight="normal" >20</text>
<text x="267.5" y="162.9" font-size="5.5" text-anchor="middle" fill="#000" stroke="#000" font-weight="normal" >Rank in ordered dataset (x10<tspan font-size="3.8" dy="-2">3</tspan><tspan dy="2">)</tspan></text>
<text x="0" y="0" font-size="5.5" text-anchor="middle" fill="#000" stroke="#000" font-weight="normal" transform="translate(190.4 53.7) rotate(-90)">Enrichment scores</text>
<text x="0" y="0" font-size="5.5" text-anchor="middle" fill="#000" stroke="#000" font-weight="normal" transform="translate(189.9 116.7) rotate(-90)">Ranked list metric (S/N)</text>
<text x="266.6" y="177.8" font-size="5.5" text-anchor="middle" fill="#000" stroke="#000" font-weight="normal" >Genes downregulted in T<tspan font-size="3.8" dy="1.5">BCM</tspan><tspan dy="-1.5"> </tspan>cells</text>
<text x="266.6" y="184.20000000000002" font-size="5.5" text-anchor="middle" fill="#000" stroke="#000" font-weight="normal" >relatively to T<tspan font-size="3.8" dy="1.5">EM</tspan><tspan dy="-1.5"> </tspan>cells</text>
<line x1="207.3" y1="195.5" x2="207.3" y2="308.3" stroke="#222" stroke-width="1"/>
<line x1="205.0" y1="202.2" x2="207.3" y2="202.2" stroke="#222" stroke-width="0.7"/>
<text x="203.10000000000002" y="204.1" font-size="5.5" text-anchor="end" fill="#000" stroke="#000" font-weight="normal" >0.0</text>
<line x1="205.0" y1="215.8" x2="207.3" y2="215.8" stroke="#222" stroke-width="0.7"/>
<text x="203.10000000000002" y="217.70000000000002" font-size="5.5" text-anchor="end" fill="#000" stroke="#000" font-weight="normal" >−0.2</text>
<line x1="205.0" y1="229.4" x2="207.3" y2="229.4" stroke="#222" stroke-width="0.7"/>
<text x="203.10000000000002" y="231.3" font-size="5.5" text-anchor="end" fill="#000" stroke="#000" font-weight="normal" >−0.4</text>
<line x1="205.0" y1="243.3" x2="207.3" y2="243.3" stroke="#222" stroke-width="0.7"/>
<text x="203.10000000000002" y="245.20000000000002" font-size="5.5" text-anchor="end" fill="#000" stroke="#000" font-weight="normal" >−0.6</text>
<line x1="205.8" y1="208.9" x2="207.3" y2="208.9" stroke="#222" stroke-width="0.6"/>
<line x1="205.8" y1="222.6" x2="207.3" y2="222.6" stroke="#222" stroke-width="0.6"/>
<line x1="205.8" y1="236.3" x2="207.3" y2="236.3" stroke="#222" stroke-width="0.6"/>
<line x1="207.3" y1="249.3" x2="323.5" y2="249.3" stroke="#c8c8c8" stroke-width="0.6"/>
<rect x="208.2" y="249.60000000000002" width="0.8000000000000114" height="18.00000000000001" fill="#222"/>
<rect x="209.4" y="249.60000000000002" width="1.1999999999999886" height="18.00000000000001" fill="#999"/>
<rect x="214.1" y="249.60000000000002" width="0.700000000000017" height="18.00000000000001" fill="#444"/>
<rect x="216" y="249.60000000000002" width="1" height="18.00000000000001" fill="#999"/>
<rect x="222.5" y="249.60000000000002" width="4.699999999999989" height="18.00000000000001" fill="#a0a0a0"/>
<rect x="235.5" y="249.60000000000002" width="0.6999999999999886" height="18.00000000000001" fill="#444"/>
<rect x="237.2" y="249.60000000000002" width="0.6000000000000227" height="18.00000000000001" fill="#555"/>
<rect x="241" y="249.60000000000002" width="2.3000000000000114" height="18.00000000000001" fill="#aaa"/>
<rect x="244.3" y="249.60000000000002" width="0.5999999999999943" height="18.00000000000001" fill="#666"/>
<rect x="248.7" y="249.60000000000002" width="1.8000000000000114" height="18.00000000000001" fill="#777"/>
<rect x="252.1" y="249.60000000000002" width="0.5999999999999943" height="18.00000000000001" fill="#888"/>
<rect x="255.2" y="249.60000000000002" width="1.1999999999999886" height="18.00000000000001" fill="#999"/>
<rect x="258.2" y="249.60000000000002" width="1.8000000000000114" height="18.00000000000001" fill="#aaa"/>
<rect x="263.6" y="249.60000000000002" width="1.1999999999999886" height="18.00000000000001" fill="#888"/>
<rect x="265.1" y="249.60000000000002" width="0.5999999999999659" height="18.00000000000001" fill="#888"/>
<rect x="267.8" y="249.60000000000002" width="1.8999999999999773" height="18.00000000000001" fill="#999"/>
<rect x="272" y="249.60000000000002" width="0.6000000000000227" height="18.00000000000001" fill="#777"/>
<rect x="274" y="249.60000000000002" width="0.6000000000000227" height="18.00000000000001" fill="#888"/>
<rect x="278" y="249.60000000000002" width="2" height="18.00000000000001" fill="#999"/>
<rect x="281.8" y="249.60000000000002" width="1.1999999999999886" height="18.00000000000001" fill="#888"/>
<rect x="284.3" y="249.60000000000002" width="1.8999999999999773" height="18.00000000000001" fill="#999"/>
<rect x="288.7" y="249.60000000000002" width="1.3000000000000114" height="18.00000000000001" fill="#999"/>
<rect x="291.7" y="249.60000000000002" width="0.6000000000000227" height="18.00000000000001" fill="#888"/>
<rect x="295.5" y="249.60000000000002" width="0.6000000000000227" height="18.00000000000001" fill="#888"/>
<rect x="299.5" y="249.60000000000002" width="2.5" height="18.00000000000001" fill="#aaa"/>
<rect x="304.4" y="249.60000000000002" width="0.6000000000000227" height="18.00000000000001" fill="#777"/>
<rect x="308.4" y="249.60000000000002" width="1.900000000000034" height="18.00000000000001" fill="#111"/>
<rect x="312.2" y="249.60000000000002" width="1.900000000000034" height="18.00000000000001" fill="#888"/>
<rect x="315.4" y="249.60000000000002" width="1.900000000000034" height="18.00000000000001" fill="#111"/>
<rect x="318.6" y="249.60000000000002" width="3.1999999999999886" height="18.00000000000001" fill="#0a0a0a"/>
<rect x="207.8" y="267.6" width="115.19999999999999" height="4.1" fill="url(#cbar)"/>
<polyline points="207.8,198.4 212,199.4 216,200.5 220,202 225,203.6 230,205.7 235,208.4 240,211.3 245,214.2 250,217.2 258,222.2 266,226.8 273,230.9 280,234.6 285,237.3 290,240.2 295,242.8 300,245.0 303,246.2 306,247 309,246.9 311.5,245.9 313,244.3 315,242.4 316.3,240 317.2,236.6 318.3,230.5 319.3,224 320.2,216.5 320.9,208.5 321.4,202.2" fill="none" stroke="#80a844" stroke-width="1.3" stroke-linejoin="round"/>
<line x1="250.3" y1="197.8" x2="258.1" y2="197.8" stroke="#a8b888" stroke-width="1.2"/>
<line x1="250.3" y1="203.4" x2="258.1" y2="203.4" stroke="#000" stroke-width="1.2"/>
<line x1="250.3" y1="209.20000000000002" x2="258.1" y2="209.20000000000002" stroke="#b8b8b8" stroke-width="2"/>
<text x="260.3" y="199.8" font-size="5.5" text-anchor="start" fill="#000" stroke="#000" font-weight="normal" >Enrichment profile</text>
<text x="260.3" y="205.4" font-size="5.5" text-anchor="start" fill="#000" stroke="#000" font-weight="normal" >Hits</text>
<text x="260.3" y="211.20000000000002" font-size="5.5" text-anchor="start" fill="#000" stroke="#000" font-weight="normal" >Ranking metric scores</text>
<line x1="205.0" y1="276.5" x2="207.3" y2="276.5" stroke="#222" stroke-width="0.7"/>
<text x="203.10000000000002" y="278.4" font-size="5.5" text-anchor="end" fill="#000" stroke="#000" font-weight="normal" >1</text>
<line x1="205.8" y1="281.1" x2="207.3" y2="281.1" stroke="#222" stroke-width="0.6"/>
<line x1="205.0" y1="285.4" x2="207.3" y2="285.4" stroke="#222" stroke-width="0.7"/>
<text x="203.10000000000002" y="287.29999999999995" font-size="5.5" text-anchor="end" fill="#000" stroke="#000" font-weight="normal" >0</text>
<line x1="205.8" y1="290.0" x2="207.3" y2="290.0" stroke="#222" stroke-width="0.6"/>
<line x1="205.0" y1="294.6" x2="207.3" y2="294.6" stroke="#222" stroke-width="0.7"/>
<text x="203.10000000000002" y="296.5" font-size="5.5" text-anchor="end" fill="#000" stroke="#000" font-weight="normal" >−1</text>
<line x1="205.8" y1="299.20000000000005" x2="207.3" y2="299.20000000000005" stroke="#222" stroke-width="0.6"/>
<line x1="205.0" y1="303.9" x2="207.3" y2="303.9" stroke="#222" stroke-width="0.7"/>
<text x="203.10000000000002" y="305.79999999999995" font-size="5.5" text-anchor="end" fill="#000" stroke="#000" font-weight="normal" >−2</text>
<line x1="207.3" y1="285.4" x2="322.8" y2="285.4" stroke="#909090" stroke-width="0.5"/>
<polygon points="207.8,285.4 207.8,281.9 209.3,283.6 212.3,284.4 219.3,284.8 237.3,285.1 262.0,285.4 280.0,286.0 300.0,287.0 312.0,288.4 318.0,289.9 320.5,291.9 321.5,295.4 322.2,300.4 322.8,304.9 322.8,285.4" fill="#a8a8a8"/>
<text x="209.5" y="278.5" font-size="5.5" text-anchor="start" fill="#c0303c" stroke="#c0303c" font-weight="normal" >‘T<tspan font-size="3.8" dy="1.2">BCM</tspan><tspan dy="-1.2">-enriched’ (positively correlated)</tspan></text>
<text x="269.1" y="291.5" font-size="5.5" text-anchor="middle" fill="#000" stroke="#000" font-weight="normal" >Zero cross at 10644</text>
<text x="320.2" y="305.6" font-size="5.5" text-anchor="end" fill="#5a5aa8" stroke="#5a5aa8" font-weight="normal" >‘Standard’ (negatively correlated)</text>
<line x1="207.3" y1="308.20000000000005" x2="327" y2="308.20000000000005" stroke="#222" stroke-width="1"/>
<line x1="207.50" y1="308.20000000000005" x2="207.50" y2="310.6" stroke="#222" stroke-width="0.7"/>
<text x="207.5" y="317.70000000000005" font-size="5.5" text-anchor="middle" fill="#000" stroke="#000" font-weight="normal" >0</text>
<line x1="221.77" y1="308.20000000000005" x2="221.77" y2="310.6" stroke="#222" stroke-width="0.7"/>
<line x1="236.04" y1="308.20000000000005" x2="236.04" y2="310.6" stroke="#222" stroke-width="0.7"/>
<text x="236.04" y="317.70000000000005" font-size="5.5" text-anchor="middle" fill="#000" stroke="#000" font-weight="normal" >5</text>
<line x1="250.31" y1="308.20000000000005" x2="250.31" y2="310.6" stroke="#222" stroke-width="0.7"/>
<line x1="264.58" y1="308.20000000000005" x2="264.58" y2="310.6" stroke="#222" stroke-width="0.7"/>
<text x="264.58" y="317.70000000000005" font-size="5.5" text-anchor="middle" fill="#000" stroke="#000" font-weight="normal" >10</text>
<line x1="278.85" y1="308.20000000000005" x2="278.85" y2="310.6" stroke="#222" stroke-width="0.7"/>
<line x1="293.12" y1="308.20000000000005" x2="293.12" y2="310.6" stroke="#222" stroke-width="0.7"/>
<text x="293.12" y="317.70000000000005" font-size="5.5" text-anchor="middle" fill="#000" stroke="#000" font-weight="normal" >15</text>
<line x1="307.39" y1="308.20000000000005" x2="307.39" y2="310.6" stroke="#222" stroke-width="0.7"/>
<line x1="321.66" y1="308.20000000000005" x2="321.66" y2="310.6" stroke="#222" stroke-width="0.7"/>
<text x="321.66" y="317.70000000000005" font-size="5.5" text-anchor="middle" fill="#000" stroke="#000" font-weight="normal" >20</text>
<text x="267.5" y="327.20000000000005" font-size="5.5" text-anchor="middle" fill="#000" stroke="#000" font-weight="normal" >Rank in ordered dataset (x10<tspan font-size="3.8" dy="-2">3</tspan><tspan dy="2">)</tspan></text>
<text x="0" y="0" font-size="5.5" text-anchor="middle" fill="#000" stroke="#000" font-weight="normal" transform="translate(188.20000000000002 218.0) rotate(-90)">Enrichment scores</text>
<text x="0" y="0" font-size="5.5" text-anchor="middle" fill="#000" stroke="#000" font-weight="normal" transform="translate(187.70000000000002 281.0) rotate(-90)">Ranked list metric (S/N)</text>
<rect x="343.7" y="37.2" width="169" height="1.2" fill="#a9cec6"/>
<rect x="343.7" y="38.4" width="169" height="3.5" fill="#e4e6e4"/>
<rect x="343.7" y="41.9" width="169" height="1.2" fill="#a9cec6"/>
<path d="M451.6,33.2 Q453.5,32.2 455.4,33.2 L455.0,39.6 L455.4,46 Q453.5,47 451.6,46 L452.0,39.6 Z" fill="#a2aaea" stroke="#8a92dc" stroke-width="0.4"/>
<path d="M455.8,33.2 Q457.7,32.2 459.6,33.2 L459.2,39.6 L459.6,46 Q457.7,47 455.8,46 L456.2,39.6 Z" fill="#a2aaea" stroke="#8a92dc" stroke-width="0.4"/>
<text x="461.8" y="34.3" font-size="5.5" text-anchor="start" fill="#5a6898" stroke="#5a6898" font-weight="normal" >GLUT1</text>
<text x="436.9" y="21.3" font-size="5.5" text-anchor="end" fill="#000" stroke="#000" font-weight="normal" >Glucose</text>
<path d="M440,19.4 H452.7 Q455.6,19.4 455.6,22.4 V31" fill="none" stroke="#333" stroke-width="0.7"/>
<path d="M454.20000000000005,31.305 L457.0,31.305 L455.6,34 Z" fill="#000"/>
<line x1="455.6" y1="34" x2="455.6" y2="47" stroke="#222" stroke-width="0.6"/>
<path d="M454.3,47.697500000000005 L456.90000000000003,47.697500000000005 L455.6,50.2 Z" fill="#000"/>
<text x="455.2" y="56.0" font-size="5.5" text-anchor="middle" fill="#000" stroke="#000" font-weight="normal" >Glucose</text>
<line x1="455.5" y1="57.6" x2="455.5" y2="73" stroke="#222" stroke-width="0.7"/>
<path d="M454.2,73.0975 L456.8,73.0975 L455.5,75.6 Z" fill="#000"/>
<text x="436.6" y="66.75" font-size="5.5" text-anchor="end" fill="#3e4398" stroke="#3e4398" font-weight="normal" >Hexokinase</text>
<rect x="439.3" y="64.30" width="14.30" height="0.9" fill="url(#bl)"/>
<text x="455.2" y="80.1" font-size="5.5" text-anchor="middle" fill="#000" stroke="#000" font-weight="normal" >Glucose-6-P</text>
<line x1="454.7" y1="84.0" x2="454.7" y2="98.5" stroke="#444" stroke-width="0.6"/>
<line x1="456.09999999999997" y1="82.0" x2="456.09999999999997" y2="96.5" stroke="#444" stroke-width="0.6"/>
<rect x="454.9" y="84.0" width="1" height="12.5" fill="#bbb"/>
<path d="M454.59999999999997,82.0 L453.09999999999997,85.0 L455.4,85.0 Z" fill="#222"/>
<path d="M456.2,98.5 L457.7,95.5 L455.4,95.5 Z" fill="#222"/>
<text x="436.6" y="93.7" font-size="5.5" text-anchor="end" fill="#3e4398" stroke="#3e4398" font-weight="normal" >Glucose 6-isomerase</text>
<rect x="439.0" y="91.65" width="14.30" height="0.9" fill="url(#bl)"/>
<text x="454.6" y="104.3" font-size="5.5" text-anchor="middle" fill="#000" stroke="#000" font-weight="normal" >Fructose-6-P</text>
<line x1="455.3" y1="106" x2="455.3" y2="120.5" stroke="#222" stroke-width="0.7"/>
<path d="M454.0,120.6975 L456.6,120.6975 L455.3,123.2 Z" fill="#000"/>
<text x="436.7" y="115.5" font-size="5.5" text-anchor="end" fill="#3e4398" stroke="#3e4398" font-weight="normal" >Phosphofructokinase</text>
<rect x="439.0" y="113.65" width="13.40" height="0.9" fill="url(#bl)"/>
<text x="454.8" y="128.7" font-size="5.5" text-anchor="middle" fill="#000" stroke="#000" font-weight="normal" >Fructose-1,6-BP</text>
<line x1="454.6" y1="132.5" x2="454.6" y2="147.3" stroke="#444" stroke-width="0.6"/>
<line x1="456.0" y1="130.5" x2="456.0" y2="145.3" stroke="#444" stroke-width="0.6"/>
<rect x="454.8" y="132.5" width="1" height="12.800000000000011" fill="#bbb"/>
<path d="M454.5,130.5 L453.0,133.5 L455.3,133.5 Z" fill="#222"/>
<path d="M456.1,147.3 L457.6,144.3 L455.3,144.3 Z" fill="#222"/>
<text x="436.7" y="139.6" font-size="5.5" text-anchor="end" fill="#9a9a9a" stroke="#9a9a9a" font-weight="normal" >Aldolase</text>
<rect x="439.0" y="137.55" width="13.00" height="0.9" fill="url(#gl)"/>
<path d="M416.2,153 V151 Q416.2,148 419.2,148 H499.3 Q502.3,148 502.3,151 V153" fill="none" stroke="#444" stroke-width="0.7"/>
<path d="M414.9,153.2975 L417.5,153.2975 L416.2,155.8 Z" fill="#000"/>
<path d="M501.0,153.2975 L503.6,153.2975 L502.3,155.8 Z" fill="#000"/>
<text x="415.8" y="166.3" font-size="5.5" text-anchor="middle" fill="#000" stroke="#000" font-weight="normal" >Glyceraldehyde-3-P</text>
<text x="494.7" y="166.3" font-size="5.5" text-anchor="start" fill="#000" stroke="#000" font-weight="normal" >DHAP</text>
<line x1="447" y1="163.3" x2="490" y2="163.3" stroke="#444" stroke-width="0.6"/>
<line x1="445" y1="164.9" x2="488" y2="164.9" stroke="#444" stroke-width="0.6"/>
<rect x="447" y="163.5" width="41" height="1.2" fill="#bbb"/>
<path d="M445,164.9 L447.8,163.8 L447.8,166 Z" fill="#444"/>
<path d="M490,163.3 L487.2,162.2 L487.2,164.4 Z" fill="#444"/>
<line x1="477.4" y1="166.5" x2="477.4" y2="179.9" stroke="#3a3e8c" stroke-width="0.9"/>
<text x="476.2" y="186.5" font-size="5.5" text-anchor="middle" fill="#3e4398" stroke="#3e4398" font-weight="normal" >Triosephosphate</text>
<text x="476.2" y="193.0" font-size="5.5" text-anchor="middle" fill="#3e4398" stroke="#3e4398" font-weight="normal" >isomerase</text>
<line x1="416.5" y1="170.5" x2="416.5" y2="183.5" stroke="#444" stroke-width="0.6"/>
<line x1="417.9" y1="168.5" x2="417.9" y2="181.5" stroke="#444" stroke-width="0.6"/>
<rect x="416.7" y="170.5" width="1" height="11.0" fill="#bbb"/>
<path d="M416.4,168.5 L414.9,171.5 L417.2,171.5 Z" fill="#222"/>
<path d="M418.0,183.5 L419.5,180.5 L417.2,180.5 Z" fill="#222"/>
<text x="395.4" y="175.1" font-size="5.5" text-anchor="end" fill="#3e4398" stroke="#3e4398" font-weight="normal" >Glyceraldehyde 3-</text>
<text x="395.4" y="181.6" font-size="5.5" text-anchor="end" fill="#3e4398" stroke="#3e4398" font-weight="normal" >dehydrogenase</text>
<rect x="397.0" y="176.55" width="17.30" height="0.9" fill="url(#bl)"/>
<text x="417" y="189.0" font-size="5.5" text-anchor="middle" fill="#000" stroke="#000" font-weight="normal" >1,3 BP-glycerate</text>
<line x1="416.5" y1="193.6" x2="416.5" y2="206" stroke="#444" stroke-width="0.6"/>
<line x1="417.9" y1="191.6" x2="417.9" y2="204" stroke="#444" stroke-width="0.6"/>
<rect x="416.7" y="193.6" width="1" height="10.400000000000006" fill="#bbb"/>
<path d="M416.4,191.6 L414.9,194.6 L417.2,194.6 Z" fill="#222"/>
<path d="M418.0,206 L419.5,203 L417.2,203 Z" fill="#222"/>
<text x="394.7" y="200.0" font-size="5.5" text-anchor="end" fill="#9a9a9a" stroke="#9a9a9a" font-weight="normal" >Phosphoglycerate</text>
<text x="394.7" y="206.7" font-size="5.5" text-anchor="end" fill="#9a9a9a" stroke="#9a9a9a" font-weight="normal" >kinase</text>
<rect x="397.0" y="201.55" width="17.60" height="0.9" fill="url(#gl)"/>
<text x="416.6" y="212.5" font-size="5.5" text-anchor="middle" fill="#000" stroke="#000" font-weight="normal" >3-P-glycerate</text>
<line x1="416.5" y1="215.9" x2="416.5" y2="229.6" stroke="#444" stroke-width="0.6"/>
<line x1="417.9" y1="213.9" x2="417.9" y2="227.6" stroke="#444" stroke-width="0.6"/>
<rect x="416.7" y="215.9" width="1" height="11.699999999999989" fill="#bbb"/>
<path d="M416.4,213.9 L414.9,216.9 L417.2,216.9 Z" fill="#222"/>
<path d="M418.0,229.6 L419.5,226.6 L417.2,226.6 Z" fill="#222"/>
<text x="394.7" y="220.5" font-size="5.5" text-anchor="end" fill="#3e4398" stroke="#3e4398" font-weight="normal" >Phosphoglycerate</text>
<text x="394.7" y="227.0" font-size="5.5" text-anchor="end" fill="#3e4398" stroke="#3e4398" font-weight="normal" >mutase</text>
<rect x="397.0" y="221.95" width="17.30" height="0.9" fill="url(#bl)"/>
<text x="416.6" y="235.0" font-size="5.5" text-anchor="middle" fill="#000" stroke="#000" font-weight="normal" >2-P-glycerate</text>
<line x1="416.5" y1="239" x2="416.5" y2="252" stroke="#444" stroke-width="0.6"/>
<line x1="417.9" y1="237" x2="417.9" y2="250" stroke="#444" stroke-width="0.6"/>
<rect x="416.7" y="239" width="1" height="11" fill="#bbb"/>
<path d="M416.4,237 L414.9,240 L417.2,240 Z" fill="#222"/>
<path d="M418.0,252 L419.5,249 L417.2,249 Z" fill="#222"/>
<text x="394.7" y="245.4" font-size="5.5" text-anchor="end" fill="#3e4398" stroke="#3e4398" font-weight="normal" >Enolase</text>
<rect x="397.0" y="242.95" width="17.30" height="0.9" fill="url(#bl)"/>
<text x="417.4" y="257.5" font-size="5.5" text-anchor="middle" fill="#000" stroke="#000" font-weight="normal" >Phosphoenolpyruvate</text>
<line x1="416.6" y1="259" x2="416.6" y2="273.5" stroke="#222" stroke-width="0.7"/>
<path d="M415.3,273.6975 L417.90000000000003,273.6975 L416.6,276.2 Z" fill="#000"/>
<text x="394.6" y="265.5" font-size="5.5" text-anchor="end" fill="#3e4398" stroke="#3e4398" font-weight="normal" >Pyruvate</text>
<text x="394.6" y="272.0" font-size="5.5" text-anchor="end" fill="#3e4398" stroke="#3e4398" font-weight="normal" >kinase</text>
<rect x="397.0" y="267.25" width="17.30" height="0.9" fill="url(#bl)"/>
<text x="416" y="282.2" font-size="5.5" text-anchor="middle" fill="#000" stroke="#000" font-weight="normal" >Pyruvate</text>
<text x="455.2" y="282.2" font-size="5.5" text-anchor="start" fill="#000" stroke="#000" font-weight="normal" >Lactate</text>
<line x1="433" y1="279.5" x2="453.5" y2="279.5" stroke="#444" stroke-width="0.6"/>
<line x1="431.1" y1="281" x2="451.5" y2="281" stroke="#444" stroke-width="0.6"/>
<rect x="433" y="279.7" width="18.5" height="1.1" fill="#bbb"/>
<path d="M431.1,281 L433.9,279.9 L433.9,282.1 Z" fill="#444"/>
<path d="M453.5,279.5 L450.7,278.4 L450.7,280.6 Z" fill="#444"/>
<line x1="442" y1="283.2" x2="442" y2="296.3" stroke="#3a3e8c" stroke-width="0.9"/>
<text x="443.2" y="303.0" font-size="5.5" text-anchor="middle" fill="#3e4398" stroke="#3e4398" font-weight="normal" >Lactate dehydrogenase</text>
<text x="6.9" y="15.8" font-size="12" font-weight="bold">A</text>
<text x="7.6" y="215.7" font-size="12" font-weight="bold">B</text>
<text x="181.4" y="15.7" font-size="12" font-weight="bold">C</text>
<text x="340.0" y="15.6" font-size="12" font-weight="bold">D</text>
<rect x="0" y="0" width="520" height="1.2" fill="#111"/><rect x="0" y="0" width="1.15" height="336" fill="#111"/><rect x="518.5" y="0" width="1.5" height="336" fill="#111"/><rect x="0" y="334.6" width="520" height="1.4" fill="#111"/>
</svg>
</body></html>
